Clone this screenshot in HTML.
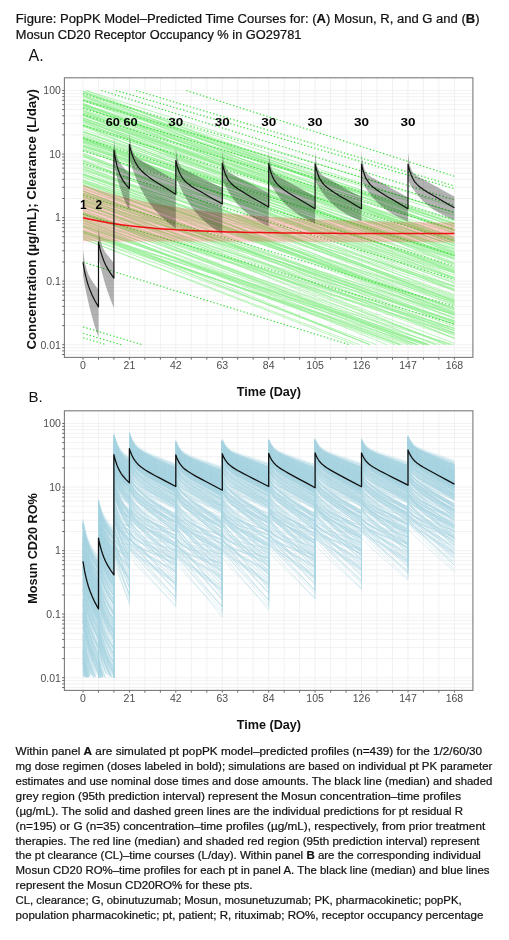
<!DOCTYPE html>
<html><head><meta charset="utf-8"><style>
html,body{margin:0;padding:0;background:#fff;width:509px;height:940px;overflow:hidden}
svg{display:block;will-change:transform}
text{font-family:"Liberation Sans",sans-serif}
.tk{font-size:10.5px;fill:#4d4d4d}
.cap{font-size:11.7px;fill:#111;stroke:#111;stroke-width:0.22px}
.ttl{font-size:12.85px;fill:#111;stroke:#111;stroke-width:0.22px}
.ax{font-size:12.4px;font-weight:bold;fill:#111}
.dl{font-size:11.5px;font-weight:bold;fill:#000}
</style></head><body>
<svg width="509" height="940" viewBox="0 0 509 940">
<rect width="509" height="940" fill="#fff"/>

<text class="ttl" x="15.8" y="22.5" textLength="463.8" lengthAdjust="spacingAndGlyphs">Figure: PopPK Model–Predicted Time Courses for: (<tspan font-weight="bold">A</tspan>) Mosun, R, and G and (<tspan font-weight="bold">B</tspan>)</text>
<text class="ttl" x="15.8" y="39.1" textLength="285.6" lengthAdjust="spacingAndGlyphs">Mosun CD20 Receptor Occupancy % in GO29781</text>
<text x="28.6" y="61.3" style="font-size:16px;fill:#111">A.</text>
<text x="28.6" y="402" style="font-size:15px;fill:#111">B.</text>
<defs><clipPath id="ca"><rect x="64.4" y="77.8" width="408.5" height="279.6"/></clipPath><clipPath id="cb"><rect x="64.4" y="410.8" width="408.5" height="279.6"/></clipPath></defs>
<path d="M83 77.8V357.4M98.5 77.8V357.4M113.9 77.8V357.4M129.4 77.8V357.4M144.9 77.8V357.4M160.4 77.8V357.4M175.8 77.8V357.4M191.3 77.8V357.4M206.8 77.8V357.4M222.3 77.8V357.4M237.7 77.8V357.4M253.2 77.8V357.4M268.7 77.8V357.4M284.2 77.8V357.4M299.6 77.8V357.4M315.1 77.8V357.4M330.6 77.8V357.4M346.1 77.8V357.4M361.5 77.8V357.4M377 77.8V357.4M392.5 77.8V357.4M408 77.8V357.4M423.4 77.8V357.4M438.9 77.8V357.4M454.4 77.8V357.4M64.4 354.5H472.9M64.4 350.9H472.9M64.4 347.6H472.9M64.4 344.7H472.9M64.4 325.6H472.9M64.4 314.4H472.9M64.4 306.4H472.9M64.4 300.3H472.9M64.4 295.2H472.9M64.4 291H472.9M64.4 287.3H472.9M64.4 284.1H472.9M64.4 281.1H472.9M64.4 262H472.9M64.4 250.8H472.9M64.4 242.9H472.9M64.4 236.7H472.9M64.4 231.7H472.9M64.4 227.4H472.9M64.4 223.8H472.9M64.4 220.5H472.9M64.4 217.6H472.9M64.4 198.5H472.9M64.4 187.3H472.9M64.4 179.3H472.9M64.4 173.2H472.9M64.4 168.1H472.9M64.4 163.9H472.9M64.4 160.2H472.9M64.4 157H472.9M64.4 154.1H472.9M64.4 134.9H472.9M64.4 123.7H472.9M64.4 115.8H472.9M64.4 109.6H472.9M64.4 104.6H472.9M64.4 100.3H472.9M64.4 96.7H472.9M64.4 93.4H472.9M64.4 90.5H472.9" stroke="#ececec" stroke-width="0.7" fill="none"/>
<g clip-path="url(#ca)">
<path d="M83 138.6L454.4 286.7M83 118.1L454.4 238.7M83 185.9L454.4 333M83 238.7L354.5 344.7M83 115.2L454.4 245.8M83 185.4L454.4 308.2M83 193L454.4 322.6M83 155.6L454.4 289.6M86.4 90.5L454.4 233M83 139L454.4 290.8M83 199.3L454.4 317.3M83 140.3L454.4 253.6M83 231.5L400.3 344.7M83 161.1L454.4 310M83 138L454.4 270.5M83 156.7L454.4 278.2M83 237L418.4 344.7M83 129.4L454.4 249M83 175.3L454.4 286.9M83 110.8L454.4 228.6M83 190.9L454.4 338.3M83 154.8L454.4 300.8M83 136.6L454.4 278.3M83 220.6L428.2 344.7M83 155.1L454.4 302.1M83 176.6L454.4 312.4M83 226.7L427.3 344.7M83 182.4L454.4 299.9M83 112.7L454.4 239.6M83 91.3L454.4 226.9M83 141.4L454.4 278.9M83 131.5L454.4 249.1M83 164.8L454.4 286.1M83 170.4L454.4 285.8M83 92.8L454.4 213M83 132.2L454.4 255.9M83 105L454.4 243.5M83 213.4L417.2 344.7M83 95.7L454.4 244.1M83 146.3L454.4 263.7M83 203L435.3 344.7M83 148.8L454.4 267.6M83 103.7L454.4 241.3M83 146.3L454.4 273.1M83 169.2L454.4 290.4M83 231L369.7 344.7M83 160.9L454.4 294.7M83 182.5L454.4 324.6M83 233.8L408.2 344.7M83 232.7L440.3 344.7M83 92.8L454.4 231.1M83 166.6L454.4 299.4M83 105.2L454.4 230.7M83 143.4L454.4 282.8M83 177.4L454.4 310.1M83 119.5L454.4 268.1M83 210L417.5 344.7M83 238.7L359.8 344.7M83 113.4L454.4 230.4M83 168L454.4 312.7M83 236.4L376.5 344.7M83 115.8L454.4 248.1M83 124.8L454.4 245.5M83 202L454.4 328.3M83 205.2L454.4 330.8M83 95.3L454.4 230.2M83 179.8L454.4 302.3M83 94.8L454.4 224.4M83 91.1L454.4 223.6M83 153.2L454.4 301.2M83 122.5L454.4 257.7M83 166.8L454.4 314.1M83 169.1L454.4 318.2M83 224.9L428 344.7M83 153.4L454.4 303.7M83 193.6L454.4 337.9M83 131.5L454.4 272.2M83 138L454.4 289.1M83 180.9L454.4 308.6M83 201.3L454.4 314.8M83 199.7L444.9 344.7M83 109.5L454.4 225.5M83 141.6L454.4 272.6M83 142.8L454.4 281.2M83 184.9L454.4 335.6M83 161.1L454.4 298.2M83 137.2L454.4 256.1M83 226.2L426.2 344.7M83 119.7L454.4 264.4M83 124.2L454.4 240.3M83 99.9L454.4 244M83 104.5L454.4 237.3M83 99.6L454.4 212.9M83 232.7L453.6 344.7M83 193.3L454.4 314.9M83 203.9L454.4 338.5M83 230.8L395 344.7M83 207.5L449.4 344.7M83 234.8L412 344.7M83 96.6L454.4 230M83 113.3L454.4 251.6M83 140.6L454.4 259.8M83 145.7L454.4 258.7M83 114.6L454.4 265.3M83 107.7L454.4 221.2M83 180L454.4 304.4M83 216.7L429.9 344.7M83 115.2L454.4 239.4M83 106.5L454.4 250.5M83 213.8L423.5 344.7M83 103.9L454.4 223.4M83 145.8L454.4 283.3M83 140.8L454.4 256.1M83 133.6L454.4 270.9M83 111.7L454.4 255.9M83 181.7L454.4 322.6M83 105.9L454.4 253.8M83 208.2L454.4 320.7M83 135.1L454.4 255.2M83 147.2L454.4 297.2M83 173.8L454.4 295.6M83 162.5L454.4 300.8M83 218.8L451.2 344.7M83 213L436.2 344.7M83 110.8L454.4 237.6M83 175L454.4 308.4M83 199.3L454.4 320.9M83 181.3L454.4 311.4M83 222.4L402.4 344.7M83 145L454.4 268.7M83 223.2L399.5 344.7M83 213.5L454.4 330.3M83 213.5L454.4 328.3M83 100.8L454.4 223.2M83 184.9L454.4 330.3M83 139.3L454.4 258.4M83 165.6L454.4 313.2M83 174.4L454.4 314.9M83 219.6L412.2 344.7M83 118L454.4 263.1M83 131.8L454.4 258.4M83 225.8L416.1 344.7M83 120.5L454.4 239.8M83 191.2L454.4 324.5M83 121.8L454.4 269.8M83 214.4L454.4 333.4M83 114.9L454.4 252.6M83 125.5L454.4 277.6M83 96.5L454.4 242.3M83 117.9L454.4 245.5M83 136.4L454.4 255.3M83 120.3L454.4 262.6M83 125.4L454.4 255M83 174L454.4 302.6M83 232L369.7 344.7M83 150.2L454.4 277.4M83 149.4L454.4 290.3M83 173.5L454.4 318.9M83 99.1L454.4 226.3M83 212.3L428.1 344.7M86.1 90.5L454.4 207M83 126.6L454.4 271.7M83 98.9L454.4 215.4M83 220.5L386.9 344.7M83 216L454.4 334.6M83 145.6L454.4 275.2M83 121.5L454.4 240.7M83 99.7L454.4 220M83 119L454.4 233.2M83 160L454.4 272.8M83 183.8L454.4 307.9M83 125.6L454.4 255.6M83 227.2L369.9 344.7M83 103.1L454.4 251.9M83 194.3L454.4 321.8M83 197.4L454.4 313.9M83 232.1L399.8 344.7M83 214.9L454.4 333.5M83 106.8L454.4 238M83 204.5L454.4 343.3M83 191.2L454.4 324.2M83 188.5L454.4 321M83 138.1L454.4 271.5M83 171.4L454.4 315.2M83 105.1L454.4 223.8M83 212.6L454.4 328.6M83 91.2L454.4 241.1M83 196.8L446.6 344.7M83 200.5L454.4 332.6M83 156.6L454.4 305.4M83 230.5L424.1 344.7M83 142.1L454.4 256.2M83 195.9L454.4 326.3M83 104.1L454.4 246.6M83 111L454.4 253.5" stroke="#90ee90" stroke-opacity="0.65" stroke-width="0.9" fill="none"/>
<path d="M186.3 90.5L454.4 176.3M136 90.5L454.4 186M115.9 90.5L454.4 188.7M101.4 90.5L454.4 199.9M83 93.7L454.4 205.1M83 100.7L454.4 212.1M83 108.3L454.4 219.7M83 114.6L454.4 229.8M83 125.5L454.4 241M83 138.2L454.4 255.3M83 150.9L454.4 266.2M83 163.6L454.4 279.5M83 195.4L454.4 306.4M83 214.4L454.4 324M83 262.1L349.5 344.7M83 326.9L142.3 344.7M83 333.3L121.1 344.7M83 337.7L106.3 344.7" stroke="#30dc30" stroke-opacity="0.9" stroke-width="1.2" stroke-dasharray="1.4 2.1" fill="none"/>
<polygon points="83,184.8 89.6,187.1 96.3,189.2 102.9,191.3 109.5,193.2 116.2,195 122.8,196.7 129.4,198.2 136.1,199.7 142.7,201.2 149.3,202.5 156,203.7 162.6,204.9 169.2,206 175.8,207.1 182.5,208.1 189.1,209 195.7,209.9 202.4,210.7 209,211.5 215.6,212.2 222.3,212.9 228.9,213.5 235.5,214.1 242.2,214.7 248.8,215.3 255.4,215.8 262.1,216.2 268.7,216.7 275.3,217.1 282,217.5 288.6,217.9 295.2,218.3 301.9,218.6 308.5,218.9 315.1,219.2 321.8,219.5 328.4,219.7 335,220 341.7,220.2 348.3,220.4 354.9,220.7 361.5,220.8 368.2,221 374.8,221.2 381.4,221.4 388.1,221.5 394.7,221.7 401.3,221.8 408,221.9 414.6,222 421.2,222.2 427.9,222.3 434.5,222.4 441.1,222.5 447.8,222.6 454.4,222.6 454.4,242.2 447.8,242.2 441.1,242.2 434.5,242.2 427.9,242.1 421.2,242.1 414.6,242.1 408,242.1 401.3,242.1 394.7,242.1 388.1,242 381.4,242 374.8,242 368.2,242 361.5,242 354.9,242 348.3,241.9 341.7,241.9 335,241.9 328.4,241.9 321.8,241.9 315.1,241.9 308.5,241.8 301.9,241.8 295.2,241.8 288.6,241.8 282,241.8 275.3,241.8 268.7,241.8 262.1,241.7 255.4,241.7 248.8,241.7 242.2,241.7 235.5,241.7 228.9,241.7 222.3,241.6 215.6,241.6 209,241.6 202.4,241.6 195.7,241.6 189.1,241.6 182.5,241.5 175.8,241.5 169.2,241.5 162.6,241.5 156,241.5 149.3,241.5 142.7,241.4 136.1,241.4 129.4,241.4 122.8,241.4 116.2,241.4 109.5,241.4 102.9,241.3 96.3,241.3 89.6,241.3 83,241.3" fill="#ff1010" fill-opacity="0.22"/>
<polygon points="83,249.6 83.2,251.5 83.6,254.1 84,257.2 84.5,260.5 85.2,263.9 86.1,267.5 87.2,271.1 88.5,274.4 90.1,277.5 92.3,281.2 94.9,285 98.5,289.7 98.5,337.4 94.9,326.7 92.3,317.7 90.1,309.4 88.5,303.1 87.2,297.2 86.1,291.9 85.2,287.5 84.5,283.9 84,280.9 83.6,278.3 83.2,276.4 83,275" fill="#000" fill-opacity="0.3"/>
<polygon points="98.5,227.3 98.7,229.3 99,231.9 99.5,234.9 100,238.1 100.7,241.1 101.6,244.3 102.7,247.3 104,250 105.5,252.5 107.8,255.5 110.4,258.8 113.9,262.9 113.9,308 110.4,299.3 107.8,292 105.5,285.2 104,280 102.7,275.3 101.6,271 100.7,267.3 100,264.4 99.5,261.9 99,259.9 98.7,258.3 98.5,257.2" fill="#000" fill-opacity="0.3"/>
<polygon points="113.9,138.1 114.2,140.4 114.5,143.4 114.9,146.8 115.5,150.2 116.2,153.5 117,156.7 118.2,159.6 119.5,162.1 121,164.3 123.2,167 125.9,169.9 129.4,173.6 129.4,210.7 125.9,203.3 123.2,196.9 121,190.8 119.5,186.1 118.2,181.6 117,177.5 116.2,174 115.5,171.2 114.9,168.8 114.5,166.8 114.2,165.2 113.9,164.2" fill="#000" fill-opacity="0.3"/>
<polygon points="129.4,131.9 129.6,134.4 130,137.6 130.4,141.1 131,144.6 131.6,147.9 132.5,151 133.6,153.6 135,155.6 136.5,157.2 138.7,158.9 141.4,160.6 144.9,162.7 149.3,165.2 154.8,168.4 160.4,171.6 167,175.4 175.8,180.5 175.8,228.5 167,221.7 160.4,215.7 154.8,209.9 149.3,203 144.9,196.3 141.4,190 138.7,184.5 136.5,179.4 135,175.5 133.6,171.9 132.5,168.7 131.6,166 131,163.8 130.4,162 130,160.5 129.6,159.4 129.4,158.6" fill="#000" fill-opacity="0.3"/>
<polygon points="175.8,147.8 176.1,149.8 176.4,152.5 176.8,155.5 177.4,158.4 178.1,161 178.9,163.5 180,165.6 181.4,167.2 182.9,168.5 185.1,169.9 187.8,171.3 191.3,173 195.7,175.2 201.3,177.9 206.8,180.6 213.4,183.8 222.3,188.1 222.3,234.2 213.4,228.3 206.8,223.2 201.3,218.2 195.7,212.2 191.3,206.6 187.8,201.3 185.1,196.8 182.9,192.7 181.4,189.5 180,186.7 178.9,184.1 178.1,182 177.4,180.4 176.8,179 176.4,177.8 176.1,177 175.8,176.4" fill="#000" fill-opacity="0.3"/>
<polygon points="222.3,150.4 222.5,152.5 222.8,155.4 223.3,158.5 223.8,161.6 224.5,164.4 225.4,167.1 226.5,169.3 227.8,171 229.3,172.4 231.6,173.8 234.2,175.3 237.7,177.2 242.2,179.4 247.7,182.3 253.2,185.1 259.9,188.6 268.7,193.1 268.7,226.5 259.9,221.9 253.2,217.8 247.7,213.8 242.2,209 237.7,204.4 234.2,200.1 231.6,196.4 229.3,193 227.8,190.5 226.5,188.1 225.4,186 224.5,184.3 223.8,182.9 223.3,181.8 222.8,180.8 222.5,180.1 222.3,179.6" fill="#000" fill-opacity="0.3"/>
<polygon points="268.7,150.9 268.9,153.2 269.3,156.3 269.7,159.6 270.2,163 270.9,166 271.8,168.8 272.9,171.1 274.2,173 275.8,174.5 278,176 280.6,177.6 284.2,179.6 288.6,182 294.1,185.1 299.6,188.1 306.3,191.8 315.1,196.7 315.1,223.4 306.3,219.1 299.6,215.4 294.1,211.6 288.6,207.2 284.2,203 280.6,199 278,195.6 275.8,192.5 274.2,190.1 272.9,187.9 271.8,186 270.9,184.4 270.2,183.2 269.7,182.1 269.3,181.2 268.9,180.6 268.7,180.1" fill="#000" fill-opacity="0.3"/>
<polygon points="315.1,151.3 315.3,153.6 315.7,156.7 316.1,160.1 316.7,163.4 317.3,166.4 318.2,169.3 319.3,171.6 320.7,173.5 322.2,175 324.4,176.5 327.1,178.1 330.6,180.1 335,182.6 340.5,185.7 346.1,188.7 352.7,192.4 361.5,197.3 361.5,221.5 352.7,217.5 346.1,213.9 340.5,210.4 335,206.2 330.6,202.1 327.1,198.4 324.4,195.2 322.2,192.2 320.7,190 319.3,187.9 318.2,186.1 317.3,184.6 316.7,183.4 316.1,182.4 315.7,181.6 315.3,180.9 315.1,180.5" fill="#000" fill-opacity="0.3"/>
<polygon points="361.5,151.3 361.8,153.6 362.1,156.7 362.5,160.1 363.1,163.5 363.8,166.5 364.6,169.4 365.7,171.7 367.1,173.6 368.6,175.1 370.8,176.7 373.5,178.3 377,180.3 381.4,182.8 387,185.8 392.5,188.9 399.1,192.6 408,197.6 408,221.5 399.1,217.5 392.5,213.9 387,210.4 381.4,206.2 377,202.1 373.5,198.4 370.8,195.2 368.6,192.2 367.1,190 365.7,187.9 364.6,186.1 363.8,184.6 363.1,183.4 362.5,182.4 362.1,181.6 361.8,180.9 361.5,180.5" fill="#000" fill-opacity="0.3"/>
<polygon points="408,151.3 408.2,153.6 408.5,156.6 409,159.9 409.5,163.2 410.2,166.2 411.1,169 412.2,171.3 413.5,173.1 415,174.6 417.3,176.1 419.9,177.7 423.4,179.6 427.9,182.1 433.4,185.1 438.9,188.1 445.6,191.7 454.4,196.6 454.4,220.1 445.6,216.2 438.9,212.8 433.4,209.4 427.9,205.3 423.4,201.4 419.9,197.8 417.3,194.7 415,191.8 413.5,189.7 412.2,187.7 411.1,185.9 410.2,184.4 409.5,183.3 409,182.3 408.5,181.5 408.2,180.9 408,180.5" fill="#000" fill-opacity="0.3"/>
<polyline points="83,217.7 89.6,219.2 96.3,220.6 102.9,221.8 109.5,223 116.2,224 122.8,224.9 129.4,225.8 136.1,226.5 142.7,227.2 149.3,227.8 156,228.4 162.6,228.9 169.2,229.3 175.8,229.8 182.5,230.1 189.1,230.5 195.7,230.8 202.4,231.1 209,231.3 215.6,231.5 222.3,231.7 228.9,231.9 235.5,232.1 242.2,232.2 248.8,232.4 255.4,232.5 262.1,232.6 268.7,232.7 275.3,232.8 282,232.9 288.6,233 295.2,233 301.9,233.1 308.5,233.2 315.1,233.2 321.8,233.3 328.4,233.3 335,233.3 341.7,233.4 348.3,233.4 354.9,233.4 361.5,233.5 368.2,233.5 374.8,233.5 381.4,233.5 388.1,233.5 394.7,233.6 401.3,233.6 408,233.6 414.6,233.6 421.2,233.6 427.9,233.6 434.5,233.6 441.1,233.6 447.8,233.6 454.4,233.6" stroke="#f01010" stroke-width="1.5" fill="none"/>
<polyline points="83,262.3 83.2,263.7 83.6,265.6 84,268.1 84.5,270.9 85.2,274 86.1,277.7 87.2,281.8 88.5,286.1 90.1,290.3 92.3,295.5 94.9,300.8 98.5,306.9 98.5,241.9 98.7,243 99,244.6 99.5,246.6 100,248.9 100.7,251.4 101.6,254.5 102.7,257.8 104,261.2 105.5,264.7 107.8,268.9 110.4,273.2 113.9,278.2 113.9,150.2 114.2,151.6 114.5,153.7 114.9,156.3 115.5,159.2 116.2,162.3 117,165.9 118.2,169.7 119.5,173.4 121,176.9 123.2,180.9 125.9,184.6 129.4,188.5 129.4,144.6 129.6,145.6 130,147 130.4,148.8 131,150.8 131.6,153 132.5,155.7 133.6,158.5 135,161.5 136.5,164.3 138.7,167.6 141.4,170.7 144.9,174 149.3,177.4 154.8,181.2 160.4,184.7 167,188.8 175.8,194.2 175.8,160.5 176.1,161.5 176.4,162.9 176.8,164.7 177.4,166.7 178.1,168.8 178.9,171.3 180,173.8 181.4,176.3 182.9,178.6 185.1,181.2 187.8,183.6 191.3,186.2 195.7,188.9 201.3,192.1 206.8,195.3 213.4,199 222.3,204 222.3,163.1 222.5,164.1 222.8,165.6 223.3,167.4 223.8,169.4 224.5,171.5 225.4,174 226.5,176.5 227.8,179 229.3,181.3 231.6,183.8 234.2,186.2 237.7,188.8 242.2,191.6 247.7,194.9 253.2,198.2 259.9,202 268.7,207.1 268.7,163.6 268.9,164.6 269.3,166.1 269.7,168 270.2,170.1 270.9,172.3 271.8,174.8 272.9,177.4 274.2,179.9 275.8,182.3 278,184.9 280.6,187.3 284.2,190 288.6,192.9 294.1,196.3 299.6,199.6 306.3,203.5 315.1,208.8 315.1,164 315.3,165 315.7,166.5 316.1,168.3 316.7,170.4 317.3,172.6 318.2,175.1 319.3,177.7 320.7,180.2 322.2,182.5 324.4,185.1 327.1,187.5 330.6,190.1 335,193 340.5,196.4 346.1,199.6 352.7,203.6 361.5,208.8 361.5,164 361.8,165 362.1,166.5 362.5,168.3 363.1,170.4 363.8,172.6 364.6,175.1 365.7,177.7 367.1,180.2 368.6,182.5 370.8,185.1 373.5,187.5 377,190.1 381.4,193 387,196.4 392.5,199.6 399.1,203.6 408,208.8 408,164 408.2,165 408.5,166.4 409,168.2 409.5,170.2 410.2,172.4 411.1,174.8 412.2,177.3 413.5,179.8 415,182.1 417.3,184.6 419.9,187 423.4,189.6 427.9,192.4 433.4,195.6 438.9,198.8 445.6,202.7 454.4,207.7" stroke="#111" stroke-width="1.2" fill="none" stroke-linejoin="round"/>
</g>
<path d="M62.2 354.5H64.4M62.2 350.9H64.4M62.2 347.6H64.4M62.2 344.7H64.4M62.2 325.6H64.4M62.2 314.4H64.4M62.2 306.4H64.4M62.2 300.3H64.4M62.2 295.2H64.4M62.2 291H64.4M62.2 287.3H64.4M62.2 284.1H64.4M62.2 281.1H64.4M62.2 262H64.4M62.2 250.8H64.4M62.2 242.9H64.4M62.2 236.7H64.4M62.2 231.7H64.4M62.2 227.4H64.4M62.2 223.8H64.4M62.2 220.5H64.4M62.2 217.6H64.4M62.2 198.5H64.4M62.2 187.3H64.4M62.2 179.3H64.4M62.2 173.2H64.4M62.2 168.1H64.4M62.2 163.9H64.4M62.2 160.2H64.4M62.2 157H64.4M62.2 154.1H64.4M62.2 134.9H64.4M62.2 123.7H64.4M62.2 115.8H64.4M62.2 109.6H64.4M62.2 104.6H64.4M62.2 100.3H64.4M62.2 96.7H64.4M62.2 93.4H64.4M62.2 90.5H64.4M83 357.4v2.2M98.5 357.4v2.2M113.9 357.4v2.2M129.4 357.4v2.2M144.9 357.4v2.2M160.4 357.4v2.2M175.8 357.4v2.2M191.3 357.4v2.2M206.8 357.4v2.2M222.3 357.4v2.2M237.7 357.4v2.2M253.2 357.4v2.2M268.7 357.4v2.2M284.2 357.4v2.2M299.6 357.4v2.2M315.1 357.4v2.2M330.6 357.4v2.2M346.1 357.4v2.2M361.5 357.4v2.2M377 357.4v2.2M392.5 357.4v2.2M408 357.4v2.2M423.4 357.4v2.2M438.9 357.4v2.2M454.4 357.4v2.2" stroke="#555" stroke-width="0.9" fill="none"/>
<rect x="64.4" y="77.8" width="408.5" height="279.6" fill="none" stroke="#7a7a7a" stroke-width="1.1"/>
<text x="60.9" y="94.3" text-anchor="end" class="tk">100</text>
<text x="60.9" y="157.9" text-anchor="end" class="tk">10</text>
<text x="60.9" y="221.4" text-anchor="end" class="tk">1</text>
<text x="60.9" y="284.9" text-anchor="end" class="tk">0.1</text>
<text x="60.9" y="348.5" text-anchor="end" class="tk">0.01</text>
<text x="83" y="369.2" text-anchor="middle" class="tk">0</text>
<text x="129.4" y="369.2" text-anchor="middle" class="tk">21</text>
<text x="175.8" y="369.2" text-anchor="middle" class="tk">42</text>
<text x="222.3" y="369.2" text-anchor="middle" class="tk">63</text>
<text x="268.7" y="369.2" text-anchor="middle" class="tk">84</text>
<text x="315.1" y="369.2" text-anchor="middle" class="tk">105</text>
<text x="361.5" y="369.2" text-anchor="middle" class="tk">126</text>
<text x="408" y="369.2" text-anchor="middle" class="tk">147</text>
<text x="454.4" y="369.2" text-anchor="middle" class="tk">168</text>
<text class="dl" style="font-size:12px" x="83.4" y="209.3" text-anchor="middle">1</text>
<text class="dl" style="font-size:12px" x="98.9" y="209.3" text-anchor="middle">2</text>
<text class="dl" x="121.65" y="125.9" text-anchor="middle" textLength="32" lengthAdjust="spacingAndGlyphs">60 60</text>
<text class="dl" x="175.8" y="125.9" text-anchor="middle" textLength="15" lengthAdjust="spacingAndGlyphs">30</text>
<text class="dl" x="222.3" y="125.9" text-anchor="middle" textLength="15" lengthAdjust="spacingAndGlyphs">30</text>
<text class="dl" x="268.7" y="125.9" text-anchor="middle" textLength="15" lengthAdjust="spacingAndGlyphs">30</text>
<text class="dl" x="315.1" y="125.9" text-anchor="middle" textLength="15" lengthAdjust="spacingAndGlyphs">30</text>
<text class="dl" x="361.5" y="125.9" text-anchor="middle" textLength="15" lengthAdjust="spacingAndGlyphs">30</text>
<text class="dl" x="408" y="125.9" text-anchor="middle" textLength="15" lengthAdjust="spacingAndGlyphs">30</text>
<text class="ax" x="268.9" y="396.1" text-anchor="middle" textLength="64.4" lengthAdjust="spacingAndGlyphs">Time (Day)</text>
<text class="ax" transform="translate(36.4 219.3) rotate(-90)" x="0" y="0" text-anchor="middle" textLength="260.6" lengthAdjust="spacingAndGlyphs">Concentration (µg/mL); Clearance (L/day)</text>
<path d="M83 410.8V690.4M98.5 410.8V690.4M113.9 410.8V690.4M129.4 410.8V690.4M144.9 410.8V690.4M160.4 410.8V690.4M175.8 410.8V690.4M191.3 410.8V690.4M206.8 410.8V690.4M222.3 410.8V690.4M237.7 410.8V690.4M253.2 410.8V690.4M268.7 410.8V690.4M284.2 410.8V690.4M299.6 410.8V690.4M315.1 410.8V690.4M330.6 410.8V690.4M346.1 410.8V690.4M361.5 410.8V690.4M377 410.8V690.4M392.5 410.8V690.4M408 410.8V690.4M423.4 410.8V690.4M438.9 410.8V690.4M454.4 410.8V690.4M64.4 687.5H472.9M64.4 683.9H472.9M64.4 680.6H472.9M64.4 677.7H472.9M64.4 658.6H472.9M64.4 647.4H472.9M64.4 639.4H472.9M64.4 633.3H472.9M64.4 628.2H472.9M64.4 624H472.9M64.4 620.3H472.9M64.4 617.1H472.9M64.4 614.1H472.9M64.4 595H472.9M64.4 583.8H472.9M64.4 575.9H472.9M64.4 569.7H472.9M64.4 564.7H472.9M64.4 560.4H472.9M64.4 556.8H472.9M64.4 553.5H472.9M64.4 550.6H472.9M64.4 531.5H472.9M64.4 520.3H472.9M64.4 512.3H472.9M64.4 506.2H472.9M64.4 501.1H472.9M64.4 496.9H472.9M64.4 493.2H472.9M64.4 490H472.9M64.4 487.1H472.9M64.4 467.9H472.9M64.4 456.7H472.9M64.4 448.8H472.9M64.4 442.6H472.9M64.4 437.6H472.9M64.4 433.3H472.9M64.4 429.7H472.9M64.4 426.4H472.9M64.4 423.5H472.9" stroke="#ececec" stroke-width="0.7" fill="none"/>
<g clip-path="url(#cb)">
<path transform="scale(0.25)" d="M456 2711v-468l3 11l5 15l7 21l10 28l15 38l22 51v-187l3 6l6 10l10 13l16 19l27 29l39 40l40 40l44 44v-176l4 6l6 10l10 13l16 19l26 30l40 42l40 42l44 46v-226l4 6l6 9l10 13l15 18l27 28l40 41l40 41l44 45v-227l3 6l7 9l9 12l16 17l27 27l39 39l40 39l44 43v-219l4 5l6 9l10 12l16 16l26 26l40 37l40 37l44 41v-208l4 5l6 8l10 11l16 16l26 24l40 35l40 34l44 39v-210l3 5l7 9l9 11l16 16l27 25l40 35l39 36l45 39M456 2711v-488l3 12l5 18l7 24l10 34l15 45l22 62v-219l3 7l6 11l10 15l16 21l27 33l39 46l40 45l44 51v-204l4 7l6 11l10 15l16 23l26 34l40 50l40 49l44 55v-262l4 7l6 10l10 15l15 21l27 33l40 48l40 48l44 53v-260l3 6l7 9l9 14l16 19l27 31l39 43l40 44l44 48v-241l4 5l6 9l10 13l16 18l26 28l40 41l40 41l44 45v-225l4 5l6 8l10 12l16 17l26 26l40 37l40 38l44 41v-222l3 6l7 8l9 12l16 17l27 26l40 38l39 38l45 41M456 2711v-498l3 10l5 16l7 21l10 28l15 38l22 51v-188l3 7l6 9l10 14l16 19l27 28l39 40l40 39l44 43v-173l4 6l6 10l10 13l16 20l26 29l40 43l40 42l44 47v-228l4 6l6 9l10 13l15 18l27 29l40 41l40 41l44 45v-227l3 5l7 9l9 12l16 17l27 26l39 38l40 38l44 42v-214l4 5l6 9l10 11l16 16l26 25l40 35l40 35l44 39v-200l4 5l6 8l10 11l16 15l26 22l40 33l40 32l44 36v-199l3 5l7 9l9 10l16 16l27 23l40 32l39 33l45 36M456 2711v-493l3 7l5 11l7 13l10 17l15 22l22 28v-121l3 5l6 8l10 10l16 14l27 20l39 27l40 26l44 29v-114l4 5l6 7l10 10l16 14l26 19l40 28l40 27l44 30v-158l4 5l6 7l10 9l15 13l27 18l40 27l40 26l44 29v-159l3 5l7 7l9 9l16 13l27 19l39 26l40 26l44 30v-161l4 4l6 7l10 9l16 13l26 18l40 25l40 26l44 28v-155l4 4l6 7l10 9l16 11l26 18l40 24l40 24l44 27v-161l3 5l7 7l9 9l16 12l27 18l40 25l39 26l45 28M456 2711v-503l3 7l5 11l7 14l10 18l15 24l22 30v-128l3 5l6 9l10 10l16 15l27 20l39 28l40 28l44 30v-120l4 6l6 7l10 11l16 14l26 20l40 29l40 28l44 32v-164l4 5l6 7l10 10l15 13l27 19l40 28l40 27l44 31v-165l3 4l7 8l9 9l16 14l27 19l39 28l40 27l44 31v-167l4 5l6 7l10 9l16 13l26 19l40 27l40 26l44 30v-160l4 4l6 7l10 9l16 12l26 18l40 25l40 25l44 28v-165l3 5l7 7l9 9l16 13l27 18l40 27l39 26l45 29M456 2711v-498l3 7l5 10l7 11l10 16l15 19l22 24v-110l3 5l6 7l10 10l16 13l27 18l39 25l40 23l44 26v-102l4 5l6 7l10 9l16 13l26 18l40 25l40 24l44 27v-145l4 4l6 7l10 8l15 12l27 17l40 24l40 23l44 26v-146l3 4l7 7l9 9l16 11l27 17l39 24l40 24l44 27v-150l4 5l6 6l10 9l16 11l26 17l40 23l40 23l44 26v-144l4 4l6 7l10 8l16 11l26 15l40 22l40 22l44 24v-149l3 4l7 7l9 8l16 12l27 16l40 23l39 23l45 25M394 2711v-17l3 16l0 1M456 2711v-519l3 5l5 8l7 10l10 13l15 14l22 18v-92l3 5l6 7l10 9l16 12l27 16l39 20l40 21l44 22v-87l4 5l6 6l10 9l16 11l26 14l40 21l40 20l44 23v-126l4 4l6 6l10 8l15 10l27 14l40 20l40 19l44 22v-128l3 5l7 6l9 8l16 11l27 15l39 21l40 22l44 23v-136l4 4l6 6l10 8l16 11l26 15l40 22l40 21l44 23v-134l4 4l6 6l10 8l16 10l26 15l40 20l40 20l44 23v-142l3 4l7 7l9 8l16 11l27 15l40 22l39 22l45 24M456 2711v-505l3 12l5 18l7 23l10 33l15 43l22 59v-211l3 6l6 11l10 15l16 21l27 32l39 44l40 44l44 48v-196l4 7l6 11l10 15l16 21l26 33l40 48l40 47l44 53v-252l4 6l6 10l10 15l15 20l27 32l40 46l40 46l44 51v-251l3 6l7 10l9 13l16 19l27 29l39 43l40 42l44 46v-234l4 6l6 9l10 13l16 18l26 27l40 39l40 39l44 44v-218l4 5l6 9l10 11l16 17l26 25l40 36l40 36l44 40v-215l3 5l7 9l9 12l16 17l27 25l40 37l39 36l45 40M394 2711v-18l3 15l0 2M456 2711v-519l3 3l5 5l7 4l10 5l15 3l22 1v-45l3 4l6 6l10 7l16 8l27 9l39 12l40 10l44 12v-43l4 4l6 5l10 6l16 7l26 8l40 10l40 9l44 11v-77l4 4l6 4l10 6l15 6l27 7l40 9l40 9l44 10v-79l3 4l7 5l9 6l16 7l27 9l39 13l40 12l44 13v-94l4 3l6 6l10 6l16 7l26 10l40 13l40 13l44 14v-95l4 3l6 5l10 6l16 7l26 10l40 12l40 13l44 13v-105l3 4l7 5l9 7l16 8l27 10l40 14l39 14l45 16M394 2711v-33l3 16l4 17M456 2711v-532l3 5l5 8l7 8l10 11l15 11l22 14v-81l3 5l6 7l10 9l16 11l27 14l39 18l40 18l44 20v-76l4 4l6 6l10 8l16 10l26 13l40 18l40 18l44 19v-113l4 4l6 5l10 8l15 9l27 12l40 17l40 17l44 19v-115l3 4l7 6l9 8l16 10l27 13l39 19l40 19l44 20v-125l4 4l6 7l10 7l16 10l26 14l40 19l40 19l44 21v-124l4 4l6 6l10 7l16 10l26 13l40 18l40 18l44 21v-133l3 5l7 6l9 8l16 10l27 14l40 20l39 20l45 21M394 2711v-57l3 16l5 23l4 15M456 2711v-552l3 10l5 14l7 19l10 26l15 33l22 44v-169l3 6l6 9l10 14l16 18l27 26l39 36l40 35l44 39v-158l4 6l6 9l10 13l16 18l26 27l40 38l40 37l44 42v-207l4 6l6 9l10 12l15 16l27 26l40 36l40 37l44 40v-206l3 6l7 8l9 12l16 16l27 24l39 35l40 35l44 39v-200l4 5l6 8l10 12l16 15l26 23l40 34l40 33l44 36v-189l4 5l6 7l10 11l16 15l26 21l40 32l40 31l44 34v-192l3 5l7 8l9 11l16 15l27 23l40 32l39 31l45 35M394 2711v-7l1 4M456 2711v-510l3 9l5 12l7 16l10 21l15 27l22 35v-143l3 5l6 9l10 12l16 16l27 22l39 31l40 30l44 33v-133l4 5l6 9l10 11l16 16l26 22l40 33l40 31l44 36v-180l4 5l6 8l10 11l15 14l27 22l40 31l40 30l44 34v-179l3 5l7 8l9 10l16 14l27 21l39 30l40 30l44 32v-175l4 5l6 7l10 10l16 14l26 20l40 28l40 28l44 31v-166l4 4l6 7l10 10l16 13l26 18l40 27l40 26l44 29v-170l3 5l7 7l9 10l16 13l27 20l40 27l39 27l45 30M394 2711v-16l2 9M456 2711v-517l3 6l5 8l7 11l10 13l15 15l22 19v-96l3 5l6 8l10 9l16 12l27 16l39 22l40 21l44 22v-90l4 5l6 7l10 9l16 11l26 15l40 22l40 21l44 23v-129l4 4l6 6l10 8l15 11l27 14l40 21l40 20l44 22v-130l3 4l7 7l9 8l16 11l27 16l39 21l40 22l44 23v-137l4 4l6 6l10 9l16 11l26 15l40 21l40 22l44 23v-135l4 5l6 6l10 8l16 10l26 15l40 20l40 21l44 22v-142l3 4l7 7l9 8l16 11l27 16l40 22l39 22l45 24M394 2711v-17l3 16l0 0M456 2711v-517l3 12l5 17l7 24l10 32l15 44l22 58v-211l3 7l6 11l10 15l16 21l27 32l39 44l40 43l44 48v-196l4 7l6 11l10 15l16 22l26 33l40 47l40 47l44 52v-250l4 6l6 10l10 15l15 20l27 32l40 45l40 46l44 50v-248l3 6l7 10l9 13l16 20l27 29l39 41l40 42l44 46v-232l4 6l6 9l10 13l16 18l26 27l40 39l40 39l44 43v-217l4 6l6 9l10 11l16 17l26 25l40 36l40 36l44 40v-215l3 6l7 9l9 12l16 17l27 25l40 37l39 36l45 40M394 2711v-43l3 18l2 9M456 2711v-538l3 8l5 12l7 16l10 21l15 27l22 35v-143l3 6l6 9l10 12l16 16l27 23l39 31l40 30l44 33v-135l4 6l6 8l10 12l16 15l26 22l40 32l40 31l44 35v-178l4 6l6 8l10 10l15 15l27 21l40 31l40 30l44 33v-177l3 5l7 8l9 11l16 15l27 21l39 31l40 31l44 34v-181l4 5l6 8l10 11l16 14l26 21l40 31l40 29l44 34v-175l4 4l6 8l10 10l16 14l26 20l40 29l40 28l44 32v-181l3 6l7 8l9 10l16 14l27 21l40 30l39 30l45 33M394 2711v-19l3 16l1 2M456 2711v-519l3 9l5 12l7 16l10 21l15 27l22 35v-143l3 6l6 9l10 11l16 16l27 23l39 30l40 30l44 33v-133l4 6l6 8l10 12l16 15l26 23l40 32l40 32l44 35v-180l4 6l6 8l10 10l15 15l27 22l40 30l40 31l44 34v-179l3 5l7 8l9 11l16 14l27 21l39 29l40 30l44 33v-176l4 6l6 7l10 10l16 14l26 20l40 28l40 28l44 31v-166l4 5l6 7l10 9l16 13l26 19l40 26l40 26l44 29v-169l3 5l7 8l9 9l16 14l27 19l40 27l39 27l45 30M394 2711v-36l3 17l3 16M456 2711v-532l3 5l5 7l7 8l10 10l15 9l22 11v-73l3 4l6 7l10 9l16 11l27 13l39 17l40 16l44 18v-70l4 4l6 7l10 7l16 9l26 12l40 16l40 16l44 17v-105l4 4l6 6l10 7l15 9l27 11l40 15l40 15l44 16v-106l3 5l7 6l9 8l16 9l27 13l39 18l40 17l44 20v-120l4 4l6 7l10 7l16 10l26 14l40 18l40 18l44 20v-120l4 4l6 6l10 8l16 9l26 13l40 18l40 18l44 20v-131l3 5l7 6l9 8l16 11l27 14l40 19l39 20l45 21M394 2711v-46l3 16l5 22l2 7M456 2711v-540l3 12l5 17l7 22l10 31l15 41l22 54v-201l3 7l6 11l10 15l16 21l27 30l39 42l40 41l44 45v-186l4 7l6 10l10 15l16 21l26 31l40 45l40 44l44 49v-239l4 7l6 10l10 14l15 20l27 29l40 44l40 43l44 47v-236l3 6l7 9l9 14l16 18l27 28l39 40l40 40l44 44v-224l4 6l6 10l10 12l16 18l26 26l40 37l40 37l44 42v-210l4 6l6 9l10 11l16 17l26 24l40 34l40 35l44 38v-208l3 6l7 9l9 12l16 16l27 25l40 35l39 35l45 39M394 2711v-39l3 16l5 22l0 0M456 2711v-534l3 5l5 6l7 7l10 7l15 8l22 7v-63l3 4l6 7l10 8l16 10l27 12l39 14l40 14l44 15v-59l4 4l6 6l10 7l16 9l26 10l40 14l40 13l44 14v-93l4 4l6 5l10 6l15 8l27 10l40 12l40 13l44 14v-95l3 4l7 6l9 7l16 9l27 11l39 16l40 15l44 16v-108l4 5l6 5l10 8l16 9l26 11l40 16l40 16l44 17v-108l4 4l6 5l10 7l16 9l26 11l40 16l40 15l44 17v-118l3 4l7 6l9 7l16 10l27 12l40 17l39 17l45 19M394 2711v-45l3 16l5 23l1 6M456 2711v-538l3 7l5 11l7 14l10 17l15 21l22 27v-121l3 6l6 8l10 11l16 15l27 19l39 26l40 26l44 28v-114l4 6l6 8l10 10l16 14l26 19l40 26l40 26l44 29v-154l4 5l6 8l10 9l15 13l27 18l40 26l40 25l44 28v-154l3 5l7 8l9 9l16 13l27 19l39 26l40 25l44 29v-158l4 5l6 8l10 9l16 13l26 18l40 25l40 26l44 27v-152l4 5l6 7l10 9l16 12l26 17l40 24l40 24l44 26v-158l3 5l7 7l9 10l16 13l27 18l40 25l39 25l45 28M394 2711v-54l3 17l5 23l2 7M456 2711v-545l3 12l5 17l7 24l10 32l15 42l22 56v-207l3 7l6 11l10 16l16 21l27 31l39 43l40 42l44 47v-193l4 7l6 12l10 15l16 21l26 32l40 46l40 45l44 51v-245l4 7l6 10l10 15l15 20l27 31l40 44l40 44l44 49v-242l3 7l7 10l9 13l16 19l27 29l39 41l40 41l44 46v-229l4 6l6 10l10 12l16 18l26 27l40 39l40 39l44 43v-216l4 6l6 9l10 12l16 17l26 25l40 36l40 36l44 40v-214l3 6l7 9l9 12l16 17l27 26l40 37l39 36l45 40M394 2711v-33l3 17l3 15M456 2711v-528l3 13l5 18l7 25l10 35l15 45l22 61v-220l3 7l6 12l10 16l16 22l27 33l39 45l40 45l44 50v-205l4 7l6 12l10 16l16 22l26 34l40 49l40 48l44 54v-258l4 7l6 11l10 15l15 21l27 33l40 47l40 47l44 52v-255l3 6l7 11l9 14l16 20l27 30l39 44l40 43l44 49v-241l4 7l6 10l10 13l16 19l26 29l40 41l40 40l44 46v-226l4 6l6 9l10 13l16 18l26 26l40 38l40 38l44 42v-224l3 6l7 10l9 13l16 18l27 27l40 38l39 39l45 42M394 2711v-45l3 17l5 22l1 5M456 2711v-537l3 11l5 18l7 23l10 32l15 41l22 56v-205l3 7l6 11l10 15l16 21l27 31l39 42l40 42l44 47v-191l4 7l6 11l10 15l16 22l26 31l40 45l40 45l44 50v-242l4 7l6 10l10 14l15 21l27 30l40 44l40 43l44 48v-239l3 7l7 10l9 13l16 19l27 28l39 41l40 40l44 45v-226l4 6l6 10l10 12l16 18l26 27l40 38l40 38l44 42v-212l4 6l6 8l10 12l16 17l26 25l40 35l40 35l44 39v-211l3 6l7 9l9 13l16 17l27 25l40 35l39 36l45 39M394 2711v-60l3 16l5 21l2 9M456 2711v-550l3 11l5 15l7 21l10 28l15 36l22 48v-183l3 7l6 10l10 15l16 19l27 28l39 38l40 37l44 41v-170l4 7l6 11l10 13l16 20l26 28l40 41l40 40l44 44v-219l4 6l6 9l10 14l15 18l27 27l40 39l40 39l44 43v-217l3 6l7 9l9 12l16 18l27 25l39 37l40 36l44 40v-207l4 6l6 9l10 12l16 16l26 24l40 35l40 34l44 37v-194l4 6l6 8l10 11l16 15l26 23l40 31l40 32l44 35v-194l3 5l7 9l9 12l16 15l27 23l40 32l39 32l45 36M394 2711v-68l3 16l5 21l7 26l1 4M456 2711v-557l3 6l5 8l7 9l10 11l15 12l22 14v-83l3 5l6 7l10 9l16 12l27 14l39 18l40 18l44 19v-77l4 4l6 7l10 9l16 10l26 13l40 18l40 18l44 19v-114l4 4l6 6l10 8l15 10l27 12l40 17l40 17l44 18v-114l3 4l7 7l9 8l16 10l27 14l39 18l40 19l44 20v-123l4 4l6 7l10 8l16 10l26 14l40 18l40 19l44 20v-121l4 4l6 6l10 8l16 10l26 13l40 17l40 18l44 20v-130l3 5l7 6l9 9l16 10l27 14l40 19l39 19l45 21M394 2711v-64l3 16l5 22l5 21M456 2711v-554l3 5l5 6l7 6l10 7l15 6l22 5v-58l3 4l6 7l10 8l16 10l27 11l39 14l40 12l44 15v-56l4 4l6 6l10 7l16 8l26 10l40 12l40 12l44 13v-88l4 4l6 5l10 7l15 7l27 9l40 11l40 11l44 13v-89l3 4l7 6l9 7l16 9l27 11l39 14l40 15l44 15v-104l4 4l6 6l10 8l16 8l26 12l40 15l40 15l44 17v-106l4 4l6 6l10 7l16 8l26 12l40 15l40 15l44 16v-116l3 4l7 6l9 8l16 9l27 13l40 16l39 17l45 18M394 2711v-47l3 16l5 23l2 6M456 2711v-539l3 8l5 12l7 14l10 19l15 24l22 29v-130l3 6l6 9l10 12l16 15l27 21l39 28l40 27l44 29v-121l4 5l6 9l10 11l16 14l26 21l40 28l40 28l44 31v-163l4 5l6 8l10 10l15 14l27 19l40 27l40 27l44 30v-162l3 5l7 8l9 11l16 13l27 20l39 27l40 27l44 30v-164l4 5l6 8l10 10l16 13l26 19l40 27l40 26l44 29v-158l4 5l6 8l10 9l16 13l26 17l40 26l40 24l44 28v-163l3 5l7 8l9 10l16 13l27 19l40 26l39 26l45 28M394 2711v-69l3 17l5 23l7 29l0 0M456 2711v-556l3 5l5 7l7 8l10 9l15 9l22 10v-72l3 5l6 7l10 9l16 11l27 13l39 16l40 16l44 17v-69l4 5l6 6l10 8l16 9l26 12l40 15l40 15l44 16v-102l4 5l6 6l10 7l15 8l27 11l40 14l40 15l44 15v-102l3 4l7 7l9 8l16 9l27 13l39 17l40 17l44 19v-117l4 5l6 6l10 8l16 10l26 13l40 18l40 18l44 19v-117l4 4l6 6l10 8l16 9l26 13l40 18l40 17l44 19v-128l3 5l7 7l9 8l16 10l27 14l40 20l39 18l45 21M394 2711v-85l3 16l5 22l7 27l4 14M456 2711v-570l3 12l5 18l7 25l10 33l15 43l22 59v-214l3 8l6 11l10 16l16 22l27 31l39 45l40 43l44 48v-199l4 8l6 11l10 16l16 22l26 33l40 47l40 47l44 52v-251l4 7l6 10l10 15l15 21l27 32l40 45l40 45l44 51v-248l3 7l7 10l9 14l16 20l27 29l39 42l40 42l44 46v-232l4 6l6 10l10 13l16 18l26 28l40 39l40 39l44 44v-218l4 6l6 9l10 12l16 18l26 25l40 37l40 36l44 40v-216l3 6l7 9l9 13l16 17l27 26l40 37l39 37l45 41M394 2711v-83l3 16l5 23l7 28l3 10M456 2711v-568l3 4l5 7l7 6l10 7l15 6l22 6v-60l3 5l6 7l10 8l16 10l27 11l39 14l40 13l44 15v-58l4 4l6 7l10 7l16 8l26 10l40 12l40 12l44 14v-89l4 3l6 6l10 6l15 8l27 9l40 12l40 11l44 13v-90l3 4l7 6l9 8l16 8l27 12l39 15l40 14l44 17v-107l4 5l6 6l10 7l16 9l26 12l40 16l40 15l44 18v-108l4 4l6 6l10 7l16 9l26 11l40 16l40 15l44 18v-119l3 4l7 7l9 7l16 10l27 13l40 17l39 17l45 19M394 2711v-76l3 17l5 23l7 28l1 4M456 2711v-562l3 7l5 11l7 13l10 17l15 20l22 25v-117l3 6l6 8l10 11l16 15l27 19l39 25l40 25l44 27v-111l4 6l6 8l10 10l16 13l26 18l40 26l40 25l44 27v-149l4 5l6 8l10 10l15 12l27 17l40 25l40 24l44 26v-148l3 5l7 8l9 10l16 13l27 18l39 25l40 25l44 28v-154l4 5l6 7l10 10l16 12l26 18l40 25l40 25l44 27v-150l4 5l6 7l10 9l16 12l26 17l40 24l40 24l44 26v-157l3 5l7 8l9 9l16 13l27 18l40 25l39 25l45 28M394 2711v-68l3 16l5 22l7 26l1 3M456 2711v-556l3 6l5 8l7 10l10 11l15 13l22 14v-85l3 5l6 7l10 10l16 12l27 15l39 18l40 18l44 20v-80l4 5l6 7l10 8l16 11l26 13l40 19l40 17l44 20v-116l4 5l6 6l10 8l15 10l27 12l40 18l40 17l44 19v-116l3 5l7 6l9 9l16 10l27 14l39 19l40 19l44 21v-125l4 4l6 7l10 8l16 11l26 14l40 19l40 19l44 21v-124l4 5l6 6l10 8l16 10l26 13l40 19l40 18l44 20v-132l3 5l7 7l9 8l16 11l27 15l40 19l39 20l45 22M394 2711v-89l3 16l5 20l7 25l10 26M456 2711v-572l3 3l5 5l7 4l10 4l15 1l22-1v-40l3 4l6 6l10 8l16 8l27 8l39 10l40 9l44 9v-37l4 4l6 6l10 6l16 6l26 7l40 8l40 8l44 8v-68l4 3l6 5l10 5l15 6l27 6l40 8l40 7l44 8v-70l3 4l7 6l9 6l16 7l27 8l39 10l40 11l44 11v-85l4 4l6 5l10 7l16 7l26 9l40 11l40 11l44 12v-87l4 4l6 5l10 7l16 7l26 8l40 11l40 11l44 12v-97l3 4l7 5l9 7l16 8l27 10l40 13l39 12l45 14M394 2711v-79l3 15l5 21l7 25l3 7M456 2711v-564l3 8l5 11l7 14l10 18l15 21l22 27v-123l3 6l6 9l10 12l16 14l27 20l39 26l40 25l44 28v-114l4 5l6 9l10 10l16 14l26 20l40 26l40 27l44 29v-156l4 5l6 8l10 10l15 13l27 18l40 26l40 25l44 28v-154l3 5l7 8l9 10l16 13l27 18l39 26l40 25l44 27v-154l4 5l6 8l10 9l16 13l26 17l40 25l40 24l44 27v-148l4 5l6 7l10 9l16 12l26 16l40 23l40 23l44 25v-153l3 5l7 8l9 10l16 12l27 17l40 24l39 23l45 27M394 2711v-75l3 15l5 21l7 25l4 12M456 2711v-560l3 4l5 6l7 6l10 5l15 4l22 3v-52l3 5l6 6l10 8l16 10l27 10l39 12l40 11l44 12v-49l4 5l6 6l10 6l16 8l26 9l40 10l40 11l44 11v-81l4 4l6 5l10 6l15 7l27 8l40 10l40 9l44 11v-81l3 4l7 6l9 7l16 8l27 9l39 13l40 12l44 14v-95l4 4l6 6l10 7l16 8l26 10l40 13l40 13l44 14v-95l4 4l6 6l10 6l16 8l26 10l40 13l40 12l44 14v-105l3 4l7 6l9 7l16 9l27 11l40 14l39 14l45 16M394 2711v-80l3 17l5 23l7 28l2 6M456 2711v-565l3 13l5 18l7 24l10 33l15 43l22 57v-211l3 7l6 12l10 16l16 22l27 31l39 44l40 43l44 48v-198l4 7l6 12l10 16l16 21l26 33l40 46l40 46l44 51v-247l4 7l6 10l10 15l15 21l27 31l40 45l40 44l44 50v-244l3 7l7 10l9 14l16 20l27 29l39 42l40 41l44 47v-232l4 6l6 10l10 14l16 18l26 28l40 39l40 40l44 43v-218l4 6l6 9l10 13l16 17l26 26l40 37l40 37l44 40v-217l3 6l7 10l9 12l16 18l27 26l40 38l39 37l45 41M332 2686l3 20l0 2M394 2711v-118l3 16l5 21l7 26l11 29l5 11M456 2711v-595l3 10l5 14l7 18l10 23l15 29l22 39v-156l3 6l6 10l10 13l16 18l27 24l39 32l40 32l44 35v-145l4 6l6 10l10 13l16 16l26 25l40 34l40 33l44 38v-190l4 6l6 9l10 11l15 16l27 23l40 33l40 32l44 36v-187l3 6l7 9l9 11l16 16l27 22l39 31l40 31l44 34v-181l4 5l6 9l10 11l16 15l26 21l40 29l40 30l44 32v-172l4 6l6 8l10 10l16 14l26 19l40 28l40 27l44 30v-174l3 6l7 8l9 11l16 14l27 20l40 29l39 28l45 31M332 2700l1 7M394 2711v-104l3 17l5 23l7 28l11 33l0 1M456 2711v-583l3 8l5 11l7 14l10 18l15 21l22 27v-123l3 6l6 9l10 12l16 15l27 20l39 26l40 25l44 28v-116l4 6l6 9l10 10l16 14l26 19l40 27l40 25l44 29v-154l4 6l6 7l10 10l15 13l27 18l40 26l40 25l44 27v-152l3 5l7 8l9 11l16 13l27 18l39 26l40 26l44 28v-156l4 5l6 8l10 10l16 13l26 18l40 25l40 25l44 28v-152l4 5l6 8l10 9l16 13l26 17l40 24l40 24l44 27v-159l3 5l7 8l9 10l16 14l27 18l40 25l39 25l45 28M332 2677l3 20l1 7M394 2711v-127l3 17l5 22l7 27l11 32l4 11M456 2711v-601l3 11l5 17l7 22l10 30l15 37l22 51v-192l3 7l6 12l10 15l16 20l27 29l39 39l40 39l44 43v-179l4 8l6 11l10 14l16 20l26 30l40 41l40 41l44 46v-225l4 6l6 11l10 13l15 19l27 28l40 41l40 39l44 45v-222l3 6l7 10l9 14l16 18l27 26l39 38l40 37l44 42v-212l4 6l6 10l10 12l16 18l26 25l40 35l40 36l44 39v-200l4 6l6 9l10 12l16 16l26 23l40 33l40 33l44 37v-200l3 6l7 9l9 12l16 17l27 24l40 33l39 34l45 37M332 2694l1 9M394 2711v-109l3 17l5 23l7 28l11 34l2 6M456 2711v-586l3 11l5 17l7 22l10 30l15 39l22 50v-193l3 7l6 12l10 15l16 21l27 29l39 39l40 40l44 43v-181l4 7l6 12l10 14l16 21l26 29l40 42l40 41l44 47v-228l4 7l6 11l10 13l15 20l27 28l40 40l40 41l44 44v-223l3 6l7 10l9 14l16 18l27 27l39 39l40 38l44 42v-215l4 6l6 10l10 13l16 17l26 26l40 37l40 36l44 40v-204l4 6l6 9l10 12l16 17l26 24l40 34l40 34l44 38v-205l3 6l7 10l9 12l16 17l27 25l40 34l39 35l45 38M332 2672l3 21l1 5M394 2711v-132l3 17l5 23l7 27l11 33l8 20M456 2711v-604l3 7l5 11l7 13l10 17l15 19l22 24v-115l3 6l6 9l10 11l16 15l27 18l39 25l40 23l44 26v-108l4 6l6 8l10 11l16 13l26 18l40 24l40 24l44 26v-145l4 6l6 7l10 10l15 12l27 17l40 23l40 23l44 26v-143l3 5l7 8l9 10l16 13l27 17l39 25l40 23l44 27v-149l4 6l6 8l10 9l16 13l26 17l40 24l40 23l44 27v-145l4 5l6 7l10 10l16 12l26 16l40 23l40 22l44 25v-151l3 5l7 8l9 10l16 13l27 17l40 24l39 24l45 26M332 2680l3 21l1 7M394 2711v-123l3 16l5 22l7 26l11 30l4 10M456 2711v-596l3 11l5 16l7 22l10 28l15 36l22 48v-185l3 7l6 12l10 14l16 20l27 28l39 38l40 37l44 41v-172l4 7l6 11l10 15l16 19l26 29l40 40l40 39l44 44v-218l4 6l6 11l10 13l15 19l27 27l40 38l40 39l44 42v-214l3 6l7 10l9 13l16 18l27 25l39 37l40 36l44 40v-205l4 6l6 9l10 13l16 17l26 24l40 34l40 34l44 37v-192l4 5l6 9l10 12l16 16l26 22l40 32l40 32l44 34v-193l3 6l7 9l9 12l16 17l27 22l40 33l39 32l45 36M332 2672l3 21l2 9M394 2711v-131l3 16l5 22l7 26l11 30l15 33l1 4M456 2711v-603l3 12l5 18l7 22l10 31l15 39l22 51v-196l3 7l6 12l10 15l16 21l27 29l39 40l40 40l44 43v-182l4 7l6 12l10 15l16 20l26 30l40 43l40 42l44 47v-230l4 6l6 11l10 14l15 20l27 28l40 41l40 41l44 45v-225l3 6l7 11l9 13l16 19l27 26l39 39l40 38l44 42v-214l4 6l6 10l10 13l16 17l26 26l40 35l40 36l44 39v-200l4 6l6 9l10 12l16 16l26 24l40 33l40 33l44 37v-201l3 7l7 9l9 12l16 17l27 24l40 34l39 33l45 37M332 2640l3 20l5 28l5 23M394 2711v-163l3 16l5 21l7 27l11 31l15 34l16 30M456 2711v-630l3 10l5 14l7 18l10 22l15 29l22 36v-152l3 7l6 10l10 13l16 18l27 23l39 31l40 31l44 33v-141l4 7l6 9l10 13l16 17l26 23l40 32l40 33l44 35v-183l4 6l6 9l10 12l15 15l27 22l40 32l40 31l44 34v-180l3 6l7 9l9 12l16 15l27 21l39 31l40 30l44 33v-177l4 6l6 9l10 11l16 15l26 20l40 29l40 29l44 32v-169l4 6l6 8l10 10l16 14l26 20l40 27l40 27l44 30v-172l3 5l7 9l9 11l16 15l27 20l40 28l39 28l45 31M332 2650l3 21l5 28l1 5M394 2711v-153l3 16l5 22l7 26l11 32l15 33l10 20M456 2711v-620l3 8l5 11l7 13l10 16l15 19l22 23v-113l3 6l6 9l10 11l16 15l27 18l39 24l40 22l44 25v-105l4 6l6 8l10 11l16 13l26 17l40 24l40 23l44 26v-142l4 5l6 8l10 10l15 12l27 16l40 23l40 22l44 25v-140l3 6l7 8l9 10l16 12l27 17l39 24l40 23l44 25v-144l4 5l6 8l10 10l16 12l26 17l40 23l40 23l44 25v-141l4 5l6 8l10 9l16 12l26 16l40 22l40 21l44 24v-147l3 6l7 8l9 10l16 12l27 17l40 23l39 23l45 25M332 2660l3 20l5 27l0 2M394 2711v-144l3 16l5 21l7 26l11 30l15 32l4 8M456 2711v-612l3 12l5 17l7 22l10 29l15 36l22 48v-187l3 7l6 12l10 15l16 20l27 28l39 38l40 38l44 41v-174l4 7l6 12l10 14l16 20l26 29l40 40l40 40l44 45v-221l4 7l6 10l10 14l15 19l27 27l40 39l40 39l44 43v-216l3 7l7 10l9 13l16 18l27 25l39 37l40 36l44 40v-205l4 6l6 10l10 12l16 17l26 24l40 35l40 34l44 37v-193l4 6l6 10l10 11l16 16l26 23l40 31l40 32l44 35v-193l3 6l7 9l9 13l16 16l27 23l40 32l39 32l45 36M332 2654l3 20l5 28l1 6M394 2711v-149l3 16l5 21l7 26l11 31l15 34l11 20M456 2711v-616l3 12l5 17l7 23l10 31l15 39l22 52v-198l3 8l6 12l10 15l16 21l27 30l39 40l40 39l44 44v-184l4 8l6 12l10 15l16 21l26 30l40 42l40 42l44 47v-231l4 7l6 11l10 15l15 19l27 29l40 41l40 41l44 45v-226l3 7l7 11l9 13l16 19l27 27l39 38l40 38l44 42v-214l4 7l6 10l10 13l16 17l26 26l40 36l40 35l44 40v-201l4 6l6 10l10 12l16 16l26 24l40 33l40 33l44 37v-201l3 7l7 9l9 13l16 17l27 24l40 34l39 33l45 38M332 2649l3 21l5 29l2 11M394 2711v-155l3 17l5 23l7 28l11 33l15 37l4 10M456 2711v-621l3 9l5 12l7 14l10 18l15 21l22 26v-123l3 6l6 10l10 12l16 15l27 20l39 26l40 25l44 27v-116l4 6l6 9l10 11l16 14l26 19l40 26l40 25l44 28v-152l4 6l6 8l10 10l15 13l27 18l40 25l40 24l44 27v-149l3 6l7 8l9 11l16 13l27 19l39 25l40 25l44 28v-154l4 5l6 9l10 10l16 13l26 19l40 25l40 25l44 27v-150l4 5l6 8l10 10l16 13l26 17l40 24l40 24l44 26v-157l3 6l7 8l9 11l16 13l27 18l40 25l39 25l45 28M332 2637l3 19l5 27l2 9M394 2711v-167l3 15l5 21l7 24l11 28l15 30l21 32v-613l3 5l5 7l7 7l10 7l15 6l22 5v-61l3 5l6 8l10 9l16 10l27 11l39 13l40 12l44 14v-57l4 5l6 7l10 8l16 8l26 10l40 12l40 11l44 13v-88l4 5l6 6l10 7l15 7l27 9l40 11l40 11l44 12v-86l3 5l7 7l9 7l16 9l27 10l39 14l40 13l44 15v-99l4 5l6 6l10 8l16 9l26 11l40 14l40 13l44 15v-98l4 5l6 6l10 7l16 9l26 10l40 14l40 13l44 14v-107l3 4l7 7l9 8l16 10l27 11l40 15l39 15l45 16M332 2655l3 20l5 28l1 7M394 2711v-148l3 16l5 22l7 26l11 31l15 34l10 19M456 2711v-615l3 12l5 17l7 21l10 30l15 36l22 49v-189l3 8l6 11l10 16l16 20l27 28l39 39l40 37l44 42v-176l4 8l6 11l10 15l16 20l26 29l40 40l40 40l44 44v-220l4 7l6 10l10 14l15 19l27 27l40 39l40 39l44 43v-216l3 7l7 10l9 13l16 18l27 26l39 37l40 36l44 40v-206l4 6l6 10l10 13l16 17l26 24l40 35l40 34l44 39v-195l4 6l6 9l10 12l16 16l26 23l40 32l40 32l44 36v-196l3 7l7 9l9 13l16 16l27 23l40 33l39 33l45 36M332 2665l3 20l3 17M394 2711v-138l3 15l5 21l7 26l11 29l15 31l4 7M456 2711v-606l3 10l5 14l7 17l10 23l15 27l22 35v-150l3 7l6 10l10 14l16 17l27 23l39 31l40 30l44 33v-140l4 7l6 10l10 13l16 16l26 23l40 32l40 32l44 35v-181l4 6l6 9l10 12l15 15l27 22l40 31l40 30l44 34v-177l3 6l7 9l9 12l16 15l27 21l39 30l40 29l44 32v-173l4 6l6 9l10 11l16 15l26 20l40 28l40 28l44 31v-165l4 6l6 8l10 11l16 13l26 19l40 26l40 26l44 29v-167l3 6l7 8l9 11l16 15l27 19l40 27l39 27l45 30M332 2648l3 20l5 28l2 10M394 2711v-155l3 16l5 22l7 26l11 31l15 34l11 20M456 2711v-620l3 7l5 9l7 12l10 13l15 15l22 17v-97l3 6l6 9l10 11l16 13l27 16l39 20l40 19l44 22v-91l4 6l6 8l10 10l16 11l26 15l40 20l40 19l44 22v-125l4 6l6 7l10 9l15 11l27 14l40 18l40 19l44 20v-121l3 5l7 8l9 9l16 12l27 15l39 20l40 20l44 22v-130l4 5l6 8l10 9l16 11l26 15l40 21l40 20l44 22v-128l4 5l6 7l10 9l16 11l26 14l40 20l40 19l44 21v-135l3 5l7 8l9 9l16 12l27 15l40 21l39 21l45 22M332 2643l3 21l5 28l2 12M394 2711v-160l3 16l5 22l7 27l11 32l15 36l7 15M456 2711v-624l3 10l5 13l7 18l10 22l15 28l22 34v-149l3 7l6 10l10 14l16 17l27 23l39 31l40 30l44 33v-140l4 7l6 10l10 13l16 16l26 23l40 31l40 31l44 35v-179l4 6l6 9l10 12l15 15l27 22l40 30l40 30l44 33v-175l3 6l7 9l9 12l16 15l27 22l39 29l40 30l44 33v-175l4 6l6 9l10 12l16 14l26 21l40 29l40 28l44 32v-168l4 6l6 9l10 10l16 14l26 20l40 27l40 27l44 29v-171l3 6l7 9l9 11l16 15l27 20l40 28l39 28l45 31M332 2641l3 20l5 28l2 10M394 2711v-163l3 16l5 22l7 26l11 31l15 33l10 18M456 2711v-626l3 7l5 11l7 12l10 15l15 17l22 20v-106l3 6l6 9l10 12l16 14l27 17l39 22l40 21l44 23v-99l4 6l6 9l10 10l16 13l26 16l40 22l40 21l44 24v-134l4 5l6 8l10 9l15 12l27 15l40 21l40 20l44 23v-131l3 6l7 8l9 9l16 12l27 16l39 22l40 22l44 24v-138l4 6l6 8l10 9l16 12l26 16l40 22l40 21l44 24v-134l4 5l6 7l10 10l16 11l26 15l40 21l40 20l44 22v-140l3 5l7 8l9 10l16 12l27 16l40 22l39 21l45 24M332 2626l3 21l5 28l7 34l0 1M394 2711v-177l3 16l5 22l7 27l11 32l15 35l21 40v-633l3 12l5 18l7 23l10 31l15 39l22 52v-199l3 8l6 12l10 16l16 21l27 30l39 40l40 39l44 44v-185l4 8l6 12l10 15l16 21l26 30l40 43l40 42l44 46v-230l4 7l6 11l10 14l15 20l27 29l40 41l40 40l44 46v-226l3 7l7 11l9 14l16 18l27 27l39 39l40 38l44 43v-216l4 7l6 10l10 14l16 17l26 26l40 37l40 36l44 40v-203l4 6l6 10l10 12l16 17l26 24l40 34l40 33l44 38v-203l3 6l7 10l9 13l16 17l27 25l40 34l39 34l45 38M332 2636l3 20l5 27l3 13M394 2711v-167l3 15l5 21l7 24l11 28l15 30l21 33v-614l3 8l5 10l7 12l10 14l15 15l22 17v-99l3 6l6 9l10 11l16 13l27 17l39 20l40 20l44 21v-92l4 6l6 8l10 10l16 12l26 15l40 21l40 20l44 22v-128l4 6l6 7l10 9l15 11l27 15l40 19l40 19l44 21v-124l3 5l7 8l9 9l16 12l27 15l39 20l40 20l44 22v-130l4 6l6 7l10 9l16 12l26 14l40 20l40 20l44 22v-126l4 5l6 7l10 9l16 10l26 14l40 19l40 19l44 20v-132l3 5l7 8l9 9l16 11l27 15l40 20l39 20l45 22M332 2631l3 20l5 29l6 30M394 2711v-173l3 17l5 22l7 27l11 33l15 36l6 11M456 2711v-634l3 7l5 10l7 12l10 13l15 15l22 18v-99l3 6l6 9l10 11l16 14l27 16l39 21l40 19l44 22v-93l4 6l6 8l10 10l16 12l26 15l40 20l40 20l44 21v-125l4 5l6 7l10 9l15 11l27 15l40 19l40 18l44 21v-123l3 6l7 7l9 10l16 12l27 15l39 21l40 20l44 23v-132l4 5l6 8l10 9l16 12l26 15l40 21l40 21l44 23v-131l4 5l6 8l10 9l16 11l26 15l40 20l40 20l44 22v-139l3 5l7 8l9 10l16 12l27 16l40 22l39 21l45 23M332 2650l3 20l5 27l2 11M394 2711v-153l3 15l5 21l7 26l11 30l15 32l14 24M456 2711v-618l3 6l5 7l7 8l10 8l15 6l22 6v-65l3 6l6 8l10 9l16 11l27 12l39 13l40 13l44 14v-61l4 5l6 8l10 8l16 9l26 10l40 12l40 12l44 14v-91l4 4l6 7l10 7l15 8l27 9l40 12l40 11l44 13v-88l3 4l7 7l9 8l16 9l27 11l39 15l40 14l44 15v-102l4 5l6 7l10 8l16 9l26 11l40 15l40 15l44 16v-103l4 5l6 7l10 7l16 9l26 11l40 15l40 14l44 16v-113l3 5l7 8l9 8l16 10l27 12l40 16l39 16l45 17M332 2628l3 20l5 28l7 34l0 1M394 2711v-176l3 16l5 23l7 26l11 32l15 35l21 39v-632l3 9l5 11l7 14l10 16l15 19l22 24v-116l3 6l6 10l10 12l16 14l27 19l39 24l40 23l44 25v-108l4 6l6 9l10 11l16 13l26 18l40 24l40 23l44 26v-144l4 6l6 8l10 10l15 13l27 16l40 23l40 23l44 25v-141l3 6l7 8l9 10l16 13l27 17l39 24l40 24l44 26v-146l4 5l6 8l10 10l16 13l26 17l40 24l40 23l44 25v-142l4 5l6 8l10 10l16 12l26 16l40 22l40 22l44 25v-149l3 6l7 8l9 10l16 13l27 17l40 24l39 23l45 26M332 2613l3 21l5 27l7 34l3 11M394 2711v-190l3 16l5 22l7 26l11 31l15 34l21 38v-626l3 13l5 18l7 24l10 32l15 40l22 53v-203l3 8l6 12l10 16l16 22l27 30l39 41l40 40l44 45v-189l4 8l6 12l10 16l16 21l26 31l40 43l40 44l44 48v-237l4 8l6 11l10 15l15 20l27 29l40 42l40 42l44 47v-231l3 7l7 11l9 14l16 19l27 28l39 39l40 39l44 43v-218l4 7l6 10l10 13l16 18l26 26l40 37l40 37l44 40v-205l4 7l6 9l10 13l16 17l26 24l40 34l40 34l44 38v-205l3 7l7 10l9 13l16 17l27 25l40 35l39 34l45 38M332 2623l3 19l5 26l7 31l2 5M394 2711v-180l3 15l5 19l7 24l11 26l15 28l21 30v-602l3 7l5 8l7 9l10 10l15 9l22 10v-76l3 5l6 9l10 10l16 11l27 13l39 16l40 15l44 16v-70l4 5l6 8l10 9l16 10l26 11l40 15l40 15l44 16v-103l4 5l6 7l10 8l15 9l27 11l40 14l40 14l44 15v-100l3 5l7 7l9 9l16 10l27 12l39 15l40 16l44 17v-109l4 5l6 7l10 8l16 10l26 12l40 16l40 15l44 17v-106l4 5l6 6l10 8l16 9l26 12l40 15l40 14l44 17v-115l3 5l7 7l9 9l16 10l27 12l40 17l39 16l45 17M332 2619l3 20l5 27l7 33l3 9M394 2711v-184l3 15l5 21l7 26l11 29l15 32l21 35v-616l3 9l5 12l7 14l10 18l15 21l22 25v-123l3 7l6 10l10 12l16 16l27 19l39 25l40 24l44 26v-114l4 7l6 9l10 12l16 14l26 18l40 26l40 24l44 28v-151l4 6l6 9l10 10l15 13l27 18l40 24l40 24l44 26v-146l3 6l7 8l9 11l16 13l27 18l39 24l40 24l44 27v-149l4 6l6 8l10 10l16 13l26 18l40 23l40 24l44 26v-144l4 6l6 7l10 10l16 12l26 17l40 22l40 22l44 25v-149l3 6l7 8l9 10l16 13l27 17l40 24l39 23l45 26M332 2618l3 20l5 28l7 33l3 9M394 2711v-185l3 16l5 21l7 27l11 30l15 34l21 38v-624l3 13l5 18l7 23l10 31l15 39l22 52v-199l3 7l6 13l10 16l16 21l27 30l39 40l40 39l44 43v-184l4 8l6 12l10 15l16 21l26 30l40 43l40 42l44 46v-230l4 7l6 11l10 15l15 19l27 29l40 41l40 41l44 45v-225l3 7l7 11l9 14l16 19l27 27l39 38l40 38l44 42v-214l4 7l6 11l10 13l16 18l26 25l40 36l40 36l44 39v-200l4 6l6 10l10 12l16 17l26 24l40 33l40 33l44 37v-200l3 6l7 10l9 13l16 17l27 25l40 34l39 33l45 38M332 2599l3 21l5 28l7 35l6 23M394 2711v-204l3 16l5 23l7 27l11 33l15 37l21 42v-633l3 7l5 8l7 10l10 10l15 10l22 10v-78l3 6l6 8l10 11l16 12l27 13l39 17l40 15l44 17v-74l4 5l6 8l10 9l16 10l26 12l40 15l40 15l44 16v-103l4 5l6 7l10 8l15 9l27 11l40 14l40 14l44 16v-101l3 6l7 7l9 9l16 10l27 13l39 17l40 17l44 19v-115l4 5l6 8l10 9l16 10l26 13l40 18l40 17l44 20v-116l4 5l6 8l10 8l16 10l26 13l40 18l40 17l44 19v-126l3 6l7 7l9 10l16 11l27 14l40 19l39 19l45 20M332 2622l3 20l5 28l7 33l1 5M394 2711v-182l3 16l5 22l7 26l11 31l15 34l21 38v-624l3 8l5 11l7 13l10 15l15 18l22 20v-109l3 7l6 9l10 12l16 15l27 17l39 22l40 22l44 23v-101l4 6l6 9l10 10l16 13l26 16l40 22l40 22l44 24v-135l4 5l6 8l10 10l15 12l27 15l40 21l40 21l44 23v-132l3 6l7 8l9 11l16 12l27 16l39 22l40 22l44 24v-138l4 6l6 8l10 10l16 12l26 16l40 22l40 22l44 23v-134l4 5l6 8l10 9l16 12l26 15l40 21l40 21l44 23v-142l3 6l7 8l9 10l16 12l27 17l40 22l39 22l45 24M332 2611l3 21l5 28l7 33l5 17M394 2711v-192l3 16l5 22l7 26l11 31l15 33l21 39v-622l3 11l5 17l7 21l10 27l15 34l22 44v-178l3 8l6 11l10 16l16 20l27 26l39 36l40 35l44 39v-166l4 8l6 11l10 15l16 19l26 27l40 37l40 37l44 41v-208l4 7l6 11l10 13l15 18l27 26l40 36l40 36l44 40v-203l3 7l7 10l9 13l16 18l27 24l39 35l40 34l44 38v-196l4 7l6 9l10 13l16 17l26 23l40 33l40 32l44 36v-185l4 6l6 9l10 12l16 16l26 21l40 31l40 30l44 34v-187l3 6l7 10l9 13l16 16l27 22l40 31l39 31l45 34M332 2605l3 19l5 27l7 32l7 25M394 2711v-199l3 16l5 20l7 25l11 28l15 30l21 34v-607l3 6l5 8l7 9l10 9l15 8l22 7v-70l3 5l6 9l10 10l16 11l27 13l39 14l40 14l44 14v-65l4 5l6 8l10 8l16 10l26 11l40 13l40 13l44 15v-96l4 5l6 6l10 8l15 9l27 10l40 12l40 13l44 13v-92l3 5l7 7l9 8l16 10l27 11l39 15l40 15l44 16v-104l4 5l6 7l10 8l16 10l26 12l40 15l40 15l44 16v-104l4 5l6 7l10 8l16 9l26 12l40 14l40 15l44 16v-113l3 5l7 7l9 9l16 10l27 12l40 17l39 15l45 18M332 2599l3 21l5 28l7 35l5 19M394 2711v-204l3 16l5 23l7 27l11 33l15 36l21 41v-629l3 12l5 19l7 23l10 31l15 39l22 52v-200l3 8l6 13l10 16l16 22l27 29l39 41l40 39l44 43v-186l4 8l6 12l10 16l16 21l26 30l40 43l40 41l44 47v-231l4 8l6 11l10 15l15 20l27 28l40 41l40 41l44 45v-224l3 7l7 11l9 14l16 19l27 27l39 39l40 38l44 42v-215l4 7l6 11l10 14l16 18l26 26l40 36l40 36l44 40v-203l4 7l6 10l10 13l16 17l26 24l40 34l40 34l44 37v-203l3 7l7 10l9 13l16 18l27 24l40 35l39 34l45 39M332 2611l3 21l5 28l7 35l3 12M394 2711v-193l3 17l5 23l7 27l11 33l15 37l21 43v-634l3 12l5 17l7 22l10 30l15 37l22 48v-190l3 8l6 12l10 16l16 21l27 28l39 39l40 37l44 41v-177l4 8l6 12l10 15l16 20l26 28l40 41l40 39l44 44v-220l4 7l6 11l10 14l15 19l27 28l40 38l40 39l44 42v-214l3 7l7 11l9 14l16 18l27 26l39 37l40 37l44 40v-207l4 7l6 10l10 14l16 17l26 25l40 35l40 35l44 39v-197l4 7l6 9l10 13l16 16l26 24l40 33l40 32l44 37v-198l3 6l7 11l9 13l16 17l27 24l40 33l39 33l45 37M332 2602l3 21l5 27l7 33l4 14M394 2711v-201l3 16l5 22l7 26l11 30l15 33l21 38v-618l3 7l5 9l7 11l10 12l15 12l22 12v-87l3 6l6 9l10 11l16 13l27 15l39 18l40 16l44 19v-82l4 6l6 8l10 10l16 11l26 13l40 17l40 17l44 18v-113l4 6l6 7l10 9l15 10l27 12l40 16l40 16l44 18v-109l3 5l7 8l9 9l16 11l27 14l39 18l40 18l44 19v-119l4 5l6 8l10 9l16 11l26 14l40 18l40 18l44 20v-118l4 5l6 7l10 9l16 10l26 14l40 17l40 18l44 19v-127l3 6l7 7l9 10l16 11l27 14l40 20l39 18l45 21M332 2608l3 20l5 28l7 33l6 21M394 2711v-195l3 16l5 21l7 26l11 30l15 33l21 36v-616l3 10l5 13l7 18l10 21l15 26l22 32v-144l3 7l6 11l10 14l16 17l27 22l39 29l40 28l44 31v-134l4 7l6 10l10 13l16 16l26 22l40 30l40 29l44 33v-173l4 7l6 9l10 12l15 15l27 21l40 28l40 29l44 31v-167l3 6l7 9l9 12l16 15l27 20l39 28l40 28l44 31v-167l4 7l6 9l10 11l16 14l26 20l40 27l40 27l44 30v-160l4 6l6 9l10 11l16 13l26 19l40 25l40 25l44 28v-163l3 6l7 9l9 11l16 15l27 19l40 26l39 26l45 29M332 2597l3 20l5 26l7 32l8 27M394 2711v-206l3 15l5 21l7 24l11 28l15 30l21 32v-602l3 10l5 12l7 16l10 19l15 22l22 28v-130l3 7l6 10l10 13l16 16l27 20l39 26l40 25l44 28v-120l4 7l6 9l10 12l16 15l26 20l40 27l40 26l44 29v-158l4 6l6 9l10 11l15 14l27 19l40 25l40 25l44 28v-152l3 6l7 9l9 11l16 13l27 19l39 25l40 25l44 28v-153l4 6l6 9l10 10l16 14l26 17l40 25l40 24l44 26v-146l4 6l6 8l10 10l16 13l26 16l40 23l40 23l44 25v-151l3 6l7 9l9 10l16 13l27 18l40 24l39 23l45 26M332 2598l3 20l5 28l7 34l8 29M394 2711v-206l3 17l5 22l7 26l11 32l15 35l21 40v-623l3 11l5 15l7 20l10 25l15 31l22 39v-165l3 8l6 11l10 15l16 19l27 25l39 33l40 32l44 36v-154l4 8l6 11l10 14l16 17l26 25l40 34l40 34l44 38v-193l4 6l6 11l10 13l15 16l27 24l40 33l40 32l44 37v-188l3 7l7 10l9 13l16 16l27 23l39 32l40 32l44 35v-184l4 6l6 10l10 12l16 16l26 22l40 31l40 30l44 34v-176l4 6l6 9l10 12l16 15l26 21l40 29l40 28l44 32v-179l3 6l7 10l9 12l16 16l27 21l40 30l39 29l45 33M332 2607l3 21l5 30l7 35l2 9M394 2711v-196l3 16l5 24l7 28l11 34l15 39l21 45v-639l3 9l5 12l7 15l10 19l15 22l22 26v-127l3 7l6 10l10 13l16 16l27 21l39 25l40 25l44 28v-120l4 7l6 9l10 12l16 15l26 19l40 25l40 26l44 27v-153l4 6l6 9l10 11l15 14l27 18l40 24l40 25l44 27v-149l3 6l7 9l9 11l16 14l27 19l39 26l40 25l44 29v-156l4 7l6 9l10 11l16 13l26 19l40 25l40 26l44 28v-152l4 6l6 8l10 11l16 13l26 18l40 24l40 25l44 26v-158l3 6l7 9l9 11l16 14l27 19l40 26l39 25l45 28M332 2596l3 20l5 28l7 34l9 32M394 2711v-208l3 16l5 22l7 27l11 31l15 35l21 39v-621l3 9l5 12l7 15l10 18l15 21l22 25v-123l3 6l6 11l10 12l16 16l27 20l39 25l40 24l44 26v-115l4 6l6 10l10 12l16 14l26 18l40 25l40 25l44 27v-150l4 6l6 9l10 11l15 13l27 17l40 24l40 24l44 26v-145l3 6l7 9l9 11l16 13l27 18l39 25l40 24l44 27v-150l4 6l6 9l10 11l16 13l26 18l40 24l40 24l44 26v-145l4 5l6 9l10 10l16 12l26 17l40 23l40 23l44 25v-151l3 6l7 8l9 11l16 13l27 18l40 25l39 23l45 27M332 2574l3 21l5 28l7 35l11 40l1 5M394 2711v-229l3 16l5 23l7 27l11 32l15 35l21 41v-620l3 8l5 12l7 13l10 16l15 17l22 20v-110l3 7l6 10l10 12l16 15l27 18l39 22l40 21l44 24v-104l4 7l6 9l10 11l16 13l26 16l40 22l40 21l44 24v-135l4 6l6 8l10 10l15 12l27 16l40 21l40 20l44 23v-131l3 6l7 9l9 10l16 13l27 16l39 23l40 22l44 24v-139l4 6l6 9l10 10l16 13l26 16l40 22l40 22l44 24v-136l4 6l6 8l10 10l16 12l26 16l40 21l40 21l44 23v-143l3 6l7 8l9 11l16 13l27 16l40 23l39 22l45 25M332 2592l3 20l5 28l7 34l7 25M394 2711v-211l3 16l5 21l7 27l11 31l15 34l21 38v-616l3 8l5 11l7 14l10 16l15 18l22 21v-112l3 7l6 10l10 12l16 15l27 18l39 22l40 22l44 23v-104l4 6l6 10l10 11l16 13l26 17l40 22l40 22l44 24v-137l4 6l6 8l10 10l15 12l27 16l40 21l40 21l44 23v-132l3 6l7 9l9 10l16 13l27 16l39 23l40 22l44 24v-139l4 6l6 8l10 11l16 12l26 17l40 22l40 22l44 24v-136l4 6l6 8l10 10l16 12l26 15l40 21l40 21l44 23v-143l3 6l7 9l9 11l16 12l27 17l40 22l39 22l45 25M332 2584l3 20l5 27l7 32l11 37l1 4M394 2711v-219l3 16l5 20l7 25l11 29l15 31l21 35v-604l3 8l5 9l7 11l10 12l15 12l22 12v-87l3 6l6 9l10 11l16 13l27 15l39 18l40 16l44 18v-81l4 6l6 8l10 10l16 11l26 13l40 17l40 16l44 19v-112l4 5l6 8l10 8l15 11l27 12l40 16l40 15l44 17v-107l3 5l7 8l9 10l16 10l27 14l39 18l40 17l44 19v-117l4 5l6 8l10 9l16 11l26 14l40 18l40 17l44 19v-115l4 5l6 8l10 8l16 11l26 13l40 17l40 16l44 19v-124l3 6l7 8l9 10l16 11l27 14l40 18l39 18l45 20M332 2575l3 21l5 29l7 34l11 40l1 5M394 2711v-228l3 16l5 23l7 27l11 32l15 35l21 41v-620l3 12l5 18l7 23l10 30l15 37l22 49v-193l3 8l6 13l10 16l16 21l27 29l39 39l40 37l44 42v-180l4 8l6 13l10 15l16 21l26 28l40 41l40 40l44 44v-222l4 8l6 11l10 14l15 20l27 27l40 39l40 39l44 42v-215l3 8l7 11l9 14l16 18l27 26l39 37l40 37l44 41v-208l4 7l6 11l10 13l16 18l26 25l40 35l40 35l44 38v-196l4 7l6 10l10 13l16 16l26 24l40 33l40 32l44 36v-197l3 7l7 10l9 13l16 18l27 24l40 33l39 33l45 37M332 2589l3 20l5 27l7 31l11 37l2 6M394 2711v-214l3 15l5 21l7 25l11 28l15 31l21 33v-601l3 11l5 17l7 20l10 27l15 33l22 42v-174l3 8l6 12l10 15l16 20l27 26l39 34l40 34l44 37v-161l4 8l6 11l10 15l16 19l26 26l40 36l40 36l44 39v-202l4 7l6 11l10 13l15 18l27 25l40 34l40 35l44 38v-196l3 7l7 11l9 13l16 17l27 23l39 33l40 33l44 36v-189l4 7l6 10l10 13l16 16l26 22l40 31l40 31l44 34v-177l4 6l6 9l10 12l16 15l26 21l40 29l40 28l44 32v-179l3 7l7 10l9 12l16 16l27 21l40 30l39 29l45 32M332 2570l3 20l5 27l7 33l11 38l3 8M394 2711v-234l3 16l5 21l7 26l11 30l15 32l21 37v-606l3 9l5 12l7 14l10 17l15 19l22 22v-116l3 7l6 10l10 12l16 16l27 18l39 23l40 22l44 25v-108l4 6l6 10l10 11l16 14l26 17l40 23l40 23l44 25v-141l4 6l6 8l10 11l15 12l27 17l40 22l40 21l44 24v-136l3 7l7 8l9 11l16 13l27 17l39 23l40 22l44 25v-141l4 6l6 9l10 10l16 13l26 16l40 23l40 22l44 24v-137l4 6l6 8l10 10l16 13l26 15l40 22l40 20l44 24v-144l3 7l7 8l9 11l16 13l27 16l40 23l39 22l45 25M332 2577l3 21l5 27l7 33l11 39l2 8M394 2711v-226l3 16l5 22l7 26l11 30l15 33l21 38v-610l3 11l5 15l7 19l10 25l15 29l22 36v-158l3 7l6 12l10 15l16 18l27 24l39 32l40 31l44 33v-147l4 7l6 11l10 14l16 17l26 24l40 33l40 32l44 36v-186l4 7l6 10l10 12l15 17l27 22l40 32l40 31l44 34v-179l3 6l7 10l9 13l16 16l27 22l39 31l40 30l44 33v-177l4 7l6 10l10 12l16 15l26 22l40 29l40 29l44 32v-169l4 6l6 9l10 12l16 15l26 19l40 28l40 27l44 30v-172l3 7l7 9l9 13l16 15l27 20l40 29l39 28l45 31M332 2557l3 20l5 28l7 34l11 40l5 14M394 2711v-246l3 16l5 22l7 26l11 32l15 34l21 39v-611l3 10l5 14l7 16l10 21l15 24l22 30v-138l3 7l6 11l10 14l16 17l27 21l39 28l40 26l44 30v-129l4 7l6 10l10 13l16 15l26 21l40 28l40 27l44 31v-164l4 6l6 10l10 11l15 15l27 19l40 27l40 27l44 29v-158l3 6l7 10l9 11l16 15l27 20l39 27l40 26l44 30v-161l4 7l6 9l10 11l16 15l26 19l40 26l40 26l44 29v-155l4 6l6 9l10 11l16 13l26 18l40 25l40 25l44 27v-160l3 6l7 10l9 11l16 15l27 19l40 26l39 25l45 29M332 2543l3 21l5 27l7 34l11 38l15 42l2 5M394 2711v-260l3 16l5 22l7 26l11 30l15 34l21 38v-605l3 9l5 11l7 14l10 16l15 17l22 20v-111l3 7l6 10l10 13l16 15l27 18l39 22l40 21l44 23v-103l4 6l6 10l10 11l16 13l26 16l40 22l40 21l44 24v-135l4 6l6 8l10 10l15 12l27 16l40 21l40 20l44 23v-130l3 6l7 9l9 10l16 13l27 16l39 22l40 22l44 24v-138l4 6l6 9l10 11l16 12l26 16l40 22l40 21l44 24v-134l4 6l6 8l10 10l16 12l26 16l40 20l40 21l44 23v-141l3 6l7 8l9 11l16 13l27 16l40 22l39 22l45 24M332 2546l3 20l5 28l7 33l11 39l15 42l0 1M394 2711v-258l3 16l5 22l7 26l11 31l15 33l21 38v-605l3 9l5 12l7 15l10 17l15 19l22 23v-118l3 7l6 10l10 13l16 15l27 19l39 24l40 22l44 25v-110l4 6l6 10l10 12l16 14l26 17l40 24l40 23l44 25v-143l4 6l6 9l10 10l15 13l27 17l40 22l40 22l44 25v-138l3 6l7 9l9 11l16 13l27 17l39 24l40 23l44 25v-143l4 6l6 9l10 10l16 13l26 17l40 23l40 23l44 25v-140l4 6l6 9l10 10l16 12l26 16l40 22l40 22l44 24v-146l3 6l7 9l9 11l16 13l27 17l40 23l39 23l45 25M332 2566l3 20l5 27l7 32l11 38l5 15M394 2711v-237l3 15l5 21l7 25l11 30l15 31l21 35v-600l3 12l5 18l7 22l10 28l15 36l22 45v-184l3 8l6 12l10 16l16 21l27 27l39 37l40 35l44 39v-170l4 8l6 12l10 15l16 20l26 27l40 39l40 38l44 42v-213l4 7l6 11l10 14l15 19l27 26l40 37l40 37l44 40v-205l3 7l7 11l9 14l16 17l27 25l39 35l40 35l44 38v-197l4 7l6 10l10 13l16 17l26 24l40 33l40 32l44 36v-185l4 6l6 10l10 12l16 16l26 22l40 30l40 31l44 33v-186l3 7l7 10l9 13l16 16l27 23l40 31l39 30l45 35M332 2553l3 20l5 27l7 31l11 37l15 39l1 3M394 2711v-250l3 15l5 21l7 25l11 28l15 30l21 34v-593l3 8l5 12l7 13l10 16l15 16l22 19v-108l3 7l6 10l10 13l16 14l27 18l39 21l40 20l44 22v-99l4 6l6 9l10 12l16 12l26 17l40 21l40 20l44 23v-132l4 6l6 8l10 10l15 12l27 15l40 20l40 20l44 22v-127l3 6l7 9l9 10l16 12l27 16l39 21l40 21l44 23v-133l4 6l6 8l10 11l16 12l26 15l40 21l40 20l44 23v-129l4 6l6 8l10 9l16 12l26 15l40 19l40 19l44 22v-136l3 6l7 9l9 10l16 13l27 15l40 21l39 20l45 23M332 2557l3 20l5 27l7 33l11 39l10 27M394 2711v-247l3 16l5 22l7 25l11 31l15 32l21 37v-603l3 10l5 14l7 18l10 21l15 26l22 31v-144l3 8l6 11l10 14l16 18l27 22l39 29l40 27l44 30v-133l4 7l6 10l10 14l16 16l26 21l40 29l40 29l44 31v-169l4 6l6 10l10 12l15 15l27 21l40 27l40 28l44 30v-163l3 7l7 10l9 12l16 15l27 20l39 27l40 28l44 30v-164l4 7l6 9l10 12l16 15l26 19l40 27l40 26l44 29v-157l4 7l6 9l10 11l16 13l26 19l40 25l40 25l44 27v-161l3 6l7 10l9 12l16 14l27 19l40 26l39 26l45 29M332 2555l3 20l5 27l7 32l11 37l11 32M394 2711v-248l3 15l5 21l7 25l11 29l15 32l21 35v-597l3 12l5 17l7 22l10 28l15 34l22 45v-182l3 8l6 13l10 16l16 20l27 27l39 36l40 35l44 38v-168l4 8l6 12l10 15l16 20l26 27l40 38l40 37l44 41v-209l4 7l6 11l10 14l15 18l27 26l40 36l40 36l44 40v-202l3 7l7 11l9 14l16 17l27 25l39 34l40 34l44 37v-194l4 7l6 11l10 13l16 16l26 24l40 32l40 32l44 35v-183l4 7l6 10l10 12l16 16l26 21l40 30l40 30l44 33v-184l3 7l7 10l9 13l16 16l27 22l40 31l39 30l45 34M332 2537l3 19l5 27l7 32l11 36l15 39l10 21M394 2711v-267l3 16l5 20l7 25l11 28l15 30l21 34v-589l3 9l5 11l7 12l10 15l15 16l22 17v-103l3 6l6 11l10 12l16 14l27 17l39 20l40 19l44 22v-96l4 6l6 10l10 10l16 13l26 15l40 20l40 20l44 21v-127l4 6l6 8l10 10l15 12l27 14l40 19l40 19l44 20v-121l3 6l7 8l9 11l16 12l27 15l39 20l40 20l44 22v-129l4 6l6 9l10 10l16 12l26 15l40 20l40 19l44 22v-125l4 5l6 8l10 10l16 11l26 15l40 18l40 19l44 20v-131l3 6l7 8l9 11l16 12l27 15l40 20l39 20l45 22M332 2558l3 19l5 27l7 32l11 36l4 13M394 2711v-246l3 16l5 20l7 25l11 28l15 31l21 33v-592l3 12l5 15l7 20l10 24l15 30l22 37v-161l3 8l6 12l10 15l16 19l27 24l39 32l40 30l44 34v-149l4 8l6 11l10 14l16 18l26 24l40 33l40 33l44 36v-189l4 7l6 11l10 13l15 17l27 22l40 32l40 31l44 35v-181l3 7l7 10l9 13l16 16l27 22l39 31l40 30l44 33v-176l4 7l6 10l10 12l16 15l26 21l40 29l40 29l44 32v-168l4 7l6 9l10 12l16 14l26 20l40 27l40 27l44 29v-169l3 6l7 10l9 12l16 15l27 21l40 27l39 28l45 30M332 2535l3 20l5 27l7 33l11 37l15 40l6 14M394 2711v-268l3 15l5 22l7 25l11 29l15 32l21 35v-593l3 7l5 10l7 11l10 12l15 12l22 12v-88l3 7l6 9l10 12l16 13l27 15l39 17l40 17l44 17v-82l4 7l6 8l10 10l16 12l26 13l40 16l40 16l44 17v-110l4 5l6 8l10 9l15 11l27 12l40 15l40 15l44 17v-105l3 6l7 8l9 9l16 12l27 13l39 17l40 18l44 19v-117l4 6l6 8l10 10l16 11l26 14l40 17l40 18l44 19v-115l4 6l6 8l10 9l16 10l26 13l40 17l40 17l44 19v-124l3 6l7 9l9 10l16 11l27 14l40 19l39 18l45 20M332 2544l3 20l5 26l7 31l11 36l15 38l6 13M394 2711v-259l3 15l5 20l7 24l11 28l15 29l21 32v-585l3 11l5 15l7 18l10 22l15 27l22 33v-149l3 7l6 12l10 14l16 18l27 23l39 30l40 28l44 31v-138l4 7l6 11l10 14l16 17l26 22l40 30l40 30l44 33v-176l4 7l6 10l10 13l15 15l27 21l40 29l40 29l44 32v-169l3 7l7 10l9 12l16 16l27 20l39 28l40 28l44 31v-166l4 7l6 9l10 12l16 15l26 19l40 27l40 27l44 29v-157l4 6l6 9l10 11l16 14l26 18l40 25l40 25l44 27v-160l3 7l7 9l9 12l16 14l27 19l40 26l39 26l45 28M332 2529l3 19l5 27l7 32l11 36l15 39l12 24M394 2711v-274l3 15l5 20l7 25l11 28l15 30l21 33v-585l3 11l5 16l7 19l10 25l15 29l22 37v-161l3 8l6 12l10 15l16 19l27 24l39 32l40 30l44 34v-149l4 8l6 11l10 15l16 17l26 24l40 33l40 32l44 36v-187l4 7l6 10l10 14l15 16l27 23l40 31l40 31l44 35v-180l3 7l7 10l9 13l16 16l27 22l39 30l40 30l44 33v-175l4 7l6 10l10 12l16 15l26 21l40 29l40 28l44 32v-166l4 6l6 10l10 11l16 15l26 19l40 27l40 26l44 30v-169l3 7l7 10l9 12l16 15l27 20l40 28l39 27l45 30M332 2536l3 19l5 27l7 31l11 36l15 38l9 19M394 2711v-268l3 16l5 20l7 24l11 28l15 30l21 32v-584l3 11l5 16l7 20l10 25l15 29l22 37v-162l3 8l6 12l10 16l16 19l27 24l39 32l40 30l44 34v-149l4 7l6 12l10 14l16 18l26 24l40 33l40 33l44 36v-189l4 7l6 11l10 13l15 17l27 23l40 31l40 32l44 34v-180l3 7l7 10l9 13l16 16l27 22l39 30l40 30l44 33v-176l4 7l6 10l10 13l16 15l26 21l40 29l40 28l44 32v-167l4 7l6 9l10 12l16 15l26 19l40 27l40 26l44 30v-169l3 7l7 10l9 12l16 15l27 20l40 28l39 27l45 30M332 2540l3 20l5 27l7 33l11 38l15 42l1 4M394 2711v-264l3 16l5 22l7 25l11 30l15 33l21 37v-597l3 12l5 18l7 23l10 29l15 35l22 46v-187l3 9l6 12l10 17l16 21l27 28l39 37l40 35l44 40v-174l4 9l6 12l10 16l16 20l26 27l40 39l40 38l44 42v-214l4 8l6 11l10 15l15 18l27 27l40 37l40 37l44 40v-206l3 8l7 11l9 14l16 18l27 25l39 36l40 34l44 39v-198l4 7l6 11l10 13l16 17l26 24l40 34l40 33l44 36v-187l4 7l6 10l10 12l16 17l26 22l40 31l40 31l44 34v-189l3 8l7 10l9 13l16 17l27 23l40 32l39 31l45 35M332 2522l3 20l5 28l7 33l11 38l15 42l4 10M394 2711v-281l3 15l5 22l7 26l11 30l15 33l21 37v-594l3 11l5 16l7 19l10 25l15 28l22 36v-159l3 9l6 12l10 15l16 19l27 24l39 31l40 30l44 33v-147l4 7l6 12l10 14l16 18l26 23l40 32l40 32l44 34v-183l4 7l6 10l10 13l15 17l27 22l40 31l40 30l44 34v-177l3 8l7 10l9 13l16 16l27 22l39 30l40 30l44 33v-175l4 7l6 10l10 13l16 15l26 21l40 29l40 29l44 31v-166l4 6l6 10l10 12l16 14l26 20l40 27l40 27l44 30v-170l3 7l7 10l9 12l16 16l27 20l40 28l39 28l45 31M332 2514l3 20l5 29l7 34l11 40l15 44l10 25M394 2711v-290l3 17l5 22l7 27l11 32l15 36l21 41v-603l3 13l5 18l7 24l10 30l15 38l22 48v-195l3 9l6 13l10 17l16 22l27 29l39 39l40 37l44 41v-182l4 9l6 13l10 16l16 21l26 28l40 40l40 40l44 44v-222l4 8l6 12l10 15l15 20l27 27l40 39l40 38l44 42v-213l3 8l7 12l9 14l16 19l27 27l39 36l40 37l44 40v-206l4 8l6 11l10 14l16 18l26 25l40 35l40 35l44 38v-195l4 7l6 11l10 13l16 17l26 24l40 32l40 33l44 36v-197l3 8l7 11l9 14l16 17l27 24l40 34l39 33l45 37M332 2505l3 19l5 27l7 31l11 37l15 38l21 42v-286l3 15l5 20l7 25l11 28l15 29l21 33v-576l3 9l5 12l7 13l10 15l15 15l22 17v-104l3 7l6 11l10 12l16 15l27 17l39 20l40 19l44 21v-97l4 7l6 10l10 11l16 13l26 15l40 20l40 19l44 21v-127l4 7l6 8l10 11l15 11l27 15l40 18l40 18l44 20v-119l3 6l7 9l9 11l16 12l27 15l39 20l40 20l44 21v-127l4 7l6 9l10 10l16 12l26 15l40 20l40 19l44 21v-123l4 6l6 8l10 10l16 12l26 14l40 19l40 18l44 20v-130l3 6l7 9l9 11l16 12l27 15l40 20l39 20l45 22M332 2501l3 19l5 27l7 32l11 38l15 39l21 44v-292l3 16l5 21l7 25l11 28l15 31l21 35v-580l3 10l5 14l7 16l10 20l15 23l22 26v-133l3 8l6 12l10 14l16 17l27 20l39 26l40 25l44 27v-124l4 8l6 11l10 12l16 16l26 19l40 26l40 26l44 28v-156l4 7l6 9l10 12l15 14l27 19l40 25l40 24l44 27v-148l3 6l7 10l9 12l16 14l27 19l39 25l40 25l44 27v-151l4 7l6 9l10 12l16 14l26 18l40 24l40 24l44 27v-146l4 7l6 9l10 11l16 13l26 17l40 23l40 23l44 25v-151l3 7l7 10l9 12l16 13l27 18l40 24l39 24l45 26M332 2504l3 21l5 27l7 33l11 39l15 42l14 33M394 2711v-299l3 16l5 22l7 26l11 30l15 34l21 38v-591l3 10l5 12l7 14l10 16l15 17l22 19v-111l3 7l6 11l10 13l16 16l27 18l39 21l40 20l44 23v-104l4 7l6 10l10 12l16 13l26 16l40 21l40 20l44 23v-133l4 7l6 9l10 11l15 12l27 15l40 20l40 19l44 22v-126l3 7l7 9l9 11l16 13l27 16l39 22l40 21l44 23v-134l4 6l6 10l10 11l16 12l26 17l40 21l40 21l44 23v-131l4 6l6 9l10 10l16 12l26 16l40 20l40 20l44 22v-138l3 6l7 10l9 11l16 13l27 16l40 22l39 22l45 23M332 2512l3 20l5 27l7 32l11 38l15 40l9 20M394 2711v-291l3 15l5 21l7 26l11 29l15 32l21 35v-584l3 9l5 10l7 13l10 13l15 12l22 13v-93l3 7l6 10l10 13l16 14l27 15l39 18l40 16l44 19v-87l4 7l6 9l10 11l16 12l26 13l40 17l40 16l44 18v-113l4 6l6 8l10 10l15 11l27 12l40 16l40 15l44 17v-106l3 6l7 9l9 10l16 12l27 13l39 18l40 18l44 19v-118l4 7l6 8l10 11l16 11l26 14l40 18l40 18l44 20v-117l4 6l6 9l10 9l16 12l26 13l40 18l40 17l44 18v-124l3 6l7 9l9 11l16 12l27 14l40 19l39 19l45 20M332 2486l3 20l5 27l7 32l11 38l15 40l21 44v-293l3 15l5 21l7 25l11 30l15 31l21 35v-578l3 10l5 13l7 17l10 18l15 21l22 25v-127l3 7l6 12l10 14l16 16l27 20l39 25l40 23l44 26v-118l4 7l6 11l10 12l16 15l26 19l40 24l40 24l44 26v-149l4 7l6 10l10 11l15 14l27 17l40 24l40 23l44 25v-141l3 6l7 10l9 12l16 14l27 18l39 24l40 23l44 26v-145l4 6l6 10l10 11l16 14l26 18l40 23l40 23l44 25v-140l4 6l6 9l10 11l16 13l26 17l40 22l40 21l44 24v-146l3 7l7 10l9 11l16 14l27 17l40 24l39 23l45 25M332 2487l3 20l5 28l7 34l11 40l15 43l21 49v-307l3 17l5 22l7 26l11 32l15 34l21 40v-591l3 12l5 16l7 20l10 26l15 29l22 37v-164l3 9l6 12l10 16l16 20l27 25l39 32l40 30l44 34v-152l4 8l6 12l10 14l16 18l26 24l40 33l40 32l44 36v-188l4 8l6 11l10 13l15 17l27 23l40 31l40 31l44 34v-179l3 8l7 11l9 13l16 17l27 22l39 31l40 31l44 33v-178l4 8l6 10l10 13l16 17l26 21l40 30l40 29l44 33v-171l4 7l6 10l10 13l16 15l26 21l40 28l40 27l44 31v-174l3 7l7 11l9 13l16 16l27 21l40 29l39 29l45 31M332 2490l3 20l5 27l7 32l11 38l15 40l21 44v-293l3 15l5 21l7 25l11 30l15 31l21 35v-578l3 11l5 16l7 20l10 24l15 29l22 36v-160l3 9l6 12l10 16l16 19l27 24l39 31l40 29l44 33v-148l4 8l6 12l10 15l16 17l26 24l40 31l40 32l44 34v-183l4 7l6 11l10 14l15 16l27 22l40 31l40 30l44 33v-175l3 8l7 10l9 14l16 16l27 21l39 30l40 29l44 33v-173l4 8l6 10l10 13l16 15l26 21l40 29l40 28l44 31v-165l4 7l6 10l10 12l16 15l26 19l40 27l40 26l44 29v-167l3 7l7 11l9 12l16 16l27 20l40 27l39 27l45 31M332 2489l3 20l5 27l7 31l11 37l15 39l21 42v-288l3 15l5 21l7 24l11 29l15 30l21 33v-573l3 8l5 10l7 11l10 11l15 11l22 9v-83l3 7l6 10l10 12l16 13l27 14l39 16l40 14l44 16v-77l4 6l6 10l10 10l16 11l26 12l40 14l40 14l44 16v-103l4 5l6 9l10 9l15 10l27 11l40 13l40 14l44 14v-96l3 6l7 9l9 9l16 11l27 13l39 16l40 15l44 17v-108l4 6l6 9l10 10l16 10l26 13l40 16l40 16l44 18v-108l4 6l6 8l10 10l16 10l26 12l40 16l40 15l44 17v-116l3 6l7 9l9 10l16 11l27 14l40 17l39 17l45 18M332 2474l3 20l5 26l7 32l11 36l15 39l21 42v-287l3 15l5 21l7 24l11 28l15 30l21 33v-568l3 12l5 17l7 21l10 26l15 31l22 38v-169l3 9l6 13l10 16l16 20l27 25l39 33l40 31l44 35v-157l4 9l6 12l10 15l16 19l26 24l40 34l40 33l44 37v-193l4 8l6 11l10 14l15 17l27 24l40 32l40 32l44 36v-184l3 8l7 11l9 13l16 17l27 23l39 31l40 30l44 34v-179l4 8l6 10l10 14l16 16l26 21l40 30l40 29l44 32v-169l4 7l6 10l10 12l16 16l26 20l40 27l40 27l44 30v-171l3 7l7 11l9 13l16 16l27 20l40 29l39 28l45 31M332 2483l3 21l5 27l7 33l11 38l15 41l21 45v-297l3 16l5 21l7 26l11 30l15 32l21 36v-579l3 9l5 13l7 14l10 17l15 17l22 19v-113l3 8l6 11l10 14l16 15l27 18l39 22l40 20l44 23v-106l4 8l6 10l10 12l16 13l26 17l40 21l40 20l44 23v-134l4 7l6 9l10 11l15 12l27 16l40 20l40 19l44 22v-126l3 7l7 9l9 12l16 13l27 16l39 21l40 21l44 23v-133l4 6l6 10l10 11l16 13l26 16l40 21l40 21l44 23v-131l4 6l6 9l10 11l16 12l26 16l40 20l40 20l44 22v-138l3 7l7 9l9 12l16 13l27 16l40 22l39 21l45 24M332 2484l3 20l5 28l7 32l11 38l15 41l21 46v-297l3 15l5 22l7 25l11 30l15 32l21 37v-579l3 9l5 13l7 15l10 17l15 18l22 21v-117l3 8l6 11l10 14l16 16l27 18l39 23l40 21l44 23v-109l4 7l6 11l10 12l16 14l26 17l40 22l40 21l44 24v-138l4 7l6 9l10 11l15 13l27 16l40 21l40 20l44 23v-130l3 7l7 9l9 12l16 13l27 17l39 22l40 21l44 24v-137l4 7l6 10l10 11l16 13l26 17l40 22l40 21l44 24v-134l4 6l6 9l10 11l16 13l26 16l40 20l40 21l44 22v-140l3 7l7 10l9 11l16 13l27 17l40 22l39 22l45 24M332 2480l3 19l5 27l7 31l11 37l15 38l21 42v-287l3 15l5 21l7 24l11 29l15 29l21 33v-568l3 12l5 16l7 19l10 25l15 28l22 35v-159l3 9l6 12l10 16l16 19l27 24l39 31l40 29l44 32v-147l4 9l6 11l10 15l16 18l26 23l40 31l40 31l44 34v-182l4 8l6 11l10 13l15 17l27 22l40 30l40 29l44 33v-173l3 8l7 10l9 14l16 16l27 21l39 29l40 29l44 32v-170l4 7l6 11l10 12l16 16l26 20l40 28l40 28l44 30v-162l4 7l6 10l10 12l16 15l26 19l40 26l40 26l44 28v-164l3 7l7 10l9 13l16 15l27 20l40 27l39 26l45 30M332 2469l3 19l5 27l7 32l11 37l15 39l21 43v-290l3 16l5 20l7 25l11 29l15 30l21 34v-569l3 12l5 17l7 20l10 26l15 30l22 37v-166l3 9l6 13l10 16l16 20l27 25l39 31l40 31l44 34v-153l4 8l6 12l10 15l16 18l26 25l40 32l40 33l44 36v-189l4 7l6 11l10 14l15 17l27 23l40 32l40 31l44 34v-180l3 8l7 11l9 13l16 17l27 22l39 31l40 30l44 33v-176l4 7l6 11l10 13l16 16l26 22l40 29l40 28l44 32v-167l4 7l6 10l10 12l16 15l26 20l40 27l40 27l44 30v-170l3 7l7 11l9 13l16 15l27 21l40 28l39 28l45 30M332 2486l3 20l5 27l7 33l11 38l15 41l21 46v-298l3 16l5 21l7 26l11 30l15 33l21 36v-580l3 12l5 16l7 20l10 24l15 28l22 35v-158l3 8l6 13l10 15l16 20l27 24l39 30l40 30l44 32v-147l4 8l6 12l10 14l16 18l26 23l40 31l40 31l44 34v-181l4 7l6 11l10 13l15 17l27 22l40 30l40 29l44 33v-172l3 7l7 11l9 13l16 17l27 21l39 30l40 29l44 32v-172l4 8l6 10l10 13l16 16l26 21l40 28l40 28l44 31v-164l4 7l6 10l10 12l16 15l26 20l40 27l40 26l44 29v-168l3 8l7 10l9 13l16 16l27 20l40 28l39 27l45 30M332 2467l3 20l5 28l7 32l11 39l15 41l21 46v-298l3 15l5 22l7 26l11 30l15 32l21 37v-577l3 10l5 13l7 15l10 18l15 20l22 23v-123l3 8l6 11l10 15l16 16l27 19l39 24l40 22l44 24v-114l4 8l6 10l10 13l16 14l26 18l40 23l40 22l44 25v-143l4 7l6 10l10 11l15 13l27 17l40 22l40 22l44 23v-135l3 7l7 10l9 12l16 13l27 18l39 23l40 22l44 25v-141l4 7l6 10l10 11l16 14l26 17l40 22l40 23l44 24v-137l4 6l6 9l10 11l16 13l26 17l40 21l40 22l44 23v-144l3 7l7 10l9 11l16 14l27 17l40 23l39 23l45 25M332 2478l3 20l5 27l7 32l11 37l15 40l21 43v-291l3 16l5 20l7 25l11 29l15 31l21 34v-571l3 10l5 13l7 17l10 19l15 21l22 24v-128l3 8l6 12l10 14l16 17l27 20l39 24l40 23l44 26v-119l4 8l6 11l10 12l16 15l26 19l40 24l40 24l44 27v-150l4 7l6 10l10 12l15 14l27 17l40 23l40 23l44 26v-142l3 7l7 10l9 12l16 14l27 18l39 24l40 23l44 26v-145l4 7l6 10l10 11l16 14l26 18l40 23l40 23l44 25v-140l4 6l6 10l10 11l16 13l26 16l40 22l40 22l44 24v-146l3 7l7 10l9 12l16 13l27 18l40 23l39 23l45 25M332 2479l3 21l5 27l7 33l11 38l15 41l21 46v-298l3 16l5 21l7 26l11 30l15 33l21 36v-578l3 12l5 17l7 20l10 26l15 31l22 37v-167l3 9l6 13l10 16l16 20l27 25l39 32l40 31l44 34v-155l4 9l6 12l10 15l16 18l26 25l40 33l40 32l44 36v-190l4 8l6 11l10 14l15 17l27 23l40 32l40 32l44 34v-181l3 8l7 11l9 14l16 17l27 22l39 31l40 31l44 34v-179l4 8l6 11l10 13l16 16l26 22l40 30l40 29l44 32v-170l4 7l6 10l10 13l16 15l26 21l40 28l40 27l44 31v-173l3 7l7 11l9 13l16 16l27 21l40 29l39 28l45 32M332 2462l3 20l5 27l7 33l11 38l15 41l21 46v-298l3 16l5 21l7 26l11 30l15 33l21 36v-575l3 10l5 13l7 16l10 19l15 20l22 23v-125l3 8l6 12l10 14l16 17l27 19l39 24l40 23l44 24v-115l4 7l6 11l10 12l16 15l26 18l40 24l40 23l44 25v-145l4 6l6 10l10 12l15 13l27 17l40 23l40 22l44 24v-137l3 7l7 10l9 12l16 14l27 17l39 23l40 23l44 26v-143l4 7l6 9l10 12l16 14l26 17l40 23l40 23l44 25v-139l4 6l6 10l10 11l16 13l26 16l40 22l40 22l44 24v-146l3 7l7 10l9 12l16 14l27 17l40 23l39 23l45 25M332 2467l3 19l5 26l7 32l11 36l15 37l21 42v-285l3 15l5 21l7 24l11 28l15 29l21 32v-562l3 11l5 16l7 19l10 24l15 27l22 32v-153l3 9l6 12l10 16l16 19l27 23l39 29l40 28l44 31v-142l4 8l6 12l10 15l16 17l26 22l40 30l40 30l44 32v-176l4 8l6 11l10 13l15 16l27 21l40 29l40 28l44 31v-166l3 7l7 11l9 13l16 16l27 21l39 28l40 27l44 31v-165l4 7l6 11l10 12l16 16l26 19l40 27l40 27l44 29v-157l4 7l6 10l10 12l16 14l26 19l40 25l40 24l44 28v-160l3 7l7 10l9 13l16 15l27 19l40 26l39 26l45 28M332 2474l3 20l5 27l7 32l11 37l15 40l21 44v-292l3 15l5 21l7 25l11 29l15 32l21 34v-571l3 12l5 16l7 20l10 24l15 28l22 34v-158l3 9l6 13l10 16l16 19l27 24l39 30l40 29l44 32v-146l4 8l6 12l10 14l16 18l26 23l40 31l40 30l44 34v-180l4 7l6 11l10 14l15 16l27 22l40 30l40 29l44 32v-171l3 8l7 11l9 13l16 16l27 22l39 29l40 28l44 32v-170l4 8l6 10l10 13l16 16l26 21l40 27l40 28l44 30v-161l4 7l6 10l10 12l16 15l26 19l40 26l40 26l44 28v-165l3 8l7 10l9 13l16 16l27 20l40 27l39 26l45 30M332 2467l3 20l5 28l7 32l11 39l15 40l21 46v-297l3 16l5 21l7 26l11 29l15 33l21 36v-574l3 10l5 14l7 17l10 20l15 23l22 26v-134l3 8l6 12l10 15l16 17l27 21l39 26l40 24l44 26v-124l4 8l6 11l10 13l16 16l26 19l40 26l40 24l44 28v-155l4 7l6 11l10 12l15 14l27 18l40 25l40 23l44 27v-146l3 7l7 10l9 12l16 15l27 19l39 25l40 24l44 27v-150l4 7l6 10l10 12l16 14l26 19l40 24l40 24l44 26v-145l4 7l6 9l10 12l16 13l26 18l40 23l40 22l44 26v-151l3 7l7 10l9 12l16 15l27 18l40 24l39 24l45 26M332 2456l3 20l5 27l7 32l11 37l15 39l21 44v-291l3 15l5 21l7 25l11 29l15 31l21 34v-566l3 12l5 16l7 21l10 26l15 30l22 37v-166l3 9l6 13l10 16l16 20l27 25l39 32l40 30l44 34v-154l4 8l6 13l10 15l16 18l26 25l40 32l40 33l44 35v-189l4 8l6 11l10 14l15 17l27 23l40 32l40 31l44 34v-179l3 8l7 11l9 13l16 17l27 23l39 30l40 30l44 33v-176l4 8l6 11l10 13l16 16l26 21l40 29l40 29l44 32v-168l4 8l6 10l10 12l16 16l26 20l40 27l40 27l44 29v-170l3 8l7 11l9 13l16 16l27 20l40 28l39 28l45 31M332 2453l3 20l5 26l7 31l11 35l15 38l21 40v-282l3 15l5 20l7 24l11 27l15 29l21 31v-557l3 10l5 13l7 15l10 17l15 17l22 20v-115l3 7l6 12l10 14l16 16l27 18l39 21l40 21l44 22v-106l4 7l6 11l10 12l16 14l26 17l40 21l40 21l44 23v-136l4 7l6 9l10 12l15 12l27 16l40 20l40 20l44 22v-127l3 7l7 9l9 12l16 13l27 16l39 21l40 21l44 23v-133l4 7l6 9l10 12l16 12l26 16l40 21l40 20l44 23v-129l4 7l6 9l10 11l16 12l26 15l40 19l40 20l44 21v-135l3 7l7 10l9 11l16 13l27 16l40 21l39 20l45 23M332 2462l3 20l5 27l7 32l11 38l15 39l21 45v-293l3 15l5 21l7 25l11 30l15 31l21 35v-569l3 12l5 16l7 19l10 24l15 27l22 33v-155l3 9l6 13l10 15l16 20l27 23l39 30l40 28l44 31v-143l4 8l6 12l10 14l16 18l26 22l40 30l40 30l44 32v-176l4 7l6 11l10 14l15 16l27 21l40 29l40 28l44 32v-167l3 7l7 11l9 13l16 16l27 21l39 29l40 28l44 31v-167l4 7l6 11l10 13l16 15l26 21l40 27l40 27l44 30v-160l4 7l6 10l10 13l16 14l26 19l40 26l40 25l44 28v-163l3 8l7 10l9 13l16 15l27 20l40 27l39 26l45 29M332 2455l3 21l5 27l7 33l11 38l15 41l21 46v-298l3 16l5 21l7 26l11 30l15 33l21 36v-573l3 12l5 15l7 19l10 23l15 26l22 32v-150l3 8l6 13l10 15l16 19l27 23l39 29l40 27l44 30v-139l4 8l6 12l10 14l16 17l26 22l40 29l40 28l44 32v-172l4 8l6 11l10 13l15 15l27 21l40 28l40 27l44 30v-162l3 8l7 10l9 13l16 16l27 21l39 27l40 28l44 30v-163l4 7l6 10l10 13l16 16l26 19l40 27l40 27l44 29v-157l4 7l6 10l10 12l16 15l26 19l40 25l40 25l44 27v-161l3 7l7 11l9 13l16 15l27 20l40 26l39 26l45 29M332 2449l3 21l5 27l7 34l11 39l15 42l21 47v-302l3 16l5 22l7 26l11 31l15 33l21 38v-575l3 10l5 14l7 16l10 20l15 20l22 24v-128l3 8l6 12l10 15l16 17l27 20l39 24l40 23l44 25v-118l4 7l6 11l10 13l16 15l26 19l40 23l40 24l44 25v-147l4 7l6 10l10 12l15 14l27 17l40 23l40 22l44 25v-139l3 7l7 10l9 12l16 15l27 18l39 23l40 24l44 26v-145l4 7l6 10l10 12l16 14l26 17l40 24l40 23l44 26v-142l4 7l6 10l10 11l16 13l26 17l40 23l40 22l44 24v-148l3 8l7 10l9 12l16 14l27 18l40 24l39 23l45 26M332 2457l3 19l5 26l7 31l11 36l15 37l21 41v-283l3 15l5 21l7 23l11 28l15 28l21 32v-557l3 11l5 14l7 16l10 19l15 21l22 24v-128l3 8l6 12l10 14l16 17l27 20l39 24l40 23l44 25v-118l4 8l6 11l10 13l16 15l26 18l40 24l40 24l44 26v-149l4 7l6 11l10 11l15 14l27 18l40 23l40 22l44 25v-140l3 7l7 11l9 12l16 14l27 17l39 24l40 22l44 26v-143l4 7l6 10l10 12l16 14l26 17l40 22l40 22l44 25v-137l4 6l6 10l10 11l16 13l26 16l40 21l40 21l44 23v-142l3 7l7 10l9 12l16 14l27 17l40 22l39 22l45 24M332 2446l3 21l5 28l7 34l11 40l15 43l21 49v-307l3 16l5 22l7 27l11 32l15 35l21 39v-579l3 12l5 16l7 19l10 24l15 27l22 33v-154l3 8l6 13l10 16l16 19l27 24l39 29l40 29l44 31v-144l4 8l6 12l10 15l16 17l26 22l40 30l40 29l44 32v-175l4 8l6 11l10 13l15 16l27 21l40 29l40 28l44 31v-166l3 8l7 11l9 14l16 16l27 21l39 29l40 28l44 31v-168l4 8l6 11l10 13l16 16l26 20l40 28l40 28l44 30v-162l4 7l6 11l10 12l16 15l26 20l40 26l40 26l44 29v-166l3 7l7 11l9 13l16 16l27 20l40 28l39 27l45 30M332 2448l3 20l5 27l7 31l11 37l15 38l21 43v-288l3 15l5 21l7 24l11 29l15 30l21 33v-560l3 11l5 14l7 17l10 20l15 22l22 26v-134l3 9l6 12l10 15l16 17l27 21l39 25l40 23l44 27v-123l4 7l6 12l10 13l16 16l26 19l40 25l40 24l44 28v-154l4 7l6 11l10 12l15 14l27 18l40 24l40 24l44 26v-145l3 8l7 10l9 12l16 15l27 18l39 24l40 24l44 27v-148l4 7l6 10l10 13l16 14l26 18l40 23l40 23l44 26v-142l4 7l6 10l10 11l16 13l26 17l40 23l40 21l44 25v-147l3 7l7 10l9 12l16 14l27 18l40 23l39 23l45 26M332 2451l3 21l5 27l7 33l11 38l15 42l21 46v-299l3 16l5 21l7 26l11 30l15 33l21 37v-571l3 9l5 12l7 14l10 16l15 16l22 16v-107l3 8l6 11l10 14l16 15l27 18l39 20l40 19l44 20v-100l4 8l6 10l10 12l16 13l26 15l40 19l40 19l44 21v-126l4 6l6 10l10 11l15 12l27 14l40 18l40 18l44 20v-118l3 7l7 9l9 12l16 13l27 15l39 20l40 20l44 21v-127l4 7l6 9l10 11l16 13l26 16l40 20l40 20l44 21v-125l4 6l6 9l10 11l16 12l26 15l40 20l40 19l44 21v-134l3 7l7 10l9 11l16 14l27 15l40 21l39 21l45 22M332 2438l3 20l5 28l7 33l11 38l15 42l21 46v-299l3 16l5 21l7 26l11 30l15 33l21 37v-568l3 13l5 18l7 23l10 27l15 33l22 40v-177l3 9l6 14l10 17l16 21l27 27l39 33l40 33l44 36v-165l4 9l6 13l10 16l16 19l26 26l40 35l40 34l44 38v-199l4 8l6 12l10 15l15 18l27 24l40 34l40 33l44 36v-188l3 8l7 11l9 15l16 18l27 23l39 33l40 32l44 35v-185l4 8l6 11l10 14l16 18l26 22l40 31l40 31l44 34v-176l4 7l6 11l10 13l16 16l26 22l40 29l40 28l44 32v-178l3 7l7 12l9 14l16 16l27 23l40 30l39 29l45 33M332 2435l3 20l5 27l7 33l11 38l15 42l21 46v-298l3 15l5 22l7 25l11 30l15 33l21 37v-566l3 12l5 18l7 22l10 27l15 32l22 40v-175l3 9l6 14l10 17l16 21l27 26l39 33l40 32l44 35v-162l4 9l6 13l10 16l16 19l26 25l40 34l40 34l44 37v-196l4 8l6 12l10 14l15 18l27 24l40 33l40 33l44 36v-186l3 8l7 11l9 15l16 17l27 24l39 32l40 31l44 35v-183l4 8l6 11l10 14l16 17l26 23l40 30l40 30l44 34v-174l4 7l6 11l10 13l16 16l26 21l40 29l40 28l44 31v-176l3 8l7 11l9 14l16 16l27 22l40 30l39 29l45 32M332 2433l3 20l5 27l7 33l11 37l15 40l21 45v-294l3 15l5 22l7 25l11 29l15 32l21 35v-561l3 9l5 12l7 13l10 14l15 14l22 14v-100l3 8l6 11l10 14l16 15l27 16l39 18l40 18l44 18v-93l4 7l6 11l10 11l16 13l26 14l40 18l40 16l44 19v-118l4 7l6 9l10 10l15 12l27 13l40 17l40 16l44 17v-109l3 7l7 9l9 11l16 13l27 14l39 19l40 18l44 20v-121l4 7l6 10l10 11l16 12l26 15l40 18l40 19l44 20v-119l4 6l6 10l10 10l16 12l26 14l40 18l40 17l44 20v-127l3 7l7 10l9 11l16 13l27 15l40 19l39 19l45 21M332 2436l3 20l5 26l7 32l11 36l15 39l21 42v-287l3 15l5 21l7 24l11 28l15 30l21 33v-555l3 12l5 17l7 21l10 25l15 30l22 36v-165l3 9l6 14l10 16l16 20l27 25l39 31l40 30l44 32v-151l4 8l6 13l10 15l16 18l26 24l40 32l40 31l44 35v-185l4 7l6 12l10 14l15 17l27 22l40 31l40 30l44 33v-175l3 8l7 12l9 13l16 17l27 22l39 30l40 29l44 32v-172l4 8l6 11l10 13l16 16l26 21l40 29l40 27l44 31v-163l4 7l6 10l10 13l16 15l26 20l40 26l40 26l44 29v-166l3 7l7 11l9 14l16 15l27 21l40 27l39 27l45 30M332 2430l3 20l5 27l7 33l11 38l15 40l21 46v-296l3 15l5 22l7 25l11 30l15 32l21 36v-562l3 11l5 15l7 18l10 21l15 24l22 27v-140l3 9l6 12l10 16l16 18l27 21l39 27l40 25l44 27v-130l4 8l6 12l10 14l16 16l26 20l40 26l40 26l44 28v-159l4 8l6 10l10 13l15 15l27 19l40 25l40 25l44 27v-150l3 8l7 11l9 13l16 15l27 19l39 25l40 25l44 28v-153l4 8l6 10l10 13l16 15l26 18l40 25l40 25l44 27v-148l4 7l6 10l10 12l16 14l26 18l40 23l40 24l44 25v-153l3 8l7 10l9 13l16 15l27 19l40 24l39 25l45 26M332 2421l3 19l5 27l7 32l11 37l15 39l21 43v-290l3 16l5 20l7 25l11 29l15 30l21 34v-554l3 9l5 13l7 14l10 15l15 15l22 15v-105l3 8l6 12l10 14l16 15l27 17l39 19l40 18l44 19v-96l4 7l6 11l10 12l16 13l26 14l40 19l40 17l44 20v-122l4 6l6 10l10 11l15 12l27 13l40 18l40 16l44 19v-113l3 7l7 9l9 12l16 12l27 15l39 19l40 19l44 20v-122l4 6l6 10l10 11l16 13l26 15l40 19l40 18l44 21v-121l4 7l6 9l10 11l16 12l26 14l40 18l40 18l44 20v-128l3 7l7 10l9 11l16 13l27 15l40 20l39 19l45 21M332 2424l3 19l5 26l7 31l11 35l15 37l21 40v-281l3 15l5 20l7 24l11 27l15 28l21 31v-545l3 12l5 15l7 19l10 23l15 26l22 30v-149l3 9l6 13l10 16l16 19l27 22l39 28l40 26l44 30v-138l4 9l6 12l10 14l16 17l26 22l40 28l40 28l44 31v-169l4 7l6 11l10 13l15 16l27 20l40 28l40 26l44 30v-159l3 7l7 11l9 13l16 16l27 20l39 27l40 26l44 29v-158l4 7l6 11l10 13l16 15l26 19l40 26l40 25l44 27v-150l4 7l6 10l10 12l16 14l26 18l40 24l40 23l44 26v-154l3 7l7 11l9 13l16 15l27 19l40 24l39 25l45 27M332 2420l3 20l5 28l7 34l11 40l15 43l21 49v-307l3 17l5 22l7 26l11 32l15 34l21 40v-570l3 11l5 15l7 18l10 21l15 24l22 28v-141l3 9l6 12l10 16l16 18l27 22l39 27l40 25l44 27v-131l4 8l6 12l10 14l16 16l26 20l40 27l40 25l44 29v-160l4 8l6 10l10 13l15 15l27 19l40 25l40 25l44 28v-151l3 8l7 11l9 13l16 15l27 20l39 26l40 25l44 28v-155l4 8l6 11l10 12l16 15l26 20l40 25l40 25l44 28v-151l4 7l6 11l10 12l16 14l26 18l40 25l40 24l44 26v-156l3 7l7 11l9 13l16 15l27 19l40 26l39 25l45 28M332 2415l3 20l5 28l7 32l11 38l15 41l21 45v-296l3 16l5 21l7 25l11 30l15 32l21 36v-559l3 12l5 16l7 20l10 23l15 27l22 32v-153l3 9l6 13l10 16l16 19l27 23l39 29l40 28l44 30v-142l4 8l6 13l10 14l16 18l26 22l40 29l40 28l44 32v-173l4 8l6 11l10 13l15 17l27 20l40 28l40 28l44 30v-163l3 8l7 11l9 14l16 16l27 21l39 27l40 28l44 30v-164l4 8l6 11l10 13l16 16l26 20l40 27l40 26l44 30v-158l4 8l6 10l10 13l16 14l26 19l40 26l40 25l44 27v-161l3 8l7 11l9 13l16 15l27 20l40 27l39 26l45 28M332 2417l3 21l5 27l7 33l11 39l15 42l21 47v-301l3 16l5 22l7 26l11 30l15 33l21 38v-564l3 13l5 17l7 21l10 25l15 30l22 36v-165l3 9l6 13l10 17l16 20l27 25l39 32l40 29l44 33v-153l4 9l6 12l10 16l16 18l26 24l40 32l40 31l44 34v-185l4 8l6 12l10 14l15 17l27 22l40 31l40 30l44 33v-175l3 8l7 12l9 14l16 17l27 22l39 30l40 30l44 33v-175l4 8l6 12l10 13l16 17l26 21l40 29l40 29l44 32v-168l4 8l6 11l10 13l16 15l26 21l40 27l40 27l44 30v-171l3 8l7 11l9 14l16 16l27 21l40 29l39 28l45 31M332 2404l3 20l5 27l7 31l11 37l15 39l21 42v-288l3 15l5 21l7 24l11 29l15 30l21 33v-548l3 11l5 15l7 17l10 20l15 22l22 26v-135l3 9l6 13l10 15l16 18l27 20l39 25l40 24l44 26v-124l4 8l6 11l10 14l16 16l26 19l40 25l40 24l44 27v-153l4 7l6 11l10 12l15 15l27 18l40 24l40 23l44 26v-144l3 8l7 10l9 13l16 15l27 18l39 24l40 24l44 26v-146l4 7l6 10l10 13l16 14l26 18l40 24l40 23l44 25v-141l4 7l6 10l10 12l16 13l26 17l40 22l40 22l44 24v-146l3 7l7 11l9 12l16 14l27 18l40 24l39 23l45 25M332 2420l3 20l5 27l7 33l11 39l15 41l21 46v-299l3 16l5 22l7 25l11 31l15 32l21 37v-561l3 10l5 12l7 15l10 16l15 16l22 16v-109l3 8l6 12l10 14l16 16l27 18l39 20l40 18l44 21v-102l4 8l6 11l10 12l16 14l26 15l40 19l40 18l44 21v-126l4 7l6 9l10 12l15 12l27 14l40 18l40 18l44 19v-117l3 7l7 11l9 11l16 13l27 16l39 20l40 19l44 22v-127l4 7l6 10l10 11l16 13l26 16l40 20l40 20l44 21v-125l4 7l6 9l10 11l16 13l26 15l40 19l40 19l44 21v-133l3 7l7 10l9 12l16 13l27 17l40 20l39 21l45 22M332 2409l3 20l5 27l7 33l11 39l15 41l21 47v-300l3 16l5 22l7 26l11 30l15 33l21 37v-560l3 13l5 17l7 20l10 26l15 29l22 35v-163l3 9l6 13l10 17l16 20l27 25l39 31l40 29l44 32v-151l4 8l6 13l10 15l16 19l26 23l40 31l40 31l44 34v-183l4 8l6 12l10 14l15 17l27 22l40 30l40 29l44 33v-172l3 8l7 11l9 14l16 17l27 22l39 30l40 29l44 32v-172l4 8l6 11l10 14l16 16l26 22l40 28l40 28l44 31v-164l4 7l6 11l10 13l16 15l26 20l40 27l40 27l44 29v-168l3 7l7 12l9 13l16 17l27 20l40 28l39 28l45 30M332 2414l3 20l5 28l7 33l11 38l15 42l21 46v-299l3 16l5 21l7 26l11 30l15 33l21 37v-560l3 12l5 16l7 20l10 24l15 26l22 32v-154l3 9l6 14l10 16l16 19l27 24l39 29l40 27l44 31v-144l4 9l6 12l10 15l16 18l26 22l40 29l40 28l44 32v-173l4 8l6 11l10 13l15 17l27 21l40 28l40 27l44 30v-162l3 7l7 12l9 13l16 17l27 20l39 28l40 28l44 30v-164l4 8l6 11l10 13l16 16l26 20l40 27l40 27l44 30v-159l4 8l6 10l10 13l16 15l26 19l40 26l40 25l44 28v-163l3 8l7 11l9 14l16 15l27 20l40 27l39 26l45 29M332 2396l3 20l5 27l7 32l11 37l15 40l21 44v-292l3 15l5 21l7 25l11 29l15 31l21 35v-549l3 12l5 17l7 21l10 25l15 29l22 35v-163l3 10l6 13l10 17l16 20l27 24l39 31l40 29l44 32v-150l4 8l6 13l10 15l16 19l26 23l40 31l40 30l44 34v-182l4 8l6 12l10 14l15 17l27 22l40 30l40 29l44 32v-171l3 8l7 12l9 14l16 16l27 22l39 29l40 29l44 32v-170l4 8l6 11l10 13l16 17l26 21l40 28l40 27l44 31v-163l4 8l6 11l10 12l16 16l26 19l40 27l40 26l44 28v-165l3 8l7 11l9 13l16 16l27 21l40 27l39 27l45 30M332 2395l3 20l5 26l7 32l11 36l15 39l21 42v-287l3 15l5 21l7 24l11 28l15 30l21 33v-544l3 11l5 13l7 15l10 18l15 17l22 19v-116l3 8l6 12l10 15l16 16l27 19l39 21l40 19l44 22v-107l4 8l6 11l10 13l16 14l26 16l40 21l40 20l44 22v-133l4 7l6 10l10 11l15 13l27 15l40 20l40 19l44 21v-123l3 7l7 10l9 12l16 13l27 16l39 21l40 20l44 23v-131l4 8l6 10l10 12l16 13l26 16l40 20l40 20l44 22v-127l4 7l6 10l10 11l16 13l26 15l40 19l40 19l44 21v-134l3 8l7 10l9 12l16 14l27 16l40 21l39 20l45 22M332 2414l3 19l5 27l7 32l11 37l15 40l21 43v-291l3 16l5 21l7 24l11 29l15 31l21 34v-550l3 12l5 16l7 20l10 23l15 27l22 32v-154l3 9l6 14l10 16l16 19l27 24l39 28l40 27l44 30v-142l4 9l6 12l10 15l16 18l26 22l40 29l40 28l44 31v-172l4 8l6 11l10 14l15 16l27 21l40 27l40 27l44 31v-162l3 8l7 11l9 14l16 16l27 20l39 28l40 27l44 30v-162l4 7l6 12l10 13l16 16l26 19l40 27l40 26l44 29v-155l4 7l6 10l10 13l16 15l26 19l40 25l40 24l44 27v-159l3 8l7 11l9 13l16 16l27 19l40 26l39 26l45 28M332 2408l3 19l5 26l7 31l11 36l15 37l21 41v-283l3 15l5 20l7 24l11 28l15 28l21 32v-541l3 12l5 16l7 20l10 23l15 26l22 32v-153l3 9l6 14l10 16l16 19l27 23l39 28l40 27l44 30v-141l4 9l6 12l10 15l16 18l26 21l40 29l40 28l44 31v-171l4 8l6 11l10 14l15 16l27 20l40 28l40 27l44 30v-161l3 8l7 11l9 14l16 16l27 20l39 27l40 27l44 29v-160l4 8l6 11l10 13l16 15l26 20l40 26l40 25l44 28v-152l4 7l6 11l10 12l16 15l26 18l40 24l40 24l44 26v-156l3 8l7 11l9 13l16 15l27 19l40 26l39 24l45 28M332 2396l3 20l5 26l7 31l11 36l15 38l21 41v-284l3 15l5 20l7 24l11 28l15 29l21 32v-540l3 10l5 14l7 16l10 18l15 18l22 21v-121l3 9l6 12l10 15l16 17l27 19l39 21l40 21l44 22v-111l4 8l6 12l10 13l16 14l26 17l40 22l40 21l44 23v-138l4 7l6 11l10 11l15 14l27 16l40 20l40 20l44 22v-128l3 8l7 10l9 12l16 14l27 16l39 22l40 21l44 23v-134l4 8l6 10l10 12l16 13l26 17l40 21l40 20l44 23v-130l4 7l6 10l10 11l16 13l26 16l40 20l40 19l44 22v-136l3 7l7 11l9 12l16 13l27 17l40 21l39 21l45 23M332 2395l3 20l5 27l7 32l11 37l15 40l21 44v-292l3 15l5 21l7 25l11 29l15 31l21 35v-548l3 11l5 14l7 17l10 20l15 21l22 23v-130l3 9l6 13l10 15l16 18l27 20l39 24l40 22l44 25v-121l4 9l6 11l10 14l16 15l26 19l40 23l40 23l44 25v-147l4 8l6 10l10 13l15 14l27 17l40 22l40 22l44 24v-137l3 8l7 11l9 12l16 15l27 18l39 23l40 23l44 25v-143l4 8l6 10l10 13l16 14l26 18l40 23l40 22l44 25v-139l4 8l6 10l10 11l16 14l26 17l40 21l40 22l44 23v-144l3 8l7 10l9 13l16 14l27 18l40 23l39 22l45 25M332 2394l3 20l5 26l7 32l11 36l15 39l21 42v-287l3 15l5 21l7 24l11 28l15 30l21 33v-543l3 11l5 14l7 16l10 18l15 19l22 20v-121l3 8l6 13l10 15l16 17l27 19l39 22l40 20l44 23v-112l4 8l6 11l10 14l16 14l26 17l40 22l40 21l44 23v-138l4 7l6 10l10 12l15 14l27 15l40 21l40 20l44 22v-128l3 7l7 11l9 12l16 14l27 17l39 21l40 21l44 24v-135l4 7l6 11l10 12l16 13l26 17l40 21l40 21l44 23v-131l4 7l6 10l10 11l16 13l26 16l40 20l40 20l44 22v-137l3 7l7 11l9 12l16 14l27 16l40 22l39 21l45 23M332 2397l3 19l5 27l7 32l11 37l15 40l21 43v-291l3 16l5 21l7 24l11 29l15 31l21 34v-546l3 9l5 13l7 14l10 15l15 14l22 15v-104l3 8l6 12l10 14l16 16l27 16l39 19l40 17l44 19v-96l4 8l6 11l10 12l16 13l26 14l40 18l40 17l44 18v-119l4 7l6 10l10 11l15 11l27 14l40 16l40 16l44 18v-110l3 8l7 10l9 11l16 13l27 14l39 19l40 18l44 20v-120l4 7l6 10l10 11l16 13l26 14l40 19l40 18l44 20v-118l4 6l6 10l10 11l16 12l26 14l40 18l40 18l44 19v-127l3 8l7 10l9 11l16 13l27 16l40 19l39 19l45 21M332 2388l3 19l5 27l7 32l11 37l15 40l21 43v-291l3 16l5 21l7 24l11 29l15 31l21 34v-544l3 11l5 13l7 16l10 18l15 18l22 19v-118l3 8l6 13l10 15l16 16l27 19l39 22l40 20l44 22v-110l4 8l6 11l10 13l16 15l26 16l40 21l40 20l44 23v-135l4 7l6 10l10 12l15 13l27 16l40 20l40 19l44 21v-125l3 8l7 10l9 12l16 14l27 17l39 21l40 20l44 23v-132l4 7l6 11l10 12l16 13l26 16l40 21l40 21l44 23v-130l4 7l6 10l10 12l16 13l26 15l40 20l40 20l44 21v-136l3 8l7 10l9 12l16 14l27 17l40 21l39 21l45 23M332 2377l3 20l5 28l7 33l11 38l15 41l21 46v-298l3 16l5 21l7 26l11 30l15 32l21 37v-548l3 11l5 15l7 18l10 19l15 22l22 23v-131l3 8l6 13l10 16l16 18l27 20l39 24l40 23l44 25v-122l4 8l6 12l10 14l16 15l26 19l40 23l40 23l44 26v-148l4 7l6 11l10 13l15 14l27 17l40 23l40 22l44 24v-137l3 8l7 11l9 12l16 15l27 18l39 24l40 23l44 25v-143l4 7l6 11l10 13l16 14l26 18l40 24l40 22l44 25v-140l4 8l6 10l10 12l16 14l26 17l40 22l40 22l44 24v-146l3 8l7 11l9 12l16 15l27 18l40 24l39 23l45 25M332 2379l3 20l5 28l7 32l11 38l15 40l21 46v-296l3 16l5 21l7 25l11 30l15 32l21 36v-546l3 11l5 13l7 16l10 17l15 18l22 18v-116l3 8l6 13l10 15l16 16l27 19l39 21l40 20l44 21v-108l4 8l6 11l10 13l16 15l26 16l40 20l40 20l44 21v-132l4 7l6 10l10 12l15 13l27 15l40 20l40 18l44 21v-122l3 7l7 11l9 12l16 14l27 16l39 21l40 20l44 23v-131l4 7l6 11l10 12l16 13l26 17l40 21l40 20l44 22v-128l4 7l6 10l10 11l16 13l26 16l40 20l40 19l44 22v-136l3 8l7 10l9 13l16 14l27 16l40 22l39 20l45 24M332 2371l3 20l5 27l7 32l11 37l15 39l21 43v-290l3 15l5 21l7 25l11 29l15 30l21 34v-538l3 12l5 17l7 19l10 23l15 26l22 30v-151l3 10l6 13l10 17l16 19l27 23l39 28l40 26l44 28v-138l4 8l6 13l10 15l16 17l26 21l40 28l40 27l44 30v-167l4 8l6 11l10 14l15 16l27 20l40 26l40 26l44 29v-156l3 8l7 12l9 13l16 16l27 20l39 27l40 26l44 29v-158l4 8l6 11l10 14l16 15l26 20l40 25l40 26l44 28v-152l4 7l6 11l10 13l16 15l26 18l40 24l40 24l44 27v-157l3 8l7 12l9 13l16 16l27 19l40 25l39 25l45 28M332 2371l3 20l5 27l7 33l11 37l15 40l21 45v-294l3 16l5 21l7 25l11 29l15 32l21 35v-540l3 12l5 15l7 18l10 21l15 21l22 25v-135l3 9l6 13l10 16l16 18l27 21l39 25l40 23l44 25v-125l4 9l6 12l10 14l16 16l26 19l40 24l40 23l44 26v-151l4 8l6 11l10 13l15 15l27 17l40 23l40 23l44 25v-140l3 8l7 11l9 13l16 15l27 19l39 24l40 23l44 26v-145l4 7l6 12l10 13l16 14l26 18l40 24l40 23l44 25v-141l4 8l6 10l10 13l16 14l26 17l40 22l40 22l44 24v-147l3 8l7 11l9 14l16 14l27 19l40 23l39 23l45 26M332 2357l3 20l5 26l7 32l11 36l15 39l21 42v-287l3 15l5 20l7 25l11 28l15 30l21 33v-530l3 12l5 15l7 18l10 21l15 22l22 25v-137l3 9l6 14l10 16l16 18l27 21l39 25l40 23l44 26v-127l4 9l6 12l10 15l16 16l26 19l40 25l40 23l44 27v-153l4 8l6 11l10 13l15 15l27 18l40 23l40 23l44 25v-141l3 8l7 11l9 13l16 15l27 19l39 24l40 23l44 26v-146l4 8l6 11l10 13l16 15l26 18l40 24l40 23l44 25v-141l4 8l6 10l10 13l16 14l26 17l40 22l40 21l44 24v-146l3 8l7 12l9 13l16 14l27 18l40 24l39 23l45 25M332 2363l3 19l5 27l7 32l11 37l15 38l21 43v-288l3 15l5 20l7 25l11 28l15 31l21 33v-532l3 11l5 14l7 17l10 19l15 19l22 20v-124l3 9l6 13l10 16l16 17l27 19l39 23l40 20l44 23v-115l4 9l6 12l10 13l16 15l26 18l40 21l40 21l44 23v-139l4 8l6 10l10 13l15 13l27 16l40 21l40 20l44 22v-128l3 8l7 11l9 12l16 14l27 17l39 22l40 21l44 24v-135l4 7l6 11l10 13l16 14l26 16l40 22l40 21l44 23v-132l4 8l6 10l10 12l16 13l26 16l40 20l40 20l44 22v-138l3 8l7 11l9 13l16 14l27 17l40 22l39 21l45 23M332 2354l3 20l5 27l7 32l11 38l15 40l21 44v-293l3 16l5 21l7 25l11 29l15 31l21 35v-535l3 11l5 15l7 18l10 20l15 20l22 23v-131l3 9l6 14l10 16l16 18l27 20l39 24l40 22l44 24v-121l4 8l6 12l10 14l16 16l26 18l40 23l40 23l44 24v-146l4 8l6 11l10 13l15 14l27 17l40 22l40 21l44 24v-135l3 8l7 11l9 13l16 15l27 18l39 23l40 22l44 25v-141l4 8l6 11l10 12l16 15l26 17l40 23l40 22l44 25v-138l4 8l6 10l10 13l16 13l26 17l40 22l40 21l44 23v-143l3 8l7 11l9 13l16 14l27 18l40 23l39 22l45 25M332 2359l3 19l5 27l7 31l11 36l15 38l21 42v-286l3 15l5 21l7 24l11 28l15 29l21 33v-528l3 12l5 16l7 19l10 22l15 24l22 28v-145l3 9l6 14l10 16l16 20l27 22l39 26l40 25l44 27v-134l4 9l6 13l10 14l16 17l26 21l40 26l40 25l44 29v-161l4 8l6 11l10 14l15 15l27 19l40 25l40 25l44 27v-149l3 8l7 11l9 14l16 15l27 20l39 25l40 25l44 27v-152l4 8l6 12l10 13l16 15l26 19l40 24l40 25l44 26v-146l4 8l6 10l10 13l16 14l26 18l40 23l40 23l44 25v-151l3 8l7 12l9 13l16 15l27 19l40 24l39 24l45 26M332 2360l3 20l5 27l7 31l11 37l15 39l21 43v-289l3 15l5 21l7 24l11 29l15 30l21 34v-532l3 11l5 16l7 18l10 20l15 21l22 24v-134l3 10l6 13l10 16l16 18l27 21l39 24l40 22l44 25v-123l4 8l6 12l10 15l16 15l26 19l40 24l40 23l44 25v-149l4 8l6 11l10 13l15 14l27 18l40 22l40 22l44 25v-138l3 8l7 11l9 13l16 15l27 18l39 24l40 22l44 26v-143l4 8l6 11l10 13l16 14l26 18l40 23l40 22l44 25v-138l4 7l6 11l10 12l16 14l26 17l40 21l40 22l44 23v-144l3 8l7 11l9 13l16 15l27 18l40 23l39 22l45 25M332 2355l3 19l5 27l7 31l11 36l15 38l21 42v-286l3 16l5 20l7 24l11 28l15 29l21 33v-527l3 11l5 16l7 18l10 21l15 22l22 25v-137l3 9l6 14l10 16l16 18l27 21l39 25l40 23l44 25v-126l4 9l6 12l10 15l16 16l26 19l40 24l40 24l44 26v-152l4 8l6 11l10 13l15 15l27 18l40 23l40 23l44 25v-141l3 8l7 11l9 13l16 15l27 19l39 24l40 23l44 26v-146l4 8l6 12l10 13l16 14l26 18l40 24l40 22l44 26v-141l4 8l6 10l10 13l16 14l26 17l40 22l40 21l44 24v-145l3 8l7 11l9 13l16 15l27 18l40 23l39 23l45 25M332 2358l3 19l5 27l7 32l11 37l15 39l21 43v-290l3 16l5 20l7 25l11 29l15 30l21 34v-532l3 12l5 15l7 18l10 20l15 21l22 23v-132l3 9l6 13l10 16l16 18l27 21l39 23l40 23l44 24v-122l4 9l6 12l10 14l16 16l26 18l40 23l40 23l44 25v-148l4 8l6 11l10 13l15 15l27 17l40 22l40 22l44 24v-136l3 8l7 11l9 13l16 15l27 17l39 24l40 22l44 25v-142l4 8l6 11l10 13l16 15l26 17l40 23l40 22l44 25v-138l4 8l6 10l10 13l16 14l26 16l40 22l40 21l44 23v-143l3 8l7 11l9 13l16 15l27 17l40 23l39 23l45 24M332 2357l3 20l5 27l7 33l11 37l15 40l21 45v-294l3 15l5 21l7 26l11 29l15 32l21 35v-536l3 12l5 16l7 19l10 22l15 23l22 27v-143l3 10l6 13l10 17l16 19l27 22l39 25l40 25l44 26v-131l4 8l6 13l10 15l16 16l26 20l40 26l40 25l44 27v-158l4 8l6 12l10 13l15 15l27 19l40 24l40 24l44 27v-147l3 8l7 12l9 14l16 15l27 19l39 25l40 25l44 27v-151l4 8l6 12l10 13l16 15l26 19l40 25l40 24l44 26v-146l4 8l6 11l10 12l16 15l26 18l40 23l40 23l44 25v-152l3 9l7 11l9 13l16 16l27 19l40 24l39 24l45 27M332 2358l3 20l5 26l7 32l11 36l15 39l21 42v-287l3 15l5 21l7 24l11 28l15 30l21 33v-529l3 13l5 16l7 21l10 23l15 26l22 30v-152l3 9l6 14l10 17l16 20l27 23l39 28l40 26l44 29v-141l4 9l6 13l10 15l16 18l26 21l40 28l40 27l44 30v-169l4 9l6 11l10 14l15 17l27 20l40 26l40 27l44 29v-157l3 8l7 12l9 14l16 16l27 20l39 27l40 26l44 29v-159l4 9l6 11l10 14l16 16l26 19l40 26l40 25l44 28v-152l4 8l6 11l10 13l16 15l26 19l40 24l40 24l44 26v-156l3 8l7 12l9 13l16 16l27 19l40 26l39 25l45 27M332 2350l3 20l5 27l7 32l11 37l15 39l21 43v-290l3 15l5 21l7 25l11 28l15 31l21 34v-530l3 11l5 15l7 17l10 19l15 19l22 21v-126l3 9l6 14l10 15l16 18l27 19l39 23l40 21l44 22v-116l4 9l6 12l10 14l16 15l26 17l40 22l40 21l44 23v-140l4 8l6 11l10 12l15 14l27 16l40 21l40 20l44 22v-129l3 8l7 11l9 13l16 15l27 17l39 21l40 22l44 23v-136l4 8l6 11l10 13l16 14l26 17l40 22l40 21l44 23v-133l4 8l6 10l10 12l16 14l26 16l40 21l40 20l44 22v-139l3 8l7 11l9 13l16 14l27 17l40 22l39 22l45 24M332 2348l3 19l5 27l7 31l11 37l15 38l21 42v-287l3 16l5 20l7 24l11 29l15 29l21 33v-526l3 12l5 15l7 18l10 20l15 22l22 24v-135l3 10l6 13l10 16l16 18l27 21l39 24l40 23l44 25v-124l4 8l6 13l10 14l16 16l26 19l40 23l40 23l44 26v-150l4 8l6 11l10 13l15 15l27 17l40 23l40 22l44 25v-138l3 8l7 11l9 13l16 15l27 18l39 23l40 23l44 25v-142l4 7l6 12l10 13l16 14l26 18l40 23l40 22l44 25v-138l4 7l6 11l10 12l16 14l26 17l40 22l40 21l44 23v-144l3 8l7 12l9 13l16 14l27 18l40 23l39 22l45 25M332 2341l3 19l5 27l7 31l11 36l15 38l21 42v-286l3 15l5 21l7 24l11 28l15 30l21 32v-523l3 12l5 16l7 19l10 21l15 24l22 26v-142l3 10l6 14l10 16l16 19l27 22l39 25l40 24l44 26v-130l4 8l6 13l10 15l16 16l26 20l40 25l40 25l44 27v-157l4 8l6 12l10 13l15 16l27 18l40 24l40 24l44 26v-145l3 8l7 12l9 13l16 16l27 18l39 25l40 24l44 26v-148l4 8l6 12l10 13l16 15l26 18l40 24l40 24l44 25v-143l4 8l6 11l10 13l16 14l26 17l40 23l40 22l44 24v-148l3 8l7 12l9 13l16 15l27 19l40 23l39 24l45 25M332 2343l3 20l5 26l7 32l11 36l15 38l21 41v-285l3 15l5 20l7 25l11 28l15 29l21 32v-523l3 11l5 14l7 16l10 17l15 17l22 17v-115l3 9l6 13l10 15l16 17l27 18l39 20l40 18l44 21v-106l4 8l6 12l10 13l16 15l26 15l40 20l40 18l44 20v-128l4 7l6 11l10 12l15 13l27 14l40 19l40 17l44 20v-118l3 8l7 11l9 12l16 14l27 16l39 19l40 19l44 22v-126l4 7l6 11l10 12l16 14l26 15l40 20l40 19l44 22v-124l4 7l6 11l10 11l16 13l26 15l40 19l40 18l44 21v-131l3 8l7 11l9 12l16 14l27 16l40 20l39 20l45 22M332 2337l3 20l5 27l7 32l11 37l15 40l21 44v-292l3 15l5 21l7 25l11 29l15 32l21 34v-528l3 12l5 18l7 21l10 24l15 28l22 32v-159l3 10l6 14l10 17l16 21l27 24l39 29l40 27l44 30v-147l4 9l6 14l10 15l16 19l26 22l40 29l40 28l44 32v-175l4 8l6 13l10 14l15 17l27 21l40 28l40 27l44 30v-162l3 8l7 12l9 15l16 16l27 21l39 28l40 28l44 30v-164l4 8l6 12l10 14l16 17l26 20l40 27l40 26l44 30v-157l4 7l6 12l10 13l16 16l26 19l40 25l40 25l44 28v-162l3 9l7 12l9 14l16 16l27 20l40 27l39 26l45 28M332 2338l3 20l5 27l7 32l11 38l15 41l21 45v-295l3 15l5 21l7 26l11 29l15 32l21 36v-531l3 12l5 16l7 19l10 21l15 23l22 26v-141l3 10l6 13l10 17l16 19l27 22l39 25l40 24l44 26v-131l4 9l6 13l10 15l16 16l26 20l40 25l40 24l44 27v-156l4 8l6 12l10 13l15 16l27 18l40 24l40 23l44 26v-144l3 8l7 12l9 14l16 15l27 19l39 25l40 24l44 26v-148l4 8l6 11l10 14l16 15l26 19l40 24l40 23l44 27v-145l4 8l6 11l10 13l16 14l26 18l40 23l40 22l44 25v-150l3 8l7 12l9 14l16 15l27 19l40 24l39 24l45 26M332 2334l3 20l5 27l7 32l11 36l15 39l21 44v-290l3 15l5 21l7 25l11 28l15 31l21 34v-524l3 11l5 15l7 17l10 19l15 20l22 20v-126l3 9l6 14l10 16l16 17l27 20l39 22l40 21l44 23v-117l4 9l6 12l10 14l16 15l26 18l40 21l40 21l44 23v-140l4 8l6 11l10 13l15 14l27 16l40 20l40 20l44 23v-129l3 8l7 11l9 13l16 15l27 17l39 22l40 21l44 24v-136l4 8l6 11l10 13l16 14l26 17l40 22l40 21l44 23v-133l4 8l6 11l10 12l16 14l26 16l40 20l40 21l44 22v-139l3 8l7 11l9 13l16 15l27 17l40 22l39 21l45 24M332 2325l3 20l5 26l7 32l11 36l15 38l21 42v-286l3 15l5 20l7 25l11 28l15 30l21 32v-518l3 13l5 16l7 19l10 23l15 23l22 27v-144l3 9l6 14l10 17l16 20l27 22l39 25l40 25l44 26v-133l4 9l6 13l10 15l16 17l26 20l40 26l40 24l44 28v-159l4 8l6 12l10 14l15 15l27 19l40 24l40 24l44 27v-147l3 9l7 11l9 14l16 16l27 19l39 25l40 24l44 27v-150l4 8l6 12l10 14l16 15l26 19l40 24l40 24l44 26v-145l4 8l6 11l10 13l16 15l26 17l40 23l40 23l44 24v-149l3 8l7 12l9 13l16 16l27 18l40 24l39 24l45 26M332 2323l3 20l5 27l7 32l11 37l15 39l21 43v-290l3 15l5 21l7 25l11 29l15 30l21 34v-521l3 13l5 16l7 20l10 23l15 25l22 29v-150l3 10l6 14l10 17l16 20l27 23l39 27l40 25l44 27v-137l4 9l6 13l10 15l16 18l26 20l40 27l40 26l44 29v-164l4 8l6 12l10 14l15 16l27 19l40 26l40 25l44 27v-151l3 8l7 12l9 14l16 17l27 19l39 26l40 25l44 28v-154l4 8l6 12l10 14l16 16l26 19l40 25l40 25l44 27v-149l4 8l6 11l10 13l16 15l26 18l40 24l40 23l44 26v-154l3 9l7 12l9 14l16 15l27 19l40 25l39 25l45 27M332 2326l3 20l5 26l7 32l11 36l15 39l21 42v-287l3 15l5 21l7 24l11 28l15 30l21 33v-518l3 12l5 16l7 19l10 21l15 23l22 25v-140l3 10l6 14l10 16l16 19l27 22l39 25l40 23l44 25v-129l4 9l6 13l10 15l16 16l26 20l40 24l40 24l44 27v-155l4 9l6 11l10 14l15 15l27 18l40 23l40 23l44 26v-142l3 8l7 12l9 13l16 16l27 18l39 24l40 24l44 26v-146l4 8l6 11l10 14l16 15l26 18l40 24l40 23l44 25v-141l4 7l6 12l10 12l16 15l26 17l40 22l40 22l44 24v-147l3 9l7 11l9 14l16 15l27 18l40 24l39 23l45 25M332 2325l3 19l5 27l7 32l11 37l15 39l21 43v-290l3 16l5 20l7 25l11 29l15 30l21 34v-520l3 12l5 17l7 21l10 23l15 26l22 30v-153l3 10l6 14l10 17l16 20l27 24l39 27l40 26l44 28v-141l4 9l6 14l10 15l16 18l26 21l40 28l40 26l44 30v-168l4 9l6 12l10 14l15 16l27 20l40 26l40 26l44 28v-154l3 8l7 12l9 14l16 17l27 20l39 26l40 26l44 29v-157l4 8l6 12l10 14l16 16l26 20l40 25l40 25l44 28v-151l4 8l6 11l10 13l16 16l26 18l40 24l40 24l44 26v-156l3 9l7 12l9 14l16 16l27 19l40 26l39 24l45 28M332 2324l3 20l5 27l7 31l11 37l15 39l21 42v-288l3 15l5 21l7 24l11 29l15 30l21 33v-519l3 11l5 15l7 17l10 18l15 18l22 19v-121l3 9l6 13l10 16l16 18l27 19l39 21l40 19l44 22v-112l4 8l6 13l10 13l16 15l26 17l40 20l40 20l44 21v-134l4 8l6 11l10 12l15 14l27 15l40 19l40 19l44 21v-123l3 8l7 12l9 12l16 15l27 16l39 21l40 20l44 22v-131l4 8l6 11l10 13l16 14l26 17l40 20l40 20l44 23v-129l4 8l6 11l10 12l16 13l26 16l40 20l40 19l44 21v-135l3 8l7 12l9 12l16 15l27 16l40 22l39 20l45 23M332 2323l3 20l5 27l7 31l11 37l15 39l21 43v-289l3 15l5 21l7 24l11 29l15 30l21 34v-520l3 12l5 16l7 19l10 21l15 22l22 24v-137l3 9l6 14l10 17l16 19l27 21l39 24l40 23l44 25v-127l4 9l6 13l10 14l16 17l26 19l40 24l40 23l44 26v-152l4 8l6 12l10 13l15 15l27 18l40 23l40 22l44 25v-139l3 8l7 12l9 13l16 15l27 19l39 23l40 23l44 26v-144l4 8l6 11l10 14l16 15l26 18l40 23l40 23l44 25v-140l4 8l6 11l10 12l16 15l26 17l40 22l40 21l44 24v-146l3 9l7 11l9 14l16 15l27 18l40 23l39 23l45 25M332 2326l3 19l5 27l7 32l11 37l15 39l21 43v-290l3 16l5 20l7 25l11 29l15 30l21 34v-520l3 12l5 17l7 19l10 23l15 24l22 27v-146l3 10l6 14l10 17l16 19l27 23l39 26l40 24l44 27v-135l4 9l6 13l10 16l16 17l26 20l40 26l40 25l44 28v-161l4 9l6 12l10 13l15 16l27 19l40 25l40 24l44 26v-147l3 8l7 12l9 14l16 16l27 19l39 25l40 25l44 27v-151l4 8l6 12l10 14l16 15l26 19l40 25l40 24l44 26v-146l4 8l6 11l10 13l16 15l26 18l40 23l40 23l44 25v-151l3 8l7 12l9 14l16 15l27 19l40 25l39 23l45 27M332 2318l3 19l5 27l7 31l11 37l15 38l21 42v-286l3 15l5 20l7 25l11 28l15 29l21 33v-515l3 12l5 17l7 20l10 23l15 25l22 29v-150l3 10l6 14l10 17l16 20l27 23l39 26l40 26l44 27v-138l4 9l6 14l10 15l16 17l26 21l40 27l40 26l44 29v-165l4 9l6 12l10 14l15 16l27 19l40 26l40 25l44 27v-151l3 8l7 12l9 14l16 17l27 19l39 26l40 25l44 28v-154l4 8l6 12l10 14l16 16l26 19l40 25l40 24l44 27v-148l4 8l6 11l10 14l16 15l26 18l40 23l40 23l44 26v-153l3 8l7 12l9 14l16 16l27 19l40 25l39 24l45 27M332 2320l3 19l5 27l7 31l11 37l15 38l21 42v-286l3 15l5 20l7 25l11 28l15 30l21 32v-515l3 12l5 16l7 19l10 21l15 23l22 25v-140l3 10l6 14l10 16l16 19l27 22l39 25l40 23l44 25v-129l4 9l6 13l10 15l16 17l26 19l40 24l40 24l44 26v-154l4 9l6 11l10 14l15 15l27 18l40 23l40 23l44 25v-141l3 8l7 12l9 14l16 15l27 19l39 24l40 23l44 26v-146l4 8l6 12l10 14l16 15l26 18l40 23l40 23l44 26v-141l4 7l6 11l10 13l16 15l26 17l40 22l40 22l44 24v-147l3 9l7 11l9 14l16 15l27 19l40 23l39 23l45 25M332 2314l3 19l5 26l7 31l11 36l15 38l21 41v-284l3 15l5 21l7 24l11 27l15 29l21 32v-511l3 12l5 16l7 19l10 20l15 22l22 24v-137l3 10l6 14l10 17l16 19l27 20l39 24l40 23l44 24v-125l4 9l6 13l10 14l16 17l26 18l40 24l40 23l44 25v-150l4 8l6 12l10 13l15 15l27 18l40 22l40 22l44 24v-137l3 8l7 12l9 13l16 16l27 18l39 23l40 22l44 26v-143l4 8l6 12l10 13l16 15l26 18l40 23l40 22l44 24v-137l4 7l6 12l10 12l16 14l26 17l40 22l40 21l44 23v-143l3 8l7 12l9 13l16 15l27 18l40 23l39 22l45 24M332 2314l3 20l5 26l7 32l11 36l15 39l21 42v-287l3 15l5 21l7 24l11 28l15 30l21 33v-514l3 12l5 16l7 18l10 20l15 20l22 22v-131l3 9l6 14l10 17l16 18l27 20l39 23l40 22l44 23v-121l4 9l6 13l10 14l16 16l26 18l40 22l40 22l44 24v-145l4 8l6 12l10 13l15 14l27 17l40 22l40 20l44 23v-132l3 8l7 12l9 13l16 15l27 18l39 22l40 22l44 24v-138l4 8l6 11l10 14l16 14l26 18l40 22l40 21l44 24v-135l4 8l6 11l10 13l16 14l26 16l40 21l40 20l44 23v-141l3 9l7 11l9 14l16 14l27 18l40 22l39 22l45 24M332 2309l3 19l5 27l7 31l11 36l15 38l21 41v-284l3 15l5 20l7 24l11 28l15 29l21 32v-510l3 12l5 16l7 19l10 21l15 21l22 24v-136l3 9l6 14l10 17l16 19l27 21l39 24l40 22l44 24v-125l4 9l6 13l10 15l16 16l26 18l40 24l40 22l44 25v-149l4 9l6 11l10 14l15 14l27 18l40 22l40 22l44 24v-137l3 9l7 11l9 14l16 15l27 18l39 23l40 23l44 25v-142l4 8l6 12l10 13l16 15l26 18l40 22l40 22l44 25v-138l4 8l6 11l10 13l16 14l26 17l40 22l40 20l44 24v-143l3 8l7 12l9 13l16 15l27 18l40 23l39 22l45 24M332 2308l3 20l5 27l7 31l11 36l15 39l21 42v-287l3 15l5 21l7 24l11 28l15 30l21 33v-512l3 12l5 16l7 19l10 21l15 22l22 24v-138l3 10l6 14l10 17l16 19l27 21l39 24l40 23l44 24v-127l4 10l6 13l10 14l16 17l26 19l40 23l40 23l44 26v-151l4 8l6 12l10 13l15 15l27 18l40 23l40 22l44 24v-138l3 8l7 12l9 14l16 15l27 18l39 24l40 23l44 25v-143l4 8l6 12l10 13l16 15l26 18l40 23l40 22l44 25v-139l4 8l6 11l10 13l16 14l26 17l40 22l40 22l44 23v-145l3 9l7 12l9 13l16 15l27 18l40 24l39 22l45 25M332 2310l3 19l5 27l7 31l11 36l15 38l21 42v-285l3 15l5 20l7 24l11 28l15 30l21 32v-511l3 13l5 17l7 20l10 22l15 24l22 28v-147l3 10l6 14l10 17l16 20l27 22l39 26l40 25l44 26v-135l4 9l6 13l10 16l16 17l26 20l40 26l40 25l44 28v-161l4 9l6 12l10 14l15 16l27 19l40 24l40 24l44 27v-148l3 9l7 12l9 14l16 16l27 19l39 25l40 25l44 27v-151l4 8l6 12l10 14l16 16l26 19l40 24l40 24l44 26v-145l4 8l6 11l10 13l16 15l26 18l40 23l40 22l44 25v-150l3 8l7 12l9 14l16 16l27 19l40 24l39 23l45 27M332 2302l3 20l5 27l7 31l11 37l15 38l21 42v-287l3 15l5 21l7 24l11 29l15 29l21 33v-511l3 13l5 17l7 19l10 23l15 24l22 27v-146l3 10l6 14l10 17l16 20l27 22l39 26l40 24l44 27v-135l4 9l6 14l10 15l16 17l26 20l40 26l40 25l44 27v-160l4 9l6 12l10 14l15 16l27 18l40 25l40 24l44 26v-147l3 9l7 12l9 14l16 16l27 19l39 25l40 25l44 27v-151l4 9l6 12l10 13l16 16l26 19l40 24l40 24l44 26v-145l4 8l6 11l10 13l16 15l26 18l40 23l40 23l44 25v-151l3 9l7 12l9 14l16 15l27 19l40 24l39 24l45 26M332 2299l3 19l5 27l7 32l11 36l15 39l21 42v-287l3 15l5 20l7 25l11 28l15 30l21 33v-509l3 13l5 16l7 20l10 22l15 23l22 26v-144l3 10l6 15l10 17l16 19l27 22l39 25l40 24l44 26v-132l4 9l6 13l10 15l16 17l26 20l40 25l40 24l44 26v-156l4 9l6 12l10 14l15 15l27 18l40 24l40 23l44 26v-143l3 8l7 12l9 14l16 16l27 19l39 24l40 24l44 26v-147l4 8l6 12l10 14l16 15l26 19l40 24l40 23l44 26v-143l4 8l6 11l10 13l16 15l26 17l40 23l40 22l44 24v-148l3 9l7 12l9 14l16 15l27 19l40 24l39 23l45 26M332 2294l3 20l5 26l7 31l11 36l15 38l21 41v-284l3 15l5 20l7 24l11 28l15 29l21 32v-505l3 13l5 17l7 20l10 22l15 24l22 26v-145l3 10l6 14l10 18l16 19l27 22l39 26l40 24l44 26v-134l4 9l6 14l10 15l16 17l26 20l40 26l40 24l44 27v-158l4 8l6 12l10 14l15 16l27 19l40 24l40 23l44 26v-145l3 9l7 12l9 14l16 16l27 19l39 25l40 23l44 27v-149l4 9l6 12l10 14l16 15l26 19l40 24l40 23l44 26v-144l4 8l6 12l10 13l16 15l26 17l40 23l40 22l44 25v-149l3 9l7 12l9 14l16 15l27 19l40 24l39 23l45 26M332 2295l3 20l5 26l7 31l11 36l15 38l21 42v-285l3 15l5 20l7 25l11 27l15 30l21 32v-506l3 12l5 15l7 17l10 19l15 19l22 19v-124l3 9l6 14l10 17l16 18l27 19l39 21l40 20l44 21v-114l4 9l6 13l10 14l16 15l26 17l40 20l40 20l44 21v-135l4 8l6 11l10 13l15 14l27 15l40 20l40 18l44 21v-123l3 8l7 12l9 13l16 15l27 16l39 21l40 20l44 22v-131l4 8l6 12l10 13l16 14l26 17l40 20l40 20l44 23v-129l4 8l6 11l10 13l16 13l26 16l40 20l40 19l44 21v-135l3 8l7 12l9 13l16 15l27 17l40 21l39 20l45 23M332 2294l3 20l5 26l7 32l11 36l15 38l21 41v-285l3 15l5 21l7 24l11 28l15 29l21 32v-504l3 12l5 17l7 19l10 22l15 23l22 25v-142l3 10l6 15l10 17l16 19l27 22l39 24l40 23l44 26v-131l4 10l6 13l10 15l16 17l26 19l40 25l40 23l44 26v-154l4 9l6 12l10 13l15 16l27 18l40 23l40 23l44 25v-141l3 8l7 12l9 14l16 16l27 19l39 24l40 23l44 26v-146l4 8l6 12l10 14l16 16l26 18l40 23l40 23l44 25v-141l4 8l6 12l10 13l16 14l26 18l40 22l40 21l44 24v-146l3 9l7 12l9 14l16 15l27 18l40 24l39 22l45 26M332 2294l3 20l5 26l7 32l11 36l15 39l21 42v-287l3 15l5 20l7 25l11 28l15 30l21 33v-507l3 12l5 17l7 18l10 21l15 22l22 23v-136l3 10l6 14l10 17l16 19l27 21l39 23l40 22l44 25v-126l4 9l6 13l10 15l16 16l26 19l40 23l40 22l44 25v-148l4 8l6 12l10 13l15 15l27 18l40 22l40 21l44 24v-136l3 9l7 12l9 14l16 15l27 18l39 23l40 22l44 25v-142l4 9l6 12l10 13l16 15l26 18l40 23l40 22l44 24v-137l4 8l6 11l10 13l16 14l26 17l40 22l40 21l44 23v-143l3 8l7 12l9 14l16 15l27 18l40 23l39 22l45 25M332 2292l3 20l5 27l7 31l11 37l15 39l21 43v-289l3 15l5 21l7 24l11 29l15 30l21 34v-508l3 13l5 16l7 20l10 22l15 24l22 26v-145l3 10l6 15l10 17l16 20l27 22l39 25l40 24l44 26v-134l4 10l6 13l10 16l16 17l26 19l40 25l40 25l44 26v-157l4 9l6 12l10 14l15 15l27 19l40 24l40 23l44 26v-144l3 8l7 13l9 14l16 16l27 19l39 24l40 24l44 27v-149l4 9l6 12l10 14l16 15l26 19l40 24l40 23l44 26v-144l4 9l6 11l10 13l16 15l26 18l40 23l40 22l44 25v-150l3 9l7 12l9 14l16 16l27 19l40 24l39 23l45 26M332 2290l3 19l5 27l7 32l11 36l15 38l21 43v-288l3 16l5 20l7 25l11 28l15 30l21 33v-505l3 12l5 16l7 18l10 20l15 21l22 21v-132l3 10l6 14l10 17l16 19l27 20l39 23l40 21l44 23v-122l4 9l6 13l10 15l16 16l26 18l40 22l40 22l44 23v-144l4 8l6 12l10 13l15 15l27 17l40 21l40 20l44 23v-131l3 8l7 12l9 14l16 15l27 17l39 23l40 21l44 24v-138l4 8l6 12l10 14l16 15l26 17l40 22l40 21l44 24v-135l4 8l6 12l10 13l16 14l26 16l40 21l40 21l44 22v-141l3 9l7 12l9 14l16 15l27 17l40 23l39 21l45 24M332 2286l3 20l5 26l7 32l11 36l15 38l21 41v-285l3 15l5 20l7 25l11 28l15 29l21 32v-502l3 13l5 16l7 19l10 20l15 21l22 23v-135l3 10l6 14l10 17l16 19l27 21l39 23l40 22l44 24v-125l4 9l6 13l10 15l16 17l26 18l40 23l40 22l44 24v-147l4 8l6 12l10 14l15 15l27 17l40 21l40 21l44 24v-134l3 8l7 12l9 14l16 15l27 18l39 23l40 22l44 24v-140l4 9l6 12l10 13l16 15l26 18l40 22l40 22l44 24v-136l4 8l6 11l10 13l16 15l26 16l40 21l40 21l44 23v-142l3 9l7 12l9 13l16 16l27 17l40 23l39 22l45 24M332 2285l3 20l5 26l7 32l11 36l15 39l21 42v-287l3 15l5 20l7 25l11 28l15 30l21 33v-503l3 12l5 17l7 20l10 22l15 24l22 26v-145l3 10l6 15l10 17l16 20l27 22l39 25l40 24l44 26v-134l4 10l6 13l10 16l16 17l26 20l40 24l40 24l44 27v-157l4 9l6 12l10 14l15 16l27 18l40 24l40 23l44 25v-143l3 9l7 12l9 15l16 15l27 19l39 25l40 23l44 27v-148l4 8l6 13l10 14l16 15l26 19l40 24l40 23l44 26v-144l4 9l6 11l10 14l16 14l26 18l40 23l40 22l44 24v-148l3 8l7 13l9 14l16 15l27 19l40 24l39 23l45 26M332 2287l3 20l5 26l7 31l11 36l15 38l21 41v-284l3 15l5 20l7 24l11 28l15 29l21 32v-500l3 11l5 16l7 17l10 19l15 19l22 19v-125l3 10l6 14l10 17l16 18l27 19l39 21l40 20l44 21v-115l4 9l6 13l10 15l16 15l26 17l40 20l40 20l44 22v-137l4 9l6 11l10 13l15 14l27 16l40 19l40 19l44 21v-124l3 9l7 11l9 14l16 14l27 17l39 21l40 20l44 22v-131l4 8l6 12l10 13l16 14l26 17l40 21l40 20l44 22v-129l4 8l6 11l10 13l16 14l26 16l40 19l40 19l44 22v-135l3 8l7 12l9 13l16 15l27 17l40 21l39 20l45 23M332 2285l3 19l5 27l7 31l11 37l15 39l21 42v-288l3 15l5 21l7 25l11 28l15 30l21 33v-503l3 12l5 16l7 18l10 21l15 20l22 23v-134l3 10l6 14l10 17l16 19l27 21l39 23l40 21l44 23v-123l4 9l6 14l10 14l16 17l26 18l40 22l40 21l44 24v-145l4 9l6 11l10 14l15 14l27 17l40 22l40 20l44 23v-132l3 9l7 12l9 13l16 16l27 17l39 23l40 21l44 24v-138l4 8l6 12l10 14l16 15l26 17l40 22l40 22l44 24v-136l4 8l6 12l10 13l16 14l26 17l40 21l40 20l44 23v-142l3 9l7 12l9 14l16 15l27 18l40 22l39 22l45 24M332 2287l3 20l5 26l7 31l11 36l15 38l21 42v-285l3 15l5 20l7 25l11 27l15 30l21 32v-501l3 12l5 16l7 19l10 21l15 21l22 23v-136l3 10l6 15l10 17l16 19l27 20l39 24l40 21l44 24v-125l4 10l6 13l10 15l16 16l26 19l40 22l40 22l44 25v-148l4 9l6 12l10 13l15 15l27 17l40 22l40 21l44 23v-134l3 9l7 12l9 14l16 15l27 18l39 23l40 22l44 24v-140l4 8l6 12l10 14l16 15l26 18l40 22l40 22l44 24v-136l4 8l6 11l10 13l16 14l26 17l40 21l40 21l44 23v-142l3 8l7 13l9 13l16 16l27 17l40 23l39 22l45 24M332 2283l3 19l5 27l7 31l11 35l15 37l21 41v-282l3 15l5 20l7 24l11 27l15 29l21 31v-498l3 13l5 17l7 19l10 21l15 23l22 24v-140l3 10l6 14l10 18l16 19l27 21l39 25l40 22l44 25v-129l4 9l6 14l10 15l16 17l26 19l40 24l40 23l44 26v-153l4 9l6 12l10 13l15 16l27 18l40 22l40 22l44 25v-139l3 9l7 12l9 14l16 15l27 19l39 23l40 23l44 25v-144l4 9l6 12l10 14l16 15l26 18l40 23l40 23l44 24v-139l4 8l6 12l10 13l16 14l26 17l40 22l40 21l44 24v-145l3 9l7 12l9 14l16 16l27 18l40 22l39 23l45 25M332 2281l3 19l5 27l7 32l11 36l15 39l21 43v-289l3 16l5 20l7 25l11 28l15 31l21 33v-503l3 13l5 16l7 18l10 21l15 21l22 22v-134l3 10l6 14l10 17l16 19l27 21l39 23l40 22l44 23v-124l4 9l6 13l10 15l16 17l26 18l40 22l40 22l44 24v-146l4 8l6 12l10 14l15 15l27 17l40 21l40 21l44 23v-133l3 9l7 12l9 14l16 15l27 18l39 22l40 22l44 24v-139l4 8l6 12l10 14l16 15l26 18l40 22l40 22l44 24v-136l4 8l6 11l10 13l16 15l26 16l40 22l40 20l44 23v-142l3 9l7 12l9 14l16 15l27 18l40 22l39 22l45 25M332 2280l3 20l5 27l7 31l11 37l15 38l21 43v-288l3 15l5 21l7 24l11 29l15 30l21 33v-502l3 13l5 17l7 20l10 22l15 23l22 25v-143l3 10l6 15l10 17l16 20l27 22l39 25l40 23l44 25v-132l4 9l6 14l10 15l16 17l26 20l40 25l40 23l44 26v-155l4 9l6 12l10 14l15 15l27 19l40 23l40 23l44 25v-142l3 9l7 12l9 14l16 16l27 19l39 24l40 24l44 26v-147l4 8l6 13l10 14l16 15l26 19l40 23l40 24l44 25v-142l4 8l6 11l10 14l16 15l26 17l40 23l40 22l44 24v-148l3 9l7 12l9 14l16 16l27 18l40 24l39 23l45 26M332 2280l3 19l5 26l7 32l11 35l15 38l21 42v-285l3 15l5 21l7 24l11 27l15 30l21 32v-498l3 12l5 16l7 18l10 20l15 20l22 21v-131l3 10l6 14l10 17l16 19l27 20l39 22l40 21l44 22v-120l4 9l6 13l10 15l16 16l26 18l40 21l40 21l44 23v-142l4 9l6 11l10 14l15 14l27 16l40 21l40 20l44 22v-129l3 9l7 12l9 13l16 15l27 18l39 21l40 21l44 24v-136l4 8l6 12l10 14l16 15l26 17l40 21l40 21l44 23v-132l4 8l6 11l10 13l16 14l26 16l40 21l40 20l44 22v-139l3 9l7 12l9 14l16 15l27 17l40 22l39 21l45 23M332 2278l3 19l5 27l7 31l11 36l15 39l21 41v-285l3 15l5 20l7 24l11 28l15 30l21 32v-499l3 13l5 16l7 18l10 21l15 20l22 22v-133l3 10l6 14l10 17l16 19l27 20l39 23l40 21l44 23v-122l4 9l6 13l10 15l16 16l26 18l40 22l40 22l44 23v-144l4 8l6 12l10 14l15 14l27 17l40 21l40 20l44 23v-131l3 9l7 12l9 14l16 15l27 17l39 22l40 22l44 24v-138l4 8l6 12l10 14l16 15l26 17l40 22l40 21l44 24v-134l4 8l6 11l10 13l16 15l26 16l40 21l40 20l44 23v-141l3 9l7 12l9 14l16 15l27 17l40 23l39 21l45 24M332 2280l3 19l5 27l7 31l11 36l15 38l21 42v-285l3 15l5 20l7 24l11 28l15 30l21 32v-499l3 13l5 16l7 19l10 21l15 21l22 24v-138l3 11l6 14l10 17l16 20l27 21l39 23l40 22l44 24v-126l4 9l6 13l10 16l16 16l26 19l40 23l40 22l44 24v-148l4 8l6 12l10 14l15 15l27 17l40 22l40 21l44 24v-135l3 9l7 12l9 14l16 15l27 18l39 23l40 22l44 25v-141l4 8l6 12l10 14l16 15l26 18l40 23l40 21l44 25v-137l4 8l6 11l10 13l16 15l26 17l40 21l40 21l44 23v-143l3 9l7 12l9 14l16 15l27 18l40 23l39 22l45 24M332 2279l3 20l5 26l7 32l11 36l15 38l21 42v-286l3 15l5 21l7 24l11 28l15 29l21 33v-499l3 12l5 17l7 19l10 22l15 22l22 23v-139l3 10l6 15l10 17l16 20l27 21l39 24l40 22l44 25v-129l4 10l6 13l10 16l16 16l26 19l40 24l40 22l44 25v-150l4 8l6 12l10 14l15 15l27 18l40 22l40 22l44 24v-137l3 8l7 13l9 14l16 15l27 19l39 23l40 22l44 25v-142l4 8l6 12l10 14l16 16l26 17l40 23l40 23l44 24v-138l4 8l6 11l10 13l16 15l26 17l40 22l40 21l44 23v-144l3 9l7 12l9 14l16 15l27 18l40 23l39 23l45 25M332 2276l3 20l5 26l7 31l11 36l15 38l21 41v-284l3 15l5 20l7 24l11 28l15 29l21 32v-496l3 13l5 16l7 20l10 22l15 22l22 25v-142l3 10l6 15l10 18l16 19l27 22l39 24l40 23l44 25v-131l4 10l6 14l10 15l16 17l26 19l40 24l40 23l44 26v-153l4 8l6 12l10 14l15 16l27 18l40 22l40 23l44 24v-139l3 9l7 12l9 14l16 16l27 18l39 24l40 23l44 25v-144l4 8l6 13l10 14l16 15l26 18l40 23l40 23l44 25v-140l4 8l6 12l10 13l16 15l26 17l40 22l40 21l44 24v-146l3 9l7 12l9 14l16 16l27 18l40 23l39 23l45 25M332 2277l3 20l5 26l7 32l11 36l15 37l21 42v-285l3 15l5 21l7 24l11 28l15 29l21 32v-497l3 13l5 16l7 20l10 22l15 23l22 24v-142l3 10l6 15l10 18l16 19l27 22l39 24l40 23l44 25v-131l4 10l6 14l10 15l16 17l26 19l40 24l40 23l44 26v-153l4 8l6 12l10 14l15 16l27 18l40 23l40 22l44 25v-140l3 9l7 12l9 14l16 16l27 18l39 24l40 23l44 26v-145l4 8l6 13l10 14l16 15l26 18l40 24l40 22l44 25v-140l4 8l6 12l10 13l16 15l26 17l40 22l40 21l44 24v-146l3 9l7 12l9 15l16 15l27 18l40 24l39 22l45 25M332 2276l3 19l5 27l7 31l11 36l15 38l21 42v-286l3 15l5 21l7 24l11 28l15 30l21 32v-498l3 13l5 16l7 18l10 21l15 20l22 22v-133l3 10l6 14l10 17l16 19l27 21l39 22l40 21l44 23v-122l4 9l6 14l10 15l16 16l26 17l40 22l40 22l44 23v-144l4 9l6 12l10 13l15 15l27 16l40 21l40 20l44 23v-131l3 9l7 12l9 14l16 15l27 18l39 22l40 21l44 24v-138l4 9l6 12l10 14l16 15l26 17l40 22l40 21l44 23v-134l4 9l6 11l10 13l16 14l26 17l40 21l40 20l44 22v-140l3 9l7 12l9 14l16 15l27 17l40 22l39 22l45 24M332 2268l3 19l5 27l7 31l11 36l15 38l21 42v-286l3 15l5 21l7 24l11 28l15 29l21 33v-495l3 13l5 17l7 19l10 21l15 23l22 23v-140l3 11l6 14l10 18l16 20l27 21l39 24l40 22l44 25v-129l4 9l6 14l10 15l16 17l26 19l40 23l40 23l44 25v-151l4 9l6 12l10 14l15 15l27 18l40 22l40 22l44 24v-138l3 9l7 13l9 14l16 15l27 19l39 23l40 22l44 25v-143l4 9l6 12l10 14l16 16l26 18l40 23l40 22l44 24v-138l4 8l6 12l10 13l16 15l26 17l40 21l40 22l44 23v-145l3 9l7 13l9 14l16 15l27 18l40 23l39 23l45 24M332 2270l3 19l5 27l7 31l11 36l15 38l21 42v-286l3 15l5 21l7 24l11 28l15 30l21 32v-495l3 13l5 16l7 20l10 21l15 22l22 23v-139l3 10l6 15l10 18l16 19l27 21l39 24l40 22l44 25v-129l4 10l6 14l10 15l16 17l26 18l40 24l40 22l44 25v-150l4 8l6 13l10 14l15 15l27 17l40 22l40 22l44 24v-137l3 9l7 12l9 15l16 15l27 18l39 23l40 23l44 25v-143l4 9l6 12l10 14l16 16l26 18l40 22l40 22l44 25v-138l4 8l6 12l10 13l16 15l26 17l40 21l40 21l44 24v-145l3 9l7 13l9 14l16 15l27 18l40 23l39 23l45 24M332 2268l3 19l5 27l7 31l11 36l15 38l21 42v-285l3 15l5 20l7 24l11 28l15 29l21 33v-495l3 13l5 16l7 19l10 21l15 21l22 22v-135l3 10l6 15l10 17l16 19l27 21l39 23l40 21l44 23v-124l4 9l6 14l10 15l16 16l26 18l40 23l40 21l44 24v-146l4 9l6 12l10 14l15 14l27 17l40 22l40 20l44 23v-132l3 8l7 13l9 14l16 15l27 18l39 22l40 22l44 24v-139l4 9l6 12l10 13l16 16l26 17l40 22l40 22l44 23v-135l4 8l6 12l10 13l16 14l26 17l40 21l40 21l44 22v-141l3 9l7 12l9 14l16 15l27 18l40 22l39 22l45 24M332 2269l3 20l5 26l7 32l11 36l15 39l21 42v-287l3 15l5 21l7 24l11 28l15 30l21 33v-496l3 13l5 16l7 20l10 22l15 22l22 25v-142l3 10l6 15l10 18l16 20l27 21l39 25l40 22l44 25v-131l4 10l6 14l10 15l16 17l26 19l40 24l40 23l44 25v-152l4 8l6 13l10 14l15 15l27 18l40 23l40 22l44 24v-139l3 9l7 12l9 15l16 16l27 18l39 24l40 22l44 26v-145l4 9l6 12l10 14l16 16l26 18l40 23l40 23l44 25v-140l4 8l6 12l10 13l16 15l26 17l40 22l40 22l44 23v-146l3 9l7 13l9 14l16 16l27 18l40 23l39 23l45 25M332 2266l3 19l5 27l7 31l11 36l15 38l21 41v-284l3 15l5 20l7 24l11 28l15 29l21 32v-493l3 13l5 17l7 20l10 21l15 23l22 24v-141l3 10l6 15l10 18l16 19l27 22l39 24l40 22l44 25v-130l4 10l6 13l10 16l16 17l26 19l40 23l40 23l44 25v-152l4 9l6 12l10 14l15 16l27 17l40 23l40 22l44 24v-138l3 9l7 12l9 14l16 16l27 18l39 24l40 22l44 26v-144l4 9l6 12l10 14l16 16l26 18l40 23l40 22l44 25v-140l4 9l6 11l10 14l16 15l26 17l40 21l40 22l44 23v-145l3 9l7 13l9 14l16 15l27 18l40 24l39 22l45 25M332 2266l3 19l5 27l7 31l11 36l15 38l21 42v-285l3 15l5 20l7 24l11 28l15 29l21 33v-493l3 12l5 17l7 19l10 21l15 21l22 22v-136l3 10l6 15l10 17l16 20l27 20l39 24l40 21l44 24v-126l4 10l6 13l10 15l16 17l26 18l40 23l40 22l44 24v-148l4 9l6 12l10 14l15 15l27 17l40 22l40 20l44 23v-133l3 9l7 12l9 14l16 16l27 18l39 22l40 22l44 24v-140l4 9l6 12l10 14l16 15l26 18l40 22l40 22l44 24v-136l4 8l6 12l10 13l16 14l26 17l40 21l40 21l44 23v-142l3 8l7 13l9 14l16 15l27 18l40 22l39 22l45 24M332 2266l3 19l5 26l7 31l11 36l15 38l21 40v-283l3 15l5 20l7 24l11 28l15 29l21 31v-491l3 13l5 17l7 19l10 22l15 22l22 24v-140l3 10l6 15l10 17l16 20l27 21l39 24l40 23l44 24v-129l4 10l6 13l10 16l16 16l26 19l40 24l40 22l44 25v-151l4 9l6 12l10 14l15 15l27 18l40 22l40 22l44 24v-137l3 9l7 12l9 14l16 16l27 18l39 23l40 23l44 25v-143l4 9l6 12l10 14l16 16l26 17l40 23l40 22l44 25v-139l4 9l6 11l10 14l16 14l26 17l40 22l40 21l44 23v-144l3 9l7 13l9 14l16 15l27 18l40 23l39 22l45 25M332 2265l3 19l5 27l7 31l11 36l15 37l21 41v-283l3 15l5 20l7 24l11 28l15 29l21 31v-491l3 12l5 16l7 19l10 20l15 20l22 20v-131l3 10l6 15l10 17l16 19l27 20l39 22l40 21l44 22v-121l4 10l6 13l10 15l16 16l26 18l40 21l40 21l44 22v-141l4 8l6 12l10 14l15 14l27 17l40 20l40 20l44 21v-128l3 9l7 12l9 14l16 15l27 17l39 22l40 21l44 23v-135l4 8l6 12l10 14l16 15l26 17l40 21l40 21l44 23v-132l4 8l6 12l10 13l16 14l26 16l40 20l40 20l44 22v-138l3 8l7 13l9 14l16 15l27 17l40 22l39 21l45 23M332 2263l3 19l5 27l7 31l11 36l15 38l21 42v-286l3 15l5 21l7 24l11 28l15 30l21 32v-493l3 13l5 16l7 19l10 20l15 21l22 21v-133l3 10l6 14l10 18l16 19l27 20l39 23l40 21l44 23v-123l4 9l6 14l10 15l16 16l26 18l40 22l40 21l44 23v-144l4 9l6 12l10 13l15 15l27 17l40 21l40 20l44 22v-130l3 8l7 13l9 14l16 15l27 17l39 22l40 22l44 24v-138l4 9l6 12l10 14l16 15l26 17l40 22l40 21l44 23v-134l4 9l6 11l10 13l16 15l26 16l40 21l40 20l44 23v-141l3 9l7 13l9 14l16 15l27 17l40 22l39 22l45 24M332 2262l3 19l5 27l7 31l11 36l15 38l21 41v-284l3 15l5 20l7 24l11 28l15 29l21 32v-491l3 13l5 17l7 19l10 21l15 22l22 23v-138l3 10l6 15l10 17l16 20l27 21l39 24l40 22l44 24v-128l4 9l6 14l10 16l16 16l26 19l40 23l40 22l44 25v-150l4 9l6 12l10 14l15 15l27 18l40 22l40 21l44 23v-135l3 9l7 12l9 14l16 16l27 18l39 23l40 22l44 25v-142l4 9l6 12l10 14l16 16l26 18l40 22l40 22l44 24v-137l4 8l6 12l10 13l16 15l26 17l40 21l40 21l44 23v-143l3 9l7 12l9 14l16 16l27 18l40 22l39 22l45 25M332 2262l3 19l5 27l7 31l11 36l15 38l21 41v-285l3 16l5 20l7 24l11 28l15 29l21 32v-491l3 13l5 16l7 19l10 21l15 20l22 22v-135l3 11l6 14l10 18l16 19l27 21l39 23l40 21l44 23v-124l4 9l6 14l10 15l16 16l26 18l40 22l40 22l44 23v-145l4 9l6 12l10 14l15 14l27 17l40 21l40 21l44 22v-131l3 9l7 12l9 14l16 15l27 18l39 22l40 22l44 23v-138l4 9l6 12l10 14l16 15l26 18l40 22l40 21l44 23v-134l4 8l6 12l10 13l16 14l26 17l40 21l40 20l44 23v-141l3 8l7 13l9 14l16 15l27 18l40 22l39 22l45 24M332 2262l3 20l5 26l7 32l11 35l15 38l21 42v-285l3 15l5 21l7 24l11 27l15 30l21 32v-491l3 12l5 17l7 19l10 21l15 22l22 22v-137l3 10l6 15l10 18l16 19l27 21l39 24l40 21l44 24v-127l4 10l6 14l10 15l16 16l26 19l40 23l40 21l44 25v-148l4 8l6 13l10 13l15 16l27 17l40 21l40 21l44 23v-134l3 9l7 13l9 14l16 15l27 18l39 23l40 22l44 24v-140l4 9l6 12l10 14l16 15l26 18l40 22l40 22l44 24v-137l4 9l6 11l10 14l16 14l26 17l40 21l40 21l44 23v-143l3 9l7 13l9 14l16 15l27 18l40 23l39 21l45 25M332 2260l3 20l5 26l7 31l11 36l15 38l21 41v-284l3 15l5 20l7 24l11 28l15 29l21 32v-490l3 13l5 16l7 19l10 21l15 21l22 23v-136l3 10l6 15l10 17l16 20l27 20l39 23l40 22l44 23v-125l4 9l6 14l10 15l16 17l26 18l40 22l40 22l44 24v-147l4 9l6 12l10 14l15 15l27 17l40 21l40 21l44 23v-133l3 9l7 12l9 14l16 16l27 17l39 23l40 21l44 24v-139l4 9l6 12l10 14l16 16l26 17l40 22l40 22l44 23v-135l4 8l6 12l10 13l16 15l26 16l40 21l40 21l44 22v-141l3 9l7 12l9 14l16 16l27 17l40 23l39 21l45 24M332 2260l3 20l5 26l7 31l11 36l15 38l21 41v-284l3 15l5 20l7 24l11 28l15 29l21 32v-490l3 13l5 16l7 19l10 20l15 21l22 21v-133l3 10l6 15l10 17l16 19l27 20l39 23l40 21l44 22v-122l4 9l6 14l10 15l16 16l26 18l40 22l40 21l44 23v-144l4 9l6 12l10 14l15 14l27 17l40 21l40 20l44 22v-130l3 9l7 12l9 14l16 15l27 18l39 22l40 21l44 23v-136l4 8l6 12l10 14l16 15l26 18l40 21l40 21l44 23v-133l4 8l6 12l10 13l16 15l26 16l40 21l40 20l44 22v-140l3 9l7 12l9 14l16 16l27 17l40 22l39 21l45 24M332 2252l3 20l5 26l7 31l11 36l15 37l21 41v-283l3 15l5 20l7 24l11 28l15 29l21 31v-485l3 13l5 16l7 20l10 21l15 21l22 23v-138l3 11l6 15l10 17l16 20l27 21l39 23l40 22l44 23v-127l4 10l6 14l10 15l16 17l26 18l40 23l40 22l44 24v-148l4 9l6 12l10 14l15 15l27 17l40 22l40 21l44 23v-134l3 9l7 12l9 15l16 15l27 18l39 23l40 22l44 24v-140l4 9l6 12l10 14l16 15l26 18l40 22l40 22l44 24v-137l4 9l6 12l10 13l16 15l26 17l40 21l40 20l44 23v-142l3 9l7 12l9 15l16 15l27 18l40 22l39 22l45 24M332 2252l3 19l5 26l7 32l11 35l15 38l21 41v-284l3 15l5 21l7 24l11 27l15 29l21 32v-485l3 13l5 16l7 20l10 21l15 21l22 23v-138l3 10l6 16l10 17l16 20l27 21l39 23l40 21l44 24v-127l4 10l6 14l10 15l16 17l26 18l40 23l40 21l44 24v-147l4 9l6 12l10 14l15 15l27 17l40 22l40 20l44 23v-133l3 9l7 12l9 15l16 15l27 18l39 23l40 21l44 25v-140l4 9l6 12l10 14l16 15l26 18l40 22l40 22l44 24v-137l4 9l6 12l10 13l16 15l26 17l40 21l40 20l44 23v-142l3 9l7 12l9 15l16 15l27 18l40 22l39 22l45 24M332 2250l3 20l5 26l7 31l11 36l15 38l21 41v-284l3 15l5 20l7 24l11 28l15 29l21 32v-485l3 13l5 16l7 19l10 21l15 21l22 22v-136l3 11l6 15l10 17l16 20l27 20l39 23l40 21l44 23v-125l4 10l6 14l10 15l16 17l26 18l40 22l40 21l44 23v-145l4 9l6 12l10 14l15 15l27 17l40 20l40 21l44 22v-131l3 9l7 13l9 14l16 15l27 18l39 22l40 21l44 24v-138l4 9l6 12l10 14l16 15l26 18l40 22l40 21l44 23v-134l4 8l6 12l10 13l16 15l26 16l40 21l40 20l44 23v-141l3 9l7 13l9 14l16 15l27 18l40 22l39 21l45 24M332 2250l3 20l5 26l7 31l11 36l15 38l21 41v-284l3 15l5 20l7 24l11 28l15 29l21 32v-485l3 13l5 17l7 19l10 21l15 21l22 22v-136l3 10l6 15l10 18l16 19l27 21l39 23l40 21l44 23v-125l4 10l6 13l10 16l16 16l26 18l40 22l40 22l44 23v-146l4 9l6 13l10 13l15 15l27 17l40 21l40 21l44 22v-132l3 9l7 13l9 14l16 16l27 17l39 23l40 21l44 24v-139l4 9l6 13l10 14l16 15l26 17l40 22l40 22l44 23v-135l4 9l6 11l10 14l16 14l26 17l40 21l40 20l44 23v-141l3 9l7 12l9 14l16 16l27 18l40 22l39 21l45 24M332 2248l3 20l5 26l7 31l11 36l15 37l21 41v-283l3 15l5 20l7 24l11 28l15 29l21 31v-483l3 13l5 17l7 19l10 21l15 21l22 23v-138l3 11l6 15l10 18l16 19l27 21l39 23l40 22l44 23v-127l4 10l6 14l10 16l16 16l26 19l40 22l40 21l44 24v-147l4 9l6 12l10 14l15 16l27 17l40 21l40 20l44 23v-133l3 9l7 13l9 14l16 16l27 18l39 22l40 22l44 24v-140l4 9l6 13l10 14l16 15l26 18l40 22l40 21l44 24v-136l4 9l6 11l10 14l16 15l26 16l40 21l40 21l44 22v-141l3 9l7 12l9 15l16 15l27 18l40 22l39 22l45 24M332 2248l3 19l5 26l7 31l11 36l15 38l21 41v-284l3 15l5 21l7 24l11 27l15 29l21 32v-483l3 12l5 17l7 20l10 21l15 21l22 22v-137l3 10l6 16l10 17l16 20l27 21l39 23l40 21l44 24v-127l4 10l6 14l10 15l16 17l26 18l40 23l40 21l44 24v-147l4 9l6 12l10 14l15 15l27 17l40 22l40 20l44 23v-133l3 9l7 13l9 14l16 16l27 17l39 23l40 21l44 24v-139l4 9l6 12l10 14l16 16l26 17l40 22l40 22l44 24v-136l4 8l6 12l10 14l16 14l26 17l40 21l40 21l44 22v-142l3 9l7 13l9 14l16 16l27 18l40 22l39 22l45 24M332 2247l3 19l5 27l7 31l11 36l15 38l21 41v-285l3 15l5 21l7 24l11 28l15 29l21 33v-484l3 13l5 17l7 20l10 21l15 22l22 22v-138l3 10l6 15l10 18l16 20l27 21l39 24l40 21l44 24v-128l4 10l6 14l10 15l16 17l26 18l40 23l40 22l44 24v-149l4 9l6 13l10 14l15 15l27 17l40 22l40 21l44 23v-134l3 9l7 13l9 14l16 16l27 18l39 22l40 22l44 24v-140l4 9l6 12l10 15l16 15l26 18l40 22l40 22l44 24v-137l4 8l6 12l10 14l16 15l26 17l40 21l40 21l44 22v-143l3 9l7 13l9 15l16 15l27 18l40 23l39 22l45 24M332 2249l3 19l5 26l7 31l11 36l15 37l21 40v-282l3 15l5 20l7 24l11 28l15 28l21 31v-480l3 13l5 17l7 19l10 21l15 21l22 22v-136l3 10l6 15l10 18l16 20l27 20l39 23l40 21l44 23v-125l4 10l6 14l10 15l16 17l26 18l40 21l40 21l44 24v-145l4 8l6 13l10 14l15 15l27 17l40 20l40 20l44 23v-131l3 9l7 13l9 14l16 15l27 18l39 22l40 21l44 23v-137l4 9l6 12l10 14l16 16l26 17l40 22l40 21l44 23v-134l4 8l6 12l10 14l16 14l26 17l40 20l40 20l44 23v-141l3 9l7 13l9 14l16 16l27 17l40 22l39 22l45 23M332 2246l3 19l5 27l7 32l11 37l15 40l21 43v-291l3 16l5 21l7 24l11 29l15 31l21 34v-488l3 13l5 17l7 21l10 22l15 23l22 24v-144l3 11l6 15l10 18l16 21l27 22l39 24l40 23l44 25v-134l4 10l6 14l10 16l16 17l26 20l40 23l40 23l44 25v-153l4 9l6 13l10 14l15 16l27 18l40 22l40 22l44 24v-139l3 9l7 13l9 15l16 16l27 19l39 24l40 23l44 25v-146l4 9l6 13l10 15l16 16l26 18l40 24l40 22l44 26v-143l4 9l6 12l10 14l16 15l26 18l40 22l40 22l44 24v-148l3 9l7 13l9 15l16 16l27 19l40 23l39 23l45 26M332 2251l3 20l5 28l7 33l11 39l15 42l21 48v-302l3 15l5 22l7 26l11 31l15 34l21 38v-500l3 14l5 18l7 22l10 24l15 26l22 29v-157l3 11l6 16l10 19l16 21l27 24l39 27l40 25l44 28v-145l4 10l6 14l10 17l16 18l26 21l40 27l40 25l44 28v-166l4 10l6 13l10 15l15 17l27 19l40 25l40 25l44 27v-151l3 9l7 13l9 16l16 17l27 20l39 27l40 25l44 29v-158l4 9l6 13l10 15l16 17l26 21l40 26l40 25l44 28v-154l4 8l6 13l10 15l16 16l26 19l40 25l40 25l44 27v-161l3 10l7 13l9 15l16 18l27 20l40 26l39 26l45 29M332 2243l3 20l5 26l7 32l11 37l15 38l21 43v-288l3 15l5 21l7 24l11 29l15 30l21 34v-487l3 13l5 18l7 20l10 22l15 22l22 24v-142l3 10l6 16l10 18l16 20l27 22l39 24l40 22l44 25v-132l4 10l6 14l10 16l16 17l26 19l40 23l40 23l44 24v-151l4 9l6 12l10 15l15 15l27 18l40 22l40 22l44 23v-137l3 9l7 13l9 15l16 16l27 18l39 23l40 23l44 25v-144l4 9l6 13l10 14l16 16l26 18l40 23l40 23l44 25v-141l4 8l6 13l10 13l16 16l26 17l40 22l40 22l44 23v-147l3 10l7 12l9 15l16 16l27 19l40 23l39 23l45 25M332 2231l3 19l5 26l7 31l11 36l15 37l21 40v-281l3 15l5 20l7 24l11 27l15 29l21 31v-480l3 13l5 17l7 19l10 21l15 21l22 22v-136l3 10l6 16l10 17l16 20l27 21l39 22l40 21l44 23v-125l4 10l6 14l10 15l16 17l26 18l40 22l40 21l44 23v-145l4 9l6 12l10 14l15 15l27 17l40 21l40 20l44 22v-131l3 9l7 13l9 14l16 15l27 18l39 22l40 21l44 24v-138l4 9l6 12l10 15l16 15l26 17l40 22l40 21l44 23v-134l4 8l6 12l10 14l16 14l26 17l40 21l40 20l44 22v-141l3 10l7 12l9 15l16 15l27 18l40 22l39 21l45 23M332 2236l3 20l5 26l7 31l11 35l15 37l21 40v-281l3 15l5 20l7 24l11 27l15 28l21 31v-478l3 13l5 17l7 19l10 21l15 20l22 22v-135l3 11l6 15l10 17l16 20l27 20l39 23l40 20l44 23v-124l4 10l6 14l10 15l16 17l26 18l40 21l40 21l44 23v-144l4 9l6 12l10 14l15 15l27 17l40 20l40 20l44 22v-130l3 9l7 13l9 14l16 15l27 18l39 21l40 21l44 24v-137l4 9l6 13l10 14l16 15l26 17l40 21l40 21l44 23v-133l4 9l6 12l10 13l16 14l26 17l40 20l40 20l44 22v-139l3 9l7 12l9 15l16 15l27 17l40 22l39 21l45 23M332 2248l3 19l5 25l7 30l11 35l15 35l21 39v-275l3 14l5 20l7 23l11 26l15 27l21 29v-472l3 12l5 17l7 18l10 20l15 19l22 20v-130l3 11l6 15l10 17l16 19l27 20l39 21l40 20l44 21v-118l4 9l6 14l10 15l16 16l26 17l40 21l40 19l44 22v-139l4 9l6 12l10 14l15 14l27 16l40 20l40 18l44 21v-124l3 9l7 12l9 14l16 15l27 16l39 21l40 20l44 22v-131l4 8l6 13l10 14l16 14l26 17l40 20l40 19l44 22v-127l4 8l6 12l10 13l16 14l26 15l40 20l40 18l44 21v-134l3 9l7 13l9 14l16 14l27 17l40 21l39 19l45 22M332 2246l3 19l5 26l7 30l11 34l15 36l21 38v-275l3 15l5 20l7 23l11 26l15 27l21 28v-472l3 13l5 16l7 19l10 20l15 19l22 19v-129l3 11l6 15l10 17l16 19l27 20l39 21l40 19l44 22v-119l4 10l6 14l10 15l16 16l26 17l40 20l40 20l44 21v-138l4 9l6 12l10 14l15 14l27 16l40 19l40 19l44 20v-124l3 9l7 13l9 14l16 15l27 16l39 20l40 20l44 22v-131l4 9l6 12l10 14l16 15l26 16l40 20l40 20l44 21v-127l4 9l6 11l10 14l16 14l26 15l40 19l40 19l44 20v-133l3 9l7 12l9 14l16 15l27 17l40 20l39 20l45 22M332 2244l3 19l5 25l7 30l11 34l15 36l21 37v-273l3 14l5 20l7 23l11 26l15 27l21 28v-471l3 12l5 17l7 18l10 20l15 19l22 19v-128l3 10l6 15l10 17l16 19l27 20l39 21l40 19l44 21v-117l4 10l6 13l10 15l16 16l26 17l40 20l40 20l44 21v-137l4 9l6 12l10 13l15 15l27 15l40 19l40 19l44 20v-123l3 9l7 12l9 14l16 15l27 16l39 21l40 19l44 22v-130l4 9l6 12l10 14l16 14l26 17l40 20l40 19l44 21v-126l4 8l6 12l10 13l16 14l26 15l40 19l40 19l44 20v-133l3 9l7 13l9 14l16 15l27 16l40 20l39 20l45 22M332 2233l3 20l5 25l7 31l11 35l15 36l21 39v-277l3 14l5 20l7 24l11 26l15 28l21 30v-474l3 13l5 17l7 18l10 21l15 20l22 21v-133l3 11l6 15l10 18l16 19l27 20l39 22l40 20l44 22v-121l4 10l6 13l10 16l16 16l26 17l40 21l40 20l44 23v-141l4 8l6 13l10 13l15 15l27 16l40 20l40 19l44 22v-127l3 9l7 12l9 14l16 15l27 17l39 21l40 21l44 22v-133l4 9l6 12l10 14l16 15l26 17l40 20l40 21l44 22v-130l4 8l6 12l10 13l16 14l26 16l40 20l40 19l44 21v-136l3 9l7 13l9 14l16 15l27 17l40 21l39 21l45 22M332 2242l3 19l5 26l7 30l11 35l15 36l21 39v-277l3 15l5 20l7 23l11 27l15 27l21 30v-473l3 13l5 16l7 19l10 21l15 20l22 20v-132l3 11l6 15l10 18l16 19l27 20l39 22l40 20l44 22v-121l4 10l6 13l10 16l16 16l26 17l40 21l40 20l44 22v-140l4 8l6 13l10 13l15 15l27 16l40 20l40 19l44 21v-126l3 9l7 12l9 14l16 15l27 17l39 21l40 21l44 22v-133l4 9l6 12l10 14l16 15l26 17l40 20l40 20l44 22v-129l4 8l6 12l10 13l16 14l26 16l40 20l40 19l44 21v-136l3 9l7 13l9 14l16 15l27 17l40 21l39 20l45 23M332 2241l3 20l5 26l7 32l11 36l15 38l21 42v-285l3 15l5 20l7 25l11 28l15 29l21 33v-482l3 14l5 17l7 20l10 22l15 22l22 23v-140l3 10l6 16l10 18l16 20l27 21l39 24l40 22l44 24v-130l4 10l6 14l10 16l16 17l26 18l40 23l40 22l44 24v-149l4 9l6 12l10 15l15 15l27 17l40 22l40 21l44 23v-135l3 9l7 13l9 15l16 15l27 19l39 22l40 23l44 24v-142l4 9l6 13l10 14l16 16l26 18l40 22l40 22l44 25v-139l4 9l6 12l10 13l16 15l26 18l40 21l40 21l44 23v-144l3 9l7 13l9 14l16 16l27 18l40 23l39 22l45 25M332 2232l3 19l5 26l7 31l11 34l15 36l21 39v-276l3 14l5 20l7 24l11 26l15 28l21 29v-472l3 13l5 16l7 19l10 21l15 20l22 20v-132l3 11l6 15l10 17l16 20l27 20l39 22l40 20l44 22v-121l4 10l6 13l10 16l16 16l26 17l40 21l40 20l44 22v-140l4 8l6 13l10 13l15 15l27 16l40 20l40 19l44 21v-126l3 9l7 12l9 14l16 15l27 17l39 21l40 21l44 22v-133l4 9l6 12l10 14l16 15l26 16l40 21l40 20l44 22v-129l4 8l6 12l10 13l16 14l26 16l40 20l40 19l44 21v-136l3 9l7 13l9 14l16 15l27 17l40 21l39 20l45 23M332 2232l3 20l5 25l7 31l11 35l15 36l21 39v-277l3 14l5 20l7 24l11 27l15 28l21 30v-474l3 13l5 17l7 19l10 20l15 21l22 21v-134l3 11l6 15l10 18l16 19l27 20l39 23l40 20l44 22v-122l4 10l6 13l10 16l16 16l26 18l40 21l40 20l44 23v-142l4 9l6 12l10 14l15 14l27 17l40 20l40 19l44 22v-128l3 9l7 12l9 15l16 15l27 17l39 21l40 21l44 23v-135l4 9l6 12l10 14l16 15l26 17l40 21l40 20l44 23v-131l4 8l6 12l10 13l16 15l26 16l40 20l40 19l44 22v-138l3 9l7 13l9 14l16 15l27 18l40 21l39 20l45 23M332 2239l3 18l5 26l7 29l11 34l15 34l21 37v-270l3 14l5 20l7 22l11 26l15 26l21 27v-466l3 13l5 16l7 18l10 19l15 19l22 18v-125l3 10l6 15l10 17l16 19l27 19l39 21l40 18l44 21v-115l4 10l6 13l10 15l16 16l26 16l40 20l40 19l44 20v-134l4 9l6 12l10 13l15 14l27 15l40 19l40 18l44 19v-120l3 9l7 12l9 14l16 15l27 16l39 19l40 19l44 21v-127l4 9l6 12l10 14l16 14l26 16l40 19l40 19l44 20v-123l4 8l6 12l10 13l16 14l26 15l40 18l40 18l44 19v-129l3 9l7 12l9 14l16 14l27 16l40 20l39 19l45 21M332 2242l3 20l5 27l7 32l11 37l15 40l21 44v-291l3 15l5 21l7 25l11 29l15 32l21 35v-488l3 13l5 18l7 21l10 23l15 24l22 26v-148l3 11l6 16l10 18l16 21l27 22l39 25l40 24l44 25v-136l4 10l6 14l10 16l16 18l26 19l40 25l40 23l44 26v-156l4 9l6 13l10 14l15 16l27 18l40 23l40 23l44 25v-142l3 9l7 13l9 15l16 16l27 20l39 24l40 23l44 27v-149l4 9l6 13l10 15l16 16l26 19l40 24l40 23l44 26v-145l4 9l6 12l10 14l16 15l26 19l40 23l40 22l44 25v-152l3 10l7 13l9 15l16 16l27 19l40 25l39 23l45 26M332 2244l3 19l5 27l7 31l11 36l15 37l21 41v-283l3 15l5 21l7 24l11 28l15 29l21 32v-479l3 13l5 17l7 20l10 21l15 22l22 23v-139l3 11l6 15l10 18l16 20l27 21l39 24l40 21l44 24v-128l4 10l6 14l10 15l16 17l26 18l40 23l40 21l44 24v-147l4 9l6 12l10 14l15 15l27 17l40 22l40 20l44 23v-133l3 9l7 13l9 14l16 16l27 18l39 22l40 22l44 24v-140l4 9l6 13l10 14l16 15l26 18l40 22l40 22l44 23v-136l4 8l6 12l10 14l16 15l26 17l40 21l40 20l44 23v-143l3 10l7 12l9 15l16 15l27 18l40 23l39 22l45 24M332 2239l3 20l5 27l7 32l11 37l15 40l21 44v-292l3 16l5 21l7 25l11 29l15 32l21 35v-488l3 14l5 18l7 20l10 24l15 24l22 26v-148l3 11l6 15l10 19l16 20l27 23l39 25l40 24l44 26v-138l4 11l6 14l10 16l16 17l26 20l40 24l40 24l44 26v-157l4 9l6 13l10 15l15 16l27 18l40 23l40 23l44 25v-143l3 10l7 13l9 15l16 16l27 19l39 25l40 23l44 27v-150l4 9l6 13l10 15l16 16l26 19l40 25l40 23l44 26v-146l4 9l6 12l10 14l16 16l26 18l40 23l40 23l44 25v-152l3 9l7 13l9 15l16 17l27 19l40 24l39 24l45 27M332 2246l3 20l5 26l7 32l11 36l15 38l21 42v-285l3 15l5 21l7 24l11 28l15 30l21 32v-480l3 13l5 17l7 20l10 22l15 22l22 24v-140l3 10l6 15l10 19l16 20l27 21l39 24l40 22l44 24v-130l4 10l6 14l10 16l16 17l26 18l40 23l40 22l44 24v-149l4 9l6 12l10 15l15 15l27 17l40 22l40 21l44 23v-135l3 9l7 13l9 15l16 15l27 18l39 23l40 22l44 25v-142l4 9l6 13l10 14l16 16l26 18l40 22l40 22l44 24v-138l4 9l6 12l10 13l16 15l26 17l40 22l40 21l44 23v-144l3 9l7 13l9 14l16 16l27 18l40 23l39 22l45 25M332 2231l3 20l5 27l7 32l11 37l15 39l21 44v-290l3 15l5 21l7 25l11 29l15 31l21 34v-485l3 13l5 18l7 20l10 23l15 24l22 25v-146l3 11l6 16l10 18l16 20l27 23l39 25l40 23l44 25v-135l4 10l6 14l10 16l16 17l26 20l40 24l40 23l44 25v-154l4 9l6 13l10 14l15 16l27 18l40 23l40 22l44 24v-140l3 9l7 13l9 15l16 16l27 19l39 24l40 23l44 26v-147l4 9l6 13l10 14l16 17l26 18l40 24l40 23l44 25v-143l4 9l6 12l10 14l16 15l26 18l40 23l40 22l44 24v-150l3 10l7 13l9 15l16 16l27 19l40 24l39 23l45 26M332 2238l3 19l5 26l7 30l11 35l15 36l21 39v-276l3 14l5 20l7 24l11 26l15 28l21 30v-472l3 12l5 17l7 19l10 21l15 20l22 21v-133l3 11l6 15l10 18l16 19l27 20l39 22l40 20l44 23v-122l4 10l6 13l10 16l16 16l26 17l40 21l40 21l44 22v-141l4 8l6 13l10 14l15 14l27 16l40 20l40 20l44 21v-127l3 9l7 12l9 14l16 16l27 17l39 21l40 20l44 23v-134l4 9l6 12l10 14l16 15l26 17l40 21l40 20l44 22v-130l4 8l6 12l10 13l16 15l26 16l40 19l40 20l44 21v-137l3 9l7 13l9 14l16 15l27 17l40 21l39 21l45 22M332 2232l3 19l5 26l7 32l11 36l15 37l21 42v-284l3 15l5 21l7 24l11 28l15 29l21 33v-479l3 13l5 17l7 20l10 22l15 22l22 23v-140l3 11l6 15l10 18l16 20l27 22l39 23l40 22l44 24v-129l4 10l6 14l10 16l16 16l26 19l40 22l40 22l44 24v-148l4 9l6 12l10 14l15 16l27 17l40 21l40 21l44 23v-134l3 9l7 13l9 14l16 16l27 18l39 23l40 22l44 24v-141l4 9l6 13l10 14l16 15l26 18l40 23l40 21l44 24v-137l4 9l6 12l10 13l16 15l26 17l40 21l40 21l44 23v-144l3 10l7 12l9 15l16 16l27 18l40 22l39 22l45 25M332 2224l3 20l5 28l7 33l11 38l15 42l21 47v-299l3 16l5 21l7 26l11 31l15 33l21 37v-493l3 13l5 19l7 21l10 25l15 25l22 29v-155l3 11l6 16l10 19l16 21l27 23l39 27l40 25l44 28v-144l4 10l6 15l10 16l16 18l26 21l40 26l40 24l44 28v-163l4 9l6 13l10 15l15 16l27 20l40 24l40 24l44 27v-149l3 9l7 13l9 16l16 17l27 20l39 26l40 25l44 28v-156l4 9l6 13l10 15l16 17l26 20l40 26l40 25l44 27v-152l4 9l6 12l10 15l16 16l26 19l40 25l40 23l44 27v-159l3 10l7 13l9 15l16 17l27 21l40 26l39 25l45 28M332 2228l3 18l5 26l7 29l11 33l15 35l21 36v-269l3 15l5 19l7 22l11 26l15 26l21 27v-464l3 12l5 16l7 19l10 19l15 18l22 18v-124l3 10l6 15l10 17l16 19l27 19l39 20l40 19l44 20v-114l4 10l6 13l10 15l16 16l26 16l40 20l40 18l44 21v-134l4 9l6 12l10 13l15 14l27 15l40 19l40 17l44 20v-120l3 9l7 12l9 14l16 15l27 15l39 20l40 19l44 20v-126l4 9l6 12l10 14l16 14l26 16l40 19l40 18l44 21v-123l4 9l6 11l10 13l16 14l26 14l40 19l40 17l44 20v-129l3 9l7 12l9 14l16 14l27 16l40 20l39 18l45 21M332 2239l3 19l5 27l7 32l11 36l15 39l21 42v-287l3 16l5 20l7 25l11 28l15 31l21 33v-482l3 14l5 17l7 20l10 23l15 23l22 24v-143l3 11l6 15l10 19l16 20l27 22l39 24l40 22l44 25v-132l4 10l6 14l10 16l16 17l26 19l40 23l40 23l44 24v-151l4 9l6 12l10 15l15 15l27 18l40 22l40 21l44 24v-137l3 9l7 13l9 15l16 16l27 18l39 23l40 23l44 25v-144l4 9l6 13l10 14l16 16l26 18l40 23l40 23l44 25v-141l4 8l6 13l10 13l16 16l26 17l40 22l40 22l44 23v-147l3 10l7 12l9 15l16 16l27 19l40 23l39 23l45 25M332 2228l3 20l5 27l7 32l11 37l15 40l21 44v-291l3 15l5 21l7 25l11 30l15 31l21 35v-486l3 14l5 17l7 21l10 23l15 24l22 26v-147l3 11l6 15l10 19l16 20l27 22l39 26l40 23l44 26v-136l4 10l6 14l10 16l16 17l26 20l40 24l40 23l44 26v-156l4 9l6 13l10 15l15 16l27 18l40 23l40 22l44 25v-141l3 9l7 13l9 15l16 16l27 19l39 24l40 24l44 26v-149l4 10l6 13l10 14l16 16l26 19l40 24l40 23l44 26v-145l4 9l6 13l10 14l16 15l26 18l40 23l40 22l44 25v-151l3 9l7 13l9 15l16 17l27 19l40 24l39 23l45 27M332 2226l3 20l5 26l7 31l11 35l15 37l21 41v-281l3 15l5 20l7 24l11 28l15 28l21 32v-476l3 13l5 17l7 20l10 21l15 22l22 22v-137l3 11l6 15l10 18l16 20l27 21l39 23l40 21l44 23v-126l4 10l6 14l10 15l16 17l26 18l40 22l40 21l44 24v-146l4 9l6 12l10 14l15 15l27 17l40 21l40 20l44 23v-132l3 9l7 13l9 14l16 16l27 17l39 22l40 22l44 23v-138l4 9l6 12l10 15l16 15l26 17l40 22l40 21l44 24v-135l4 8l6 12l10 14l16 15l26 16l40 21l40 20l44 22v-141l3 10l7 12l9 15l16 15l27 18l40 22l39 21l45 24M332 2236l3 19l5 27l7 31l11 36l15 38l21 41v-283l3 15l5 20l7 24l11 28l15 30l21 32v-478l3 13l5 17l7 20l10 22l15 22l22 24v-140l3 10l6 16l10 18l16 20l27 21l39 24l40 22l44 24v-129l4 10l6 13l10 16l16 17l26 18l40 23l40 22l44 24v-149l4 9l6 13l10 14l15 15l27 17l40 22l40 21l44 23v-134l3 9l7 12l9 15l16 16l27 18l39 22l40 22l44 25v-141l4 9l6 12l10 14l16 16l26 18l40 22l40 22l44 24v-137l4 8l6 12l10 14l16 15l26 17l40 21l40 21l44 23v-144l3 9l7 13l9 14l16 16l27 18l40 23l39 22l45 24M332 2237l3 19l5 27l7 32l11 36l15 39l21 42v-287l3 16l5 20l7 25l11 29l15 30l21 34v-482l3 13l5 18l7 20l10 23l15 23l22 24v-143l3 10l6 16l10 18l16 20l27 22l39 25l40 23l44 24v-132l4 10l6 14l10 16l16 17l26 19l40 23l40 23l44 25v-153l4 9l6 13l10 14l15 16l27 18l40 22l40 22l44 24v-138l3 9l7 13l9 14l16 16l27 19l39 23l40 23l44 25v-145l4 10l6 12l10 15l16 16l26 18l40 23l40 23l44 25v-142l4 9l6 12l10 14l16 15l26 18l40 22l40 22l44 23v-147l3 9l7 13l9 15l16 16l27 19l40 23l39 23l45 25M332 2232l3 18l5 26l7 30l11 34l15 35l21 37v-272l3 15l5 19l7 23l11 26l15 27l21 29v-467l3 13l5 16l7 19l10 20l15 19l22 20v-129l3 11l6 15l10 17l16 19l27 20l39 21l40 20l44 21v-118l4 10l6 13l10 15l16 16l26 17l40 20l40 20l44 21v-137l4 9l6 12l10 13l15 15l27 15l40 19l40 19l44 20v-123l3 9l7 12l9 14l16 15l27 16l39 21l40 19l44 22v-130l4 9l6 12l10 14l16 14l26 17l40 20l40 19l44 21v-126l4 8l6 12l10 13l16 14l26 15l40 19l40 19l44 20v-133l3 9l7 13l9 14l16 15l27 16l40 20l39 20l45 22M332 2238l3 19l5 27l7 30l11 36l15 37l21 40v-280l3 15l5 20l7 24l11 27l15 29l21 31v-474l3 13l5 17l7 20l10 21l15 22l22 22v-137l3 11l6 15l10 18l16 20l27 21l39 23l40 21l44 23v-126l4 10l6 14l10 16l16 16l26 18l40 22l40 21l44 23v-145l4 9l6 12l10 14l15 15l27 17l40 21l40 20l44 22v-131l3 9l7 13l9 14l16 16l27 17l39 22l40 22l44 23v-138l4 9l6 13l10 14l16 15l26 18l40 21l40 21l44 24v-135l4 9l6 12l10 13l16 15l26 16l40 21l40 20l44 22v-140l3 9l7 13l9 14l16 15l27 18l40 22l39 21l45 24M332 2222l3 19l5 26l7 29l11 34l15 35l21 36v-270l3 15l5 19l7 23l11 26l15 26l21 28v-464l3 12l5 16l7 19l10 19l15 19l22 19v-126l3 10l6 15l10 17l16 19l27 20l39 21l40 19l44 21v-116l4 9l6 14l10 15l16 16l26 16l40 20l40 19l44 21v-136l4 9l6 12l10 14l15 14l27 15l40 19l40 18l44 20v-121l3 8l7 13l9 14l16 14l27 16l39 20l40 19l44 22v-128l4 8l6 13l10 13l16 15l26 16l40 19l40 19l44 21v-124l4 8l6 12l10 13l16 13l26 15l40 19l40 18l44 20v-131l3 9l7 12l9 14l16 15l27 16l40 20l39 19l45 21M332 2242l3 19l5 25l7 30l11 34l15 35l21 37v-271l3 14l5 20l7 23l11 25l15 27l21 28v-465l3 13l5 16l7 19l10 20l15 19l22 19v-128l3 11l6 15l10 17l16 19l27 20l39 21l40 19l44 22v-118l4 10l6 14l10 15l16 15l26 17l40 20l40 19l44 22v-137l4 9l6 12l10 13l15 15l27 15l40 19l40 18l44 21v-123l3 9l7 12l9 14l16 15l27 16l39 21l40 19l44 22v-130l4 9l6 12l10 14l16 14l26 17l40 19l40 20l44 21v-126l4 9l6 11l10 13l16 14l26 15l40 19l40 18l44 21v-132l3 9l7 12l9 14l16 15l27 16l40 20l39 20l45 21M332 2235l3 19l5 25l7 30l11 34l15 35l21 37v-271l3 14l5 20l7 23l11 26l15 26l21 29v-466l3 13l5 16l7 19l10 20l15 19l22 20v-128l3 10l6 15l10 17l16 19l27 20l39 22l40 19l44 21v-117l4 9l6 14l10 15l16 16l26 17l40 20l40 19l44 21v-137l4 9l6 12l10 14l15 14l27 16l40 19l40 18l44 20v-123l3 9l7 13l9 14l16 14l27 17l39 20l40 20l44 21v-130l4 9l6 12l10 14l16 15l26 16l40 20l40 19l44 22v-127l4 9l6 11l10 14l16 13l26 16l40 19l40 18l44 20v-132l3 9l7 12l9 14l16 15l27 16l40 21l39 19l45 22M332 2230l3 19l5 26l7 30l11 35l15 36l21 39v-276l3 15l5 20l7 23l11 27l15 27l21 30v-469l3 13l5 17l7 19l10 20l15 20l22 21v-132l3 11l6 15l10 18l16 19l27 20l39 22l40 20l44 23v-122l4 10l6 14l10 15l16 16l26 17l40 21l40 20l44 23v-141l4 9l6 12l10 14l15 14l27 16l40 20l40 19l44 22v-127l3 9l7 13l9 14l16 15l27 17l39 21l40 20l44 23v-134l4 9l6 12l10 14l16 15l26 17l40 21l40 20l44 22v-130l4 9l6 11l10 14l16 14l26 16l40 19l40 19l44 22v-136l3 9l7 12l9 14l16 15l27 17l40 21l39 21l45 22M332 2229l3 19l5 26l7 31l11 35l15 36l21 40v-278l3 15l5 20l7 24l11 27l15 28l21 30v-471l3 13l5 17l7 19l10 21l15 21l22 22v-134l3 10l6 15l10 18l16 20l27 20l39 23l40 21l44 22v-123l4 10l6 13l10 16l16 16l26 18l40 21l40 21l44 22v-143l4 9l6 13l10 14l15 14l27 17l40 20l40 20l44 21v-128l3 9l7 12l9 14l16 16l27 17l39 21l40 21l44 23v-135l4 9l6 12l10 14l16 15l26 17l40 21l40 21l44 23v-132l4 8l6 12l10 13l16 15l26 16l40 20l40 20l44 21v-138l3 9l7 13l9 14l16 15l27 18l40 21l39 21l45 23M332 2227l3 19l5 26l7 31l11 35l15 37l21 40v-279l3 15l5 20l7 24l11 27l15 29l21 31v-473l3 13l5 17l7 20l10 21l15 21l22 23v-136l3 10l6 15l10 18l16 20l27 21l39 23l40 21l44 23v-125l4 9l6 14l10 16l16 16l26 18l40 22l40 21l44 23v-145l4 9l6 13l10 14l15 15l27 16l40 21l40 20l44 22v-131l3 10l7 12l9 14l16 16l27 17l39 22l40 22l44 23v-138l4 9l6 13l10 14l16 15l26 18l40 21l40 21l44 24v-135l4 9l6 12l10 13l16 15l26 16l40 21l40 20l44 22v-140l3 9l7 13l9 14l16 16l27 17l40 22l39 21l45 24M332 2225l3 19l5 25l7 29l11 32l15 34l21 35v-265l3 14l5 19l7 23l11 24l15 26l21 26v-458l3 12l5 16l7 18l10 19l15 18l22 17v-121l3 10l6 15l10 17l16 18l27 19l39 20l40 18l44 20v-111l4 9l6 14l10 14l16 16l26 15l40 19l40 18l44 20v-131l4 9l6 12l10 13l15 14l27 14l40 18l40 17l44 19v-116l3 8l7 13l9 13l16 14l27 16l39 18l40 19l44 20v-123l4 8l6 12l10 14l16 14l26 15l40 18l40 18l44 20v-119l4 8l6 11l10 13l16 13l26 15l40 17l40 17l44 19v-126l3 9l7 12l9 14l16 14l27 15l40 19l39 18l45 20M332 2227l3 20l5 27l7 32l11 37l15 40l21 44v-291l3 16l5 21l7 25l11 29l15 32l21 35v-484l3 14l5 18l7 21l10 23l15 24l22 27v-148l3 11l6 15l10 19l16 21l27 22l39 26l40 23l44 27v-138l4 10l6 14l10 16l16 18l26 20l40 24l40 23l44 26v-156l4 9l6 13l10 14l15 16l27 19l40 23l40 22l44 25v-142l3 9l7 13l9 15l16 17l27 19l39 24l40 24l44 26v-149l4 9l6 13l10 15l16 16l26 19l40 24l40 24l44 26v-146l4 9l6 12l10 14l16 16l26 18l40 23l40 22l44 25v-152l3 10l7 13l9 15l16 16l27 19l40 25l39 24l45 26M332 2220l3 19l5 27l7 31l11 36l15 39l21 41v-284l3 15l5 21l7 24l11 28l15 30l21 33v-477l3 14l5 17l7 20l10 22l15 23l22 25v-142l3 11l6 15l10 18l16 20l27 22l39 24l40 23l44 24v-131l4 10l6 14l10 16l16 17l26 18l40 23l40 22l44 25v-150l4 9l6 12l10 15l15 15l27 17l40 22l40 21l44 24v-136l3 9l7 13l9 14l16 16l27 19l39 23l40 22l44 25v-143l4 9l6 13l10 14l16 16l26 18l40 23l40 22l44 24v-139l4 9l6 12l10 13l16 15l26 18l40 21l40 21l44 24v-146l3 10l7 12l9 15l16 16l27 18l40 23l39 23l45 25M332 2235l3 20l5 26l7 31l11 36l15 37l21 40v-280l3 15l5 20l7 24l11 28l15 29l21 32v-473l3 13l5 17l7 19l10 22l15 22l22 23v-138l3 11l6 15l10 18l16 20l27 21l39 24l40 21l44 24v-128l4 10l6 14l10 16l16 16l26 19l40 22l40 21l44 24v-147l4 9l6 12l10 15l15 15l27 17l40 21l40 20l44 23v-133l3 9l7 13l9 14l16 16l27 18l39 22l40 22l44 24v-140l4 9l6 13l10 14l16 15l26 18l40 22l40 21l44 24v-136l4 9l6 12l10 13l16 15l26 17l40 21l40 20l44 23v-142l3 9l7 13l9 14l16 16l27 17l40 23l39 21l45 24M332 2224l3 19l5 26l7 30l11 34l15 35l21 37v-272l3 15l5 20l7 23l11 26l15 27l21 29v-465l3 13l5 17l7 18l10 21l15 19l22 21v-130l3 11l6 15l10 17l16 19l27 20l39 22l40 20l44 21v-119l4 10l6 14l10 15l16 16l26 17l40 20l40 20l44 21v-138l4 9l6 12l10 14l15 14l27 16l40 19l40 19l44 20v-124l3 9l7 13l9 13l16 15l27 17l39 20l40 20l44 22v-131l4 9l6 12l10 14l16 15l26 16l40 20l40 20l44 21v-127l4 9l6 11l10 13l16 14l26 16l40 19l40 19l44 20v-133l3 9l7 12l9 14l16 15l27 17l40 20l39 20l45 22M332 2226l3 19l5 26l7 30l11 34l15 36l21 38v-273l3 14l5 20l7 23l11 27l15 27l21 30v-466l3 13l5 17l7 19l10 20l15 21l22 21v-132l3 11l6 15l10 17l16 20l27 20l39 22l40 20l44 22v-121l4 10l6 14l10 15l16 16l26 17l40 21l40 20l44 22v-140l4 9l6 12l10 14l15 14l27 16l40 20l40 19l44 21v-126l3 9l7 13l9 14l16 15l27 17l39 20l40 21l44 22v-133l4 9l6 13l10 13l16 15l26 17l40 20l40 20l44 22v-129l4 9l6 12l10 13l16 14l26 16l40 19l40 19l44 21v-135l3 9l7 12l9 14l16 15l27 17l40 21l39 20l45 23M332 2222l3 19l5 26l7 31l11 35l15 37l21 40v-279l3 15l5 20l7 24l11 28l15 28l21 31v-470l3 13l5 17l7 20l10 21l15 21l22 23v-136l3 10l6 16l10 18l16 19l27 21l39 23l40 22l44 23v-126l4 10l6 14l10 15l16 17l26 18l40 22l40 21l44 23v-145l4 9l6 12l10 14l15 15l27 17l40 20l40 21l44 22v-131l3 9l7 13l9 14l16 15l27 18l39 22l40 21l44 24v-138l4 9l6 12l10 15l16 15l26 17l40 22l40 21l44 23v-134l4 9l6 11l10 14l16 14l26 17l40 21l40 20l44 22v-140l3 9l7 12l9 15l16 15l27 18l40 22l39 21l45 23M332 2220l3 20l5 26l7 30l11 35l15 37l21 39v-277l3 15l5 20l7 24l11 27l15 28l21 31v-469l3 13l5 17l7 19l10 22l15 21l22 22v-135l3 11l6 15l10 18l16 19l27 21l39 23l40 21l44 23v-125l4 10l6 14l10 15l16 17l26 18l40 21l40 21l44 23v-144l4 9l6 12l10 14l15 15l27 17l40 20l40 20l44 22v-130l3 9l7 13l9 14l16 15l27 18l39 21l40 21l44 24v-137l4 9l6 13l10 14l16 15l26 17l40 21l40 21l44 23v-133l4 9l6 12l10 13l16 14l26 17l40 20l40 20l44 22v-139l3 9l7 12l9 15l16 15l27 17l40 22l39 21l45 23M332 2226l3 19l5 24l7 29l11 32l15 33l21 34v-261l3 14l5 18l7 22l11 25l15 24l21 25v-452l3 12l5 16l7 17l10 19l15 17l22 16v-118l3 10l6 15l10 17l16 18l27 18l39 20l40 17l44 19v-108l4 10l6 13l10 14l16 15l26 16l40 18l40 17l44 19v-127l4 8l6 12l10 13l15 14l27 14l40 17l40 16l44 18v-113l3 9l7 12l9 13l16 14l27 15l39 18l40 18l44 19v-120l4 9l6 12l10 13l16 13l26 15l40 18l40 17l44 19v-116l4 8l6 11l10 13l16 13l26 14l40 17l40 16l44 18v-122l3 8l7 12l9 14l16 14l27 15l40 18l39 17l45 20M332 2223l3 20l5 26l7 31l11 35l15 37l21 40v-279l3 15l5 20l7 24l11 28l15 29l21 31v-470l3 13l5 17l7 20l10 21l15 22l22 23v-137l3 10l6 16l10 18l16 20l27 21l39 23l40 22l44 23v-127l4 10l6 14l10 16l16 16l26 18l40 22l40 21l44 24v-146l4 9l6 12l10 14l15 15l27 17l40 21l40 20l44 23v-132l3 9l7 13l9 14l16 16l27 17l39 23l40 21l44 24v-139l4 9l6 13l10 14l16 15l26 18l40 22l40 21l44 23v-135l4 9l6 12l10 13l16 15l26 16l40 21l40 20l44 23v-141l3 9l7 12l9 15l16 15l27 18l40 22l39 22l45 24M332 2215l3 21l5 27l7 33l11 38l15 41l21 46v-296l3 16l5 22l7 25l11 31l15 33l21 37v-487l3 14l5 19l7 21l10 25l15 26l22 29v-155l3 11l6 16l10 19l16 21l27 24l39 27l40 25l44 28v-144l4 10l6 14l10 17l16 18l26 20l40 26l40 25l44 27v-163l4 10l6 13l10 15l15 16l27 19l40 25l40 24l44 26v-148l3 9l7 13l9 16l16 17l27 20l39 25l40 25l44 28v-155l4 9l6 13l10 15l16 17l26 20l40 25l40 25l44 28v-152l4 9l6 12l10 14l16 17l26 19l40 24l40 24l44 26v-158l3 10l7 13l9 15l16 17l27 20l40 26l39 25l45 28M332 2217l3 19l5 24l7 29l11 32l15 32l21 33v-259l3 14l5 19l7 21l11 24l15 24l21 25v-450l3 12l5 16l7 17l10 18l15 17l22 16v-116l3 10l6 14l10 17l16 18l27 19l39 19l40 17l44 18v-106l4 9l6 14l10 14l16 15l26 15l40 18l40 17l44 18v-125l4 8l6 12l10 13l15 13l27 14l40 17l40 16l44 17v-111l3 9l7 12l9 13l16 14l27 14l39 18l40 17l44 19v-118l4 8l6 12l10 13l16 14l26 15l40 17l40 17l44 18v-114l4 8l6 11l10 13l16 13l26 13l40 17l40 16l44 17v-121l3 9l7 12l9 13l16 14l27 15l40 18l39 17l45 19M332 2222l3 20l5 26l7 31l11 36l15 37l21 41v-281l3 15l5 21l7 24l11 28l15 29l21 32v-472l3 13l5 18l7 20l10 22l15 22l22 24v-139l3 10l6 16l10 18l16 20l27 21l39 24l40 22l44 24v-129l4 10l6 14l10 16l16 16l26 19l40 22l40 22l44 24v-148l4 9l6 12l10 14l15 16l27 17l40 21l40 21l44 23v-134l3 9l7 13l9 14l16 16l27 18l39 22l40 22l44 24v-140l4 9l6 13l10 14l16 15l26 18l40 22l40 22l44 24v-137l4 9l6 12l10 13l16 15l26 17l40 21l40 21l44 22v-142l3 9l7 12l9 15l16 16l27 18l40 22l39 22l45 24M332 2206l3 20l5 25l7 31l11 35l15 36l21 39v-276l3 15l5 20l7 24l11 26l15 29l21 30v-466l3 13l5 17l7 20l10 21l15 21l22 22v-134l3 11l6 15l10 18l16 19l27 21l39 22l40 21l44 23v-123l4 9l6 14l10 15l16 17l26 17l40 22l40 20l44 23v-143l4 9l6 12l10 14l15 15l27 16l40 21l40 19l44 22v-129l3 9l7 13l9 14l16 15l27 18l39 21l40 21l44 23v-136l4 9l6 13l10 14l16 15l26 17l40 21l40 20l44 23v-132l4 9l6 12l10 13l16 14l26 17l40 20l40 19l44 22v-138l3 9l7 13l9 14l16 15l27 17l40 22l39 20l45 23M332 2204l3 19l5 26l7 30l11 34l15 35l21 38v-272l3 15l5 20l7 23l11 26l15 27l21 29v-461l3 12l5 17l7 19l10 21l15 20l22 20v-130l3 11l6 15l10 18l16 19l27 20l39 22l40 20l44 22v-120l4 10l6 13l10 15l16 16l26 18l40 20l40 20l44 21v-138l4 8l6 13l10 13l15 15l27 16l40 19l40 19l44 20v-124l3 9l7 12l9 14l16 15l27 17l39 20l40 20l44 22v-131l4 9l6 12l10 14l16 15l26 16l40 20l40 20l44 22v-128l4 8l6 12l10 13l16 14l26 16l40 19l40 19l44 20v-134l3 9l7 13l9 14l16 15l27 16l40 21l39 20l45 22M332 2224l3 19l5 27l7 31l11 36l15 38l21 42v-283l3 15l5 20l7 25l11 28l15 30l21 33v-473l3 13l5 18l7 20l10 22l15 23l22 25v-141l3 10l6 16l10 18l16 20l27 22l39 24l40 23l44 24v-131l4 10l6 14l10 16l16 17l26 19l40 23l40 22l44 24v-150l4 9l6 12l10 15l15 15l27 18l40 21l40 22l44 23v-136l3 9l7 13l9 15l16 16l27 18l39 23l40 22l44 25v-143l4 9l6 13l10 14l16 16l26 18l40 23l40 22l44 24v-139l4 9l6 12l10 14l16 15l26 17l40 21l40 22l44 23v-145l3 9l7 13l9 14l16 16l27 18l40 23l39 23l45 25M332 2213l3 19l5 25l7 29l11 32l15 33l21 35v-263l3 14l5 19l7 23l11 24l15 25l21 26v-452l3 13l5 16l7 18l10 19l15 18l22 17v-121l3 10l6 15l10 17l16 19l27 19l39 20l40 18l44 20v-111l4 9l6 14l10 14l16 16l26 15l40 19l40 18l44 19v-130l4 9l6 12l10 13l15 14l27 14l40 18l40 17l44 18v-115l3 8l7 13l9 13l16 14l27 16l39 18l40 18l44 20v-122l4 8l6 12l10 14l16 14l26 15l40 18l40 18l44 20v-119l4 8l6 11l10 13l16 13l26 15l40 17l40 17l44 18v-125l3 9l7 12l9 14l16 14l27 15l40 19l39 18l45 20M332 2202l3 19l5 26l7 30l11 34l15 36l21 38v-273l3 15l5 19l7 24l11 26l15 28l21 29v-462l3 13l5 17l7 19l10 21l15 20l22 22v-132l3 10l6 15l10 18l16 20l27 20l39 22l40 21l44 22v-122l4 10l6 14l10 15l16 16l26 18l40 21l40 20l44 22v-141l4 9l6 12l10 14l15 15l27 16l40 19l40 20l44 21v-127l3 9l7 13l9 14l16 15l27 17l39 21l40 20l44 22v-133l4 9l6 13l10 13l16 15l26 17l40 21l40 20l44 22v-130l4 9l6 12l10 13l16 14l26 16l40 19l40 20l44 21v-136l3 9l7 12l9 15l16 15l27 16l40 21l39 21l45 22M332 2210l3 20l5 26l7 32l11 36l15 38l21 42v-284l3 16l5 20l7 25l11 28l15 30l21 33v-472l3 13l5 18l7 20l10 22l15 24l22 24v-141l3 10l6 16l10 18l16 20l27 22l39 24l40 23l44 25v-132l4 10l6 14l10 16l16 17l26 19l40 23l40 22l44 24v-150l4 9l6 12l10 15l15 15l27 18l40 22l40 21l44 23v-136l3 9l7 13l9 15l16 16l27 18l39 23l40 22l44 25v-143l4 9l6 13l10 14l16 16l26 18l40 23l40 22l44 25v-140l4 9l6 12l10 14l16 15l26 17l40 22l40 21l44 23v-145l3 9l7 13l9 14l16 16l27 19l40 23l39 22l45 25M332 2212l3 19l5 26l7 30l11 33l15 35l21 38v-270l3 14l5 20l7 23l11 26l15 27l21 28v-459l3 13l5 16l7 19l10 21l15 19l22 21v-129l3 11l6 15l10 17l16 19l27 20l39 22l40 20l44 21v-118l4 10l6 13l10 15l16 16l26 17l40 20l40 20l44 21v-138l4 9l6 12l10 14l15 14l27 16l40 19l40 19l44 20v-123l3 9l7 12l9 14l16 15l27 16l39 20l40 20l44 22v-130l4 8l6 13l10 13l16 15l26 16l40 20l40 20l44 21v-126l4 8l6 12l10 13l16 14l26 15l40 19l40 19l44 20v-133l3 9l7 13l9 13l16 15l27 17l40 20l39 20l45 22M332 2214l3 19l5 25l7 30l11 33l15 35l21 36v-268l3 15l5 19l7 23l11 26l15 26l21 28v-457l3 13l5 16l7 19l10 20l15 19l22 20v-127l3 10l6 15l10 18l16 19l27 20l39 21l40 19l44 22v-117l4 9l6 14l10 15l16 16l26 16l40 20l40 19l44 21v-136l4 9l6 12l10 14l15 14l27 15l40 19l40 18l44 20v-121l3 9l7 12l9 14l16 14l27 17l39 19l40 20l44 21v-128l4 8l6 13l10 13l16 15l26 16l40 19l40 19l44 21v-124l4 8l6 12l10 13l16 13l26 16l40 18l40 18l44 20v-131l3 9l7 12l9 14l16 15l27 16l40 20l39 19l45 22M332 2215l3 19l5 26l7 30l11 34l15 36l21 38v-272l3 14l5 20l7 23l11 27l15 27l21 29v-460l3 12l5 17l7 19l10 21l15 20l22 22v-131l3 10l6 15l10 18l16 19l27 20l39 23l40 20l44 22v-121l4 10l6 14l10 15l16 16l26 17l40 21l40 20l44 22v-140l4 9l6 12l10 14l15 14l27 16l40 20l40 19l44 21v-126l3 9l7 13l9 14l16 15l27 16l39 21l40 20l44 23v-133l4 9l6 12l10 14l16 15l26 17l40 20l40 20l44 22v-129l4 9l6 11l10 14l16 14l26 15l40 20l40 19l44 21v-135l3 9l7 12l9 14l16 15l27 17l40 21l39 20l45 22M332 2214l3 18l5 26l7 29l11 34l15 34l21 36v-267l3 14l5 20l7 22l11 26l15 26l21 28v-456l3 12l5 17l7 18l10 20l15 20l22 20v-127l3 10l6 15l10 18l16 19l27 19l39 22l40 19l44 21v-116l4 9l6 14l10 15l16 15l26 17l40 20l40 19l44 21v-136l4 9l6 12l10 14l15 14l27 15l40 19l40 18l44 20v-121l3 8l7 13l9 14l16 14l27 16l39 20l40 19l44 21v-128l4 9l6 12l10 14l16 15l26 15l40 20l40 19l44 21v-125l4 9l6 11l10 13l16 14l26 15l40 19l40 18l44 20v-131l3 9l7 12l9 14l16 15l27 16l40 20l39 19l45 21M332 2214l3 20l5 26l7 32l11 36l15 38l21 42v-283l3 15l5 20l7 25l11 28l15 30l21 33v-471l3 13l5 18l7 20l10 23l15 23l22 25v-142l3 11l6 15l10 19l16 20l27 22l39 24l40 23l44 25v-132l4 10l6 14l10 16l16 17l26 19l40 23l40 22l44 24v-150l4 9l6 12l10 15l15 15l27 18l40 22l40 21l44 23v-136l3 9l7 13l9 15l16 15l27 19l39 23l40 22l44 25v-143l4 9l6 13l10 14l16 16l26 18l40 23l40 22l44 25v-140l4 9l6 12l10 13l16 15l26 18l40 22l40 21l44 23v-146l3 10l7 12l9 15l16 16l27 18l40 24l39 22l45 25M332 2205l3 18l5 25l7 29l11 33l15 33l21 35v-263l3 15l5 19l7 22l11 25l15 25l21 27v-451l3 12l5 17l7 18l10 19l15 19l22 18v-122l3 10l6 15l10 17l16 19l27 19l39 20l40 19l44 20v-112l4 9l6 13l10 15l16 16l26 16l40 18l40 18l44 20v-131l4 9l6 12l10 13l15 14l27 15l40 17l40 17l44 19v-117l3 9l7 12l9 14l16 14l27 16l39 19l40 18l44 20v-124l4 9l6 12l10 14l16 14l26 15l40 19l40 18l44 20v-121l4 9l6 11l10 13l16 13l26 15l40 17l40 17l44 19v-126l3 9l7 12l9 14l16 14l27 15l40 19l39 19l45 20M332 2209l3 19l5 26l7 31l11 35l15 37l21 39v-276l3 15l5 20l7 24l11 27l15 28l21 31v-463l3 13l5 17l7 20l10 22l15 22l22 23v-136l3 10l6 16l10 18l16 19l27 21l39 24l40 21l44 24v-126l4 10l6 13l10 16l16 16l26 18l40 22l40 21l44 23v-145l4 9l6 13l10 14l15 15l27 16l40 21l40 20l44 22v-130l3 9l7 12l9 15l16 15l27 18l39 21l40 22l44 23v-137l4 9l6 12l10 14l16 16l26 17l40 21l40 21l44 24v-134l4 8l6 12l10 14l16 14l26 17l40 20l40 20l44 22v-140l3 9l7 13l9 14l16 16l27 17l40 22l39 21l45 24M332 2209l3 18l5 25l7 29l11 32l15 32l21 34v-260l3 15l5 18l7 22l11 25l15 24l21 26v-447l3 12l5 16l7 18l10 19l15 18l22 17v-119l3 10l6 15l10 17l16 18l27 19l39 20l40 18l44 19v-109l4 9l6 14l10 14l16 15l26 16l40 18l40 17l44 20v-128l4 8l6 12l10 13l15 14l27 14l40 17l40 16l44 19v-114l3 8l7 13l9 13l16 14l27 15l39 18l40 18l44 19v-120l4 8l6 12l10 14l16 13l26 15l40 18l40 18l44 19v-117l4 8l6 11l10 13l16 13l26 14l40 17l40 16l44 18v-123l3 9l7 12l9 14l16 14l27 15l40 18l39 18l45 19M332 2212l3 19l5 26l7 31l11 34l15 36l21 39v-274l3 15l5 20l7 23l11 27l15 29l21 30v-461l3 13l5 17l7 19l10 22l15 21l22 23v-134l3 10l6 15l10 18l16 20l27 21l39 23l40 21l44 23v-124l4 9l6 14l10 16l16 16l26 18l40 21l40 21l44 22v-143l4 9l6 12l10 14l15 15l27 17l40 20l40 20l44 21v-129l3 10l7 12l9 14l16 16l27 17l39 21l40 21l44 23v-136l4 9l6 13l10 14l16 15l26 17l40 21l40 21l44 23v-133l4 9l6 12l10 13l16 15l26 16l40 20l40 20l44 21v-138l3 9l7 13l9 14l16 15l27 17l40 22l39 21l45 23M332 2206l3 19l5 25l7 30l11 34l15 34l21 37v-268l3 14l5 20l7 23l11 26l15 26l21 29v-455l3 12l5 17l7 19l10 20l15 20l22 21v-128l3 10l6 15l10 18l16 19l27 20l39 21l40 20l44 22v-118l4 9l6 14l10 15l16 16l26 17l40 20l40 19l44 21v-137l4 9l6 12l10 14l15 14l27 16l40 19l40 18l44 20v-122l3 8l7 13l9 14l16 14l27 17l39 20l40 19l44 22v-130l4 9l6 13l10 13l16 15l26 16l40 20l40 19l44 21v-126l4 9l6 12l10 13l16 13l26 16l40 19l40 18l44 20v-132l3 9l7 12l9 14l16 15l27 16l40 21l39 19l45 22M332 2210l3 17l5 24l7 28l11 30l15 30l21 30v-249l3 14l5 18l7 21l11 22l15 22l21 22v-435l3 11l5 15l7 17l10 17l15 15l22 14v-108l3 10l6 14l10 17l16 17l27 17l39 18l40 15l44 17v-98l4 9l6 13l10 14l16 14l26 14l40 16l40 15l44 17v-118l4 9l6 11l10 13l15 12l27 13l40 15l40 14l44 16v-103l3 8l7 12l9 13l16 13l27 13l39 16l40 16l44 17v-110l4 8l6 12l10 12l16 13l26 14l40 15l40 15l44 17v-106l4 8l6 11l10 12l16 12l26 12l40 15l40 14l44 16v-113l3 9l7 11l9 13l16 13l27 14l40 16l39 15l45 17M332 2205l3 19l5 26l7 30l11 33l15 35l21 37v-269l3 15l5 19l7 23l11 26l15 27l21 29v-455l3 13l5 16l7 19l10 21l15 20l22 20v-128l3 10l6 15l10 18l16 19l27 20l39 22l40 20l44 22v-119l4 10l6 13l10 15l16 16l26 17l40 20l40 20l44 21v-137l4 8l6 13l10 13l15 14l27 16l40 19l40 19l44 20v-123l3 9l7 12l9 14l16 15l27 16l39 21l40 19l44 22v-130l4 9l6 12l10 14l16 14l26 16l40 21l40 19l44 21v-126l4 8l6 12l10 13l16 14l26 15l40 19l40 19l44 20v-133l3 9l7 13l9 14l16 14l27 17l40 20l39 20l45 22M332 2199l3 18l5 25l7 29l11 32l15 33l21 34v-261l3 15l5 19l7 22l11 24l15 25l21 26v-447l3 13l5 16l7 17l10 20l15 18l22 18v-121l3 11l6 14l10 18l16 18l27 19l39 20l40 18l44 20v-111l4 10l6 13l10 15l16 15l26 16l40 18l40 18l44 19v-129l4 9l6 12l10 13l15 13l27 15l40 17l40 17l44 18v-115l3 9l7 12l9 14l16 14l27 15l39 19l40 17l44 20v-122l4 9l6 12l10 13l16 14l26 15l40 18l40 18l44 19v-118l4 9l6 11l10 13l16 13l26 14l40 17l40 17l44 18v-124l3 9l7 12l9 13l16 14l27 16l40 18l39 18l45 20M332 2200l3 19l5 25l7 29l11 33l15 34l21 36v-265l3 15l5 19l7 22l11 26l15 26l21 27v-450l3 12l5 17l7 18l10 20l15 19l22 20v-125l3 11l6 14l10 18l16 19l27 19l39 21l40 19l44 21v-115l4 10l6 13l10 15l16 16l26 16l40 20l40 18l44 21v-134l4 9l6 12l10 13l15 14l27 15l40 18l40 18l44 20v-120l3 9l7 12l9 14l16 15l27 15l39 20l40 19l44 20v-126l4 9l6 12l10 14l16 14l26 16l40 19l40 18l44 21v-123l4 9l6 11l10 13l16 14l26 14l40 19l40 17l44 20v-129l3 9l7 12l9 14l16 14l27 16l40 20l39 18l45 21M332 2199l3 20l5 26l7 31l11 36l15 38l21 41v-281l3 16l5 20l7 24l11 28l15 30l21 33v-466l3 13l5 18l7 20l10 23l15 23l22 25v-141l3 11l6 15l10 19l16 20l27 22l39 24l40 22l44 25v-130l4 10l6 13l10 16l16 17l26 19l40 22l40 22l44 24v-149l4 9l6 13l10 14l15 15l27 18l40 21l40 21l44 23v-135l3 10l7 12l9 15l16 16l27 18l39 23l40 22l44 24v-142l4 9l6 13l10 14l16 16l26 18l40 23l40 21l44 25v-139l4 9l6 12l10 14l16 15l26 17l40 21l40 21l44 23v-144l3 9l7 13l9 15l16 15l27 18l40 23l39 22l45 25M332 2200l3 18l5 25l7 29l11 32l15 33l21 33v-259l3 14l5 19l7 22l11 24l15 25l21 25v-444l3 12l5 16l7 18l10 19l15 18l22 18v-120l3 10l6 15l10 17l16 19l27 18l39 20l40 18l44 20v-110l4 10l6 13l10 15l16 15l26 15l40 19l40 17l44 19v-128l4 9l6 11l10 14l15 13l27 14l40 18l40 16l44 18v-114l3 9l7 12l9 13l16 14l27 16l39 18l40 18l44 19v-121l4 9l6 12l10 13l16 14l26 15l40 18l40 17l44 20v-118l4 8l6 12l10 12l16 13l26 15l40 17l40 16l44 18v-123l3 8l7 13l9 13l16 14l27 15l40 19l39 17l45 20M332 2201l3 19l5 25l7 28l11 33l15 32l21 34v-259l3 14l5 19l7 21l11 25l15 25l21 25v-445l3 12l5 17l7 17l10 19l15 19l22 17v-119l3 10l6 15l10 17l16 18l27 19l39 20l40 18l44 20v-110l4 9l6 14l10 14l16 15l26 16l40 18l40 18l44 19v-129l4 9l6 12l10 13l15 14l27 14l40 17l40 17l44 18v-114l3 8l7 13l9 13l16 14l27 15l39 19l40 17l44 20v-121l4 8l6 12l10 14l16 13l26 15l40 19l40 17l44 19v-117l4 8l6 11l10 13l16 13l26 14l40 17l40 17l44 18v-124l3 9l7 12l9 14l16 14l27 15l40 18l39 18l45 20M332 2202l3 19l5 26l7 31l11 36l15 37l21 41v-279l3 15l5 20l7 25l11 28l15 29l21 32v-464l3 13l5 18l7 20l10 22l15 23l22 25v-140l3 11l6 15l10 19l16 20l27 21l39 24l40 23l44 24v-129l4 9l6 14l10 16l16 17l26 18l40 23l40 21l44 24v-148l4 9l6 13l10 14l15 15l27 17l40 22l40 20l44 23v-134l3 10l7 12l9 15l16 16l27 18l39 22l40 22l44 24v-141l4 9l6 13l10 14l16 16l26 18l40 22l40 22l44 24v-138l4 9l6 12l10 14l16 15l26 16l40 22l40 20l44 23v-143l3 9l7 13l9 14l16 16l27 18l40 23l39 22l45 24M332 2202l3 19l5 25l7 30l11 34l15 35l21 37v-269l3 15l5 19l7 23l11 26l15 27l21 29v-454l3 13l5 17l7 19l10 20l15 21l22 21v-129l3 10l6 15l10 18l16 19l27 20l39 22l40 20l44 22v-119l4 10l6 13l10 16l16 15l26 17l40 21l40 19l44 22v-138l4 9l6 12l10 13l15 15l27 15l40 20l40 18l44 21v-124l3 9l7 12l9 14l16 15l27 17l39 20l40 20l44 21v-130l4 9l6 12l10 14l16 15l26 16l40 20l40 19l44 22v-127l4 8l6 12l10 13l16 14l26 16l40 19l40 18l44 21v-133l3 9l7 12l9 14l16 15l27 16l40 21l39 19l45 22M332 2196l3 19l5 26l7 31l11 36l15 38l21 40v-279l3 15l5 21l7 24l11 28l15 29l21 33v-464l3 13l5 17l7 21l10 22l15 23l22 25v-140l3 11l6 15l10 19l16 20l27 21l39 25l40 22l44 25v-130l4 9l6 14l10 16l16 17l26 18l40 23l40 22l44 24v-149l4 9l6 13l10 14l15 15l27 17l40 22l40 21l44 23v-135l3 10l7 12l9 15l16 16l27 18l39 22l40 22l44 25v-142l4 9l6 13l10 14l16 16l26 18l40 22l40 22l44 24v-138l4 9l6 12l10 14l16 15l26 17l40 21l40 21l44 23v-144l3 9l7 13l9 14l16 16l27 18l40 23l39 22l45 25M332 2205l3 19l5 25l7 30l11 34l15 35l21 38v-270l3 15l5 19l7 24l11 26l15 27l21 29v-454l3 13l5 17l7 19l10 21l15 20l22 22v-130l3 10l6 15l10 18l16 19l27 20l39 23l40 20l44 22v-120l4 10l6 13l10 15l16 16l26 18l40 20l40 20l44 22v-140l4 9l6 13l10 13l15 15l27 16l40 19l40 19l44 21v-125l3 9l7 12l9 14l16 15l27 17l39 20l40 20l44 23v-132l4 9l6 12l10 14l16 14l26 17l40 20l40 20l44 22v-128l4 8l6 12l10 13l16 14l26 16l40 19l40 19l44 21v-135l3 9l7 13l9 14l16 15l27 16l40 21l39 20l45 22M332 2192l3 19l5 25l7 28l11 33l15 33l21 34v-260l3 14l5 19l7 22l11 25l15 25l21 25v-445l3 13l5 16l7 18l10 19l15 19l22 18v-121l3 10l6 15l10 17l16 19l27 19l39 20l40 18l44 21v-112l4 10l6 13l10 15l16 15l26 16l40 19l40 17l44 20v-130l4 9l6 12l10 13l15 13l27 15l40 17l40 17l44 19v-116l3 9l7 12l9 14l16 14l27 15l39 19l40 18l44 20v-123l4 9l6 12l10 13l16 14l26 15l40 19l40 18l44 19v-119l4 9l6 11l10 13l16 13l26 14l40 18l40 16l44 19v-125l3 9l7 12l9 13l16 15l27 15l40 19l39 18l45 19M332 2197l3 19l5 25l7 30l11 33l15 35l21 36v-266l3 14l5 20l7 22l11 26l15 27l21 28v-451l3 13l5 17l7 18l10 21l15 20l22 20v-127l3 11l6 15l10 17l16 19l27 20l39 22l40 19l44 22v-117l4 9l6 14l10 15l16 15l26 17l40 20l40 19l44 21v-136l4 9l6 12l10 14l15 14l27 15l40 19l40 18l44 20v-122l3 9l7 13l9 13l16 15l27 16l39 20l40 20l44 21v-129l4 9l6 12l10 14l16 15l26 16l40 19l40 19l44 21v-125l4 9l6 11l10 13l16 14l26 15l40 19l40 18l44 20v-131l3 9l7 12l9 14l16 15l27 16l40 20l39 19l45 22M332 2201l3 19l5 26l7 31l11 35l15 37l21 39v-276l3 15l5 20l7 24l11 28l15 29l21 31v-460l3 13l5 18l7 19l10 23l15 22l22 24v-137l3 11l6 15l10 18l16 20l27 21l39 24l40 22l44 24v-128l4 10l6 14l10 16l16 16l26 18l40 22l40 21l44 24v-146l4 9l6 12l10 14l15 15l27 17l40 21l40 20l44 23v-132l3 9l7 13l9 14l16 16l27 17l39 23l40 21l44 24v-139l4 9l6 13l10 14l16 15l26 18l40 22l40 21l44 23v-135l4 9l6 12l10 13l16 15l26 16l40 21l40 20l44 23v-141l3 9l7 13l9 14l16 15l27 18l40 22l39 22l45 24M332 2199l3 19l5 26l7 30l11 35l15 36l21 39v-274l3 15l5 20l7 24l11 27l15 28l21 31v-458l3 13l5 18l7 19l10 22l15 22l22 23v-135l3 11l6 15l10 18l16 20l27 21l39 23l40 21l44 24v-125l4 10l6 13l10 16l16 16l26 18l40 22l40 20l44 23v-144l4 9l6 13l10 14l15 14l27 17l40 20l40 20l44 22v-129l3 9l7 12l9 15l16 15l27 17l39 22l40 21l44 23v-136l4 9l6 12l10 14l16 15l26 17l40 22l40 20l44 23v-132l4 8l6 12l10 13l16 15l26 16l40 20l40 20l44 22v-139l3 9l7 13l9 14l16 16l27 17l40 21l39 21l45 24M332 2199l3 19l5 25l7 29l11 34l15 34l21 37v-267l3 15l5 19l7 23l11 26l15 26l21 29v-450l3 13l5 16l7 19l10 20l15 20l22 21v-127l3 10l6 15l10 18l16 19l27 20l39 22l40 19l44 22v-118l4 10l6 14l10 15l16 15l26 17l40 20l40 19l44 21v-136l4 9l6 12l10 14l15 14l27 15l40 19l40 18l44 20v-122l3 9l7 13l9 13l16 15l27 16l39 20l40 20l44 21v-129l4 9l6 12l10 14l16 15l26 16l40 19l40 19l44 21v-125l4 9l6 11l10 13l16 14l26 15l40 19l40 18l44 20v-131l3 9l7 12l9 14l16 15l27 16l40 20l39 19l45 22M332 2193l3 19l5 25l7 30l11 33l15 35l21 36v-266l3 14l5 20l7 23l11 26l15 26l21 28v-449l3 13l5 16l7 19l10 21l15 20l22 20v-127l3 11l6 15l10 17l16 19l27 20l39 22l40 20l44 21v-117l4 10l6 13l10 15l16 16l26 17l40 20l40 19l44 21v-137l4 9l6 12l10 14l15 14l27 16l40 18l40 19l44 20v-122l3 9l7 12l9 14l16 14l27 17l39 20l40 19l44 22v-129l4 8l6 13l10 13l16 15l26 16l40 20l40 19l44 21v-125l4 8l6 12l10 13l16 13l26 16l40 18l40 19l44 20v-132l3 9l7 13l9 13l16 15l27 16l40 20l39 20l45 21M332 2198l3 18l5 25l7 30l11 33l15 34l21 36v-265l3 15l5 19l7 23l11 25l15 27l21 27v-448l3 13l5 17l7 18l10 21l15 19l22 21v-126l3 10l6 15l10 18l16 19l27 19l39 22l40 19l44 22v-117l4 10l6 13l10 15l16 16l26 17l40 19l40 19l44 21v-135l4 9l6 12l10 13l15 14l27 16l40 18l40 18l44 20v-121l3 9l7 12l9 14l16 15l27 16l39 20l40 19l44 21v-128l4 9l6 12l10 14l16 14l26 16l40 19l40 19l44 21v-124l4 8l6 12l10 13l16 14l26 15l40 18l40 18l44 20v-130l3 9l7 12l9 14l16 14l27 16l40 20l39 19l45 21M332 2187l3 18l5 25l7 29l11 33l15 33l21 35v-261l3 14l5 19l7 22l11 25l15 25l21 27v-444l3 13l5 16l7 18l10 20l15 19l22 19v-122l3 10l6 15l10 17l16 19l27 19l39 21l40 18l44 21v-113l4 10l6 13l10 15l16 15l26 16l40 19l40 18l44 20v-131l4 9l6 12l10 13l15 14l27 14l40 18l40 17l44 19v-117l3 9l7 12l9 14l16 14l27 16l39 19l40 18l44 20v-124l4 9l6 12l10 13l16 14l26 16l40 18l40 18l44 20v-120l4 9l6 11l10 13l16 13l26 15l40 17l40 17l44 19v-126l3 9l7 12l9 13l16 15l27 15l40 19l39 19l45 20M332 2196l3 20l5 26l7 32l11 36l15 37l21 42v-281l3 15l5 21l7 25l11 28l15 30l21 33v-463l3 13l5 18l7 21l10 23l15 23l22 26v-142l3 11l6 16l10 18l16 20l27 22l39 25l40 23l44 25v-132l4 10l6 14l10 16l16 17l26 19l40 23l40 22l44 24v-150l4 9l6 12l10 15l15 15l27 18l40 22l40 21l44 23v-136l3 9l7 13l9 15l16 16l27 18l39 23l40 22l44 25v-143l4 9l6 13l10 14l16 16l26 18l40 23l40 22l44 25v-140l4 9l6 12l10 13l16 16l26 17l40 22l40 21l44 23v-146l3 10l7 13l9 14l16 16l27 18l40 24l39 22l45 25M332 2203l3 19l5 25l7 30l11 33l15 34l21 36v-265l3 15l5 19l7 23l11 25l15 27l21 28v-448l3 13l5 17l7 18l10 21l15 20l22 20v-126l3 10l6 15l10 18l16 19l27 20l39 21l40 20l44 21v-117l4 10l6 14l10 15l16 15l26 17l40 20l40 19l44 21v-136l4 9l6 12l10 13l15 15l27 15l40 19l40 18l44 20v-122l3 9l7 13l9 13l16 15l27 16l39 20l40 19l44 21v-128l4 9l6 12l10 14l16 14l26 16l40 20l40 19l44 21v-125l4 9l6 11l10 13l16 14l26 15l40 19l40 18l44 20v-131l3 9l7 12l9 14l16 15l27 16l40 20l39 19l45 21M332 2195l3 18l5 24l7 29l11 32l15 31l21 34v-257l3 14l5 19l7 22l11 24l15 24l21 25v-438l3 12l5 16l7 18l10 19l15 17l22 18v-117l3 10l6 15l10 17l16 18l27 18l39 20l40 18l44 19v-108l4 10l6 13l10 15l16 14l26 16l40 18l40 17l44 18v-126l4 8l6 12l10 13l15 14l27 14l40 17l40 16l44 17v-112l3 9l7 12l9 13l16 14l27 15l39 18l40 17l44 19v-119l4 9l6 12l10 13l16 13l26 15l40 18l40 17l44 19v-116l4 8l6 12l10 12l16 13l26 14l40 17l40 16l44 17v-121l3 8l7 12l9 14l16 14l27 15l40 18l39 17l45 19M332 2201l3 18l5 25l7 29l11 33l15 33l21 35v-261l3 14l5 19l7 22l11 25l15 26l21 26v-443l3 13l5 16l7 19l10 19l15 19l22 19v-122l3 10l6 15l10 18l16 18l27 20l39 20l40 19l44 21v-113l4 9l6 14l10 14l16 16l26 16l40 19l40 18l44 20v-132l4 9l6 12l10 13l15 14l27 15l40 18l40 17l44 19v-117l3 8l7 13l9 13l16 15l27 15l39 19l40 18l44 21v-124l4 8l6 12l10 14l16 14l26 15l40 19l40 18l44 20v-120l4 8l6 11l10 13l16 14l26 14l40 18l40 17l44 19v-127l3 9l7 12l9 14l16 14l27 16l40 19l39 18l45 21M332 2191l3 19l5 25l7 30l11 35l15 35l21 38v-270l3 14l5 20l7 23l11 27l15 28l21 30v-453l3 13l5 17l7 20l10 21l15 21l22 23v-132l3 10l6 16l10 17l16 20l27 21l39 22l40 21l44 23v-122l4 9l6 14l10 15l16 17l26 17l40 21l40 20l44 22v-141l4 9l6 12l10 14l15 15l27 16l40 20l40 19l44 21v-126l3 8l7 13l9 14l16 15l27 17l39 21l40 21l44 22v-134l4 9l6 13l10 14l16 15l26 16l40 21l40 20l44 23v-131l4 9l6 12l10 13l16 14l26 16l40 20l40 19l44 21v-136l3 9l7 13l9 14l16 15l27 17l40 21l39 20l45 23M332 2183l3 19l5 25l7 30l11 34l15 35l21 38v-269l3 15l5 19l7 24l11 26l15 27l21 30v-450l3 12l5 17l7 20l10 21l15 21l22 22v-131l3 11l6 15l10 18l16 19l27 21l39 22l40 21l44 23v-122l4 10l6 14l10 15l16 16l26 17l40 21l40 20l44 22v-140l4 9l6 12l10 14l15 14l27 16l40 20l40 19l44 21v-126l3 9l7 13l9 14l16 15l27 16l39 21l40 20l44 23v-133l4 9l6 12l10 14l16 15l26 17l40 20l40 20l44 22v-129l4 9l6 11l10 14l16 14l26 15l40 20l40 19l44 21v-135l3 9l7 12l9 14l16 15l27 17l40 21l39 20l45 23M332 2184l3 18l5 25l7 30l11 32l15 34l21 36v-263l3 14l5 19l7 23l11 25l15 26l21 28v-444l3 13l5 16l7 19l10 20l15 20l22 20v-125l3 10l6 15l10 18l16 19l27 19l39 22l40 19l44 21v-115l4 10l6 13l10 15l16 15l26 17l40 19l40 19l44 20v-133l4 8l6 12l10 14l15 14l27 15l40 18l40 18l44 19v-119l3 9l7 12l9 14l16 14l27 16l39 20l40 18l44 21v-126l4 9l6 12l10 13l16 15l26 15l40 20l40 18l44 21v-123l4 8l6 12l10 13l16 13l26 15l40 18l40 18l44 19v-129l3 9l7 13l9 13l16 15l27 16l40 19l39 19l45 21M332 2193l3 19l5 25l7 28l11 33l15 32l21 34v-258l3 14l5 19l7 22l11 24l15 25l21 26v-439l3 12l5 17l7 18l10 19l15 19l22 18v-120l3 10l6 15l10 17l16 19l27 19l39 20l40 19l44 20v-111l4 10l6 13l10 15l16 15l26 15l40 19l40 18l44 19v-129l4 8l6 12l10 13l15 14l27 14l40 18l40 17l44 18v-115l3 9l7 12l9 13l16 14l27 16l39 18l40 18l44 20v-122l4 9l6 12l10 13l16 14l26 15l40 18l40 18l44 19v-118l4 8l6 12l10 12l16 13l26 15l40 17l40 17l44 18v-125l3 9l7 12l9 14l16 14l27 15l40 19l39 18l45 20M332 2190l3 18l5 25l7 30l11 33l15 34l21 36v-264l3 14l5 20l7 22l11 26l15 26l21 28v-444l3 12l5 17l7 19l10 20l15 20l22 20v-125l3 10l6 15l10 18l16 19l27 20l39 21l40 20l44 21v-116l4 9l6 14l10 15l16 15l26 17l40 20l40 18l44 21v-135l4 9l6 12l10 14l15 14l27 15l40 19l40 17l44 20v-120l3 9l7 12l9 14l16 14l27 16l39 20l40 19l44 21v-127l4 8l6 13l10 13l16 15l26 15l40 20l40 19l44 20v-123l4 8l6 12l10 12l16 14l26 15l40 19l40 17l44 20v-130l3 9l7 12l9 14l16 15l27 16l40 20l39 19l45 21M332 2176l3 18l5 24l7 27l11 31l15 31l21 31v-250l3 14l5 18l7 21l11 23l15 23l21 23v-430l3 12l5 16l7 17l10 18l15 17l22 16v-112l3 10l6 14l10 17l16 18l27 18l39 18l40 17l44 18v-103l4 10l6 13l10 14l16 15l26 14l40 17l40 16l44 17v-121l4 9l6 11l10 13l15 13l27 13l40 16l40 15l44 16v-107l3 9l7 12l9 13l16 13l27 14l39 17l40 16l44 18v-114l4 9l6 12l10 12l16 14l26 14l40 16l40 16l44 18v-111l4 8l6 12l10 12l16 12l26 13l40 16l40 15l44 16v-116l3 9l7 11l9 14l16 13l27 14l40 17l39 16l45 18M332 2183l3 18l5 24l7 29l11 31l15 31l21 32v-253l3 14l5 19l7 21l11 24l15 24l21 24v-433l3 12l5 15l7 18l10 19l15 17l22 17v-115l3 10l6 15l10 17l16 18l27 18l39 19l40 18l44 19v-106l4 9l6 14l10 14l16 15l26 15l40 17l40 17l44 18v-124l4 8l6 12l10 13l15 13l27 14l40 16l40 16l44 17v-110l3 8l7 12l9 14l16 13l27 15l39 17l40 17l44 19v-117l4 8l6 12l10 13l16 14l26 14l40 17l40 17l44 18v-113l4 8l6 11l10 13l16 12l26 14l40 16l40 16l44 17v-120l3 9l7 12l9 13l16 14l27 15l40 17l39 17l45 18M332 2184l3 19l5 25l7 30l11 35l15 35l21 38v-270l3 15l5 20l7 23l11 27l15 27l21 30v-449l3 13l5 17l7 19l10 22l15 21l22 23v-132l3 11l6 15l10 18l16 19l27 21l39 23l40 21l44 22v-122l4 10l6 14l10 15l16 16l26 17l40 21l40 20l44 23v-141l4 9l6 12l10 14l15 14l27 16l40 20l40 19l44 22v-127l3 9l7 13l9 14l16 15l27 17l39 21l40 20l44 22v-133l4 9l6 12l10 14l16 15l26 17l40 21l40 20l44 22v-130l4 9l6 11l10 14l16 14l26 16l40 19l40 19l44 21v-135l3 9l7 12l9 14l16 15l27 17l40 21l39 21l45 22M332 2178l3 19l5 25l7 28l11 33l15 33l21 34v-259l3 14l5 19l7 22l11 25l15 25l21 26v-439l3 13l5 16l7 18l10 20l15 19l22 19v-121l3 10l6 15l10 17l16 19l27 19l39 21l40 18l44 21v-112l4 9l6 14l10 15l16 15l26 16l40 18l40 18l44 20v-130l4 8l6 12l10 13l15 14l27 15l40 17l40 17l44 19v-116l3 9l7 12l9 13l16 14l27 16l39 19l40 18l44 20v-123l4 8l6 12l10 14l16 14l26 15l40 19l40 18l44 19v-119l4 8l6 11l10 13l16 13l26 15l40 17l40 17l44 19v-126l3 9l7 12l9 14l16 14l27 16l40 18l39 19l45 20M332 2170l3 19l5 25l7 30l11 34l15 34l21 37v-266l3 14l5 20l7 23l11 26l15 27l21 28v-445l3 13l5 16l7 20l10 20l15 21l22 21v-128l3 11l6 15l10 18l16 19l27 20l39 22l40 20l44 22v-118l4 9l6 14l10 15l16 16l26 17l40 20l40 19l44 21v-137l4 9l6 12l10 14l15 14l27 16l40 19l40 18l44 20v-123l3 9l7 13l9 14l16 14l27 17l39 20l40 19l44 22v-130l4 9l6 12l10 14l16 15l26 16l40 20l40 19l44 22v-127l4 9l6 11l10 13l16 14l26 16l40 19l40 18l44 20v-132l3 9l7 12l9 14l16 15l27 16l40 21l39 19l45 22M332 2176l3 19l5 26l7 30l11 35l15 36l21 39v-273l3 15l5 20l7 24l11 27l15 28l21 31v-451l3 13l5 17l7 20l10 22l15 22l22 23v-134l3 11l6 15l10 18l16 20l27 21l39 23l40 22l44 23v-125l4 10l6 14l10 15l16 17l26 17l40 22l40 21l44 23v-144l4 9l6 12l10 14l15 15l27 16l40 21l40 20l44 22v-130l3 9l7 13l9 14l16 15l27 18l39 21l40 21l44 23v-136l4 9l6 13l10 14l16 15l26 17l40 21l40 21l44 23v-133l4 9l6 12l10 13l16 14l26 17l40 20l40 20l44 21v-138l3 9l7 12l9 15l16 15l27 17l40 22l39 21l45 23M332 2181l3 19l5 26l7 29l11 34l15 35l21 37v-267l3 14l5 20l7 23l11 27l15 27l21 29v-447l3 13l5 17l7 19l10 22l15 21l22 22v-130l3 10l6 15l10 18l16 20l27 20l39 23l40 20l44 23v-121l4 10l6 13l10 16l16 15l26 18l40 20l40 20l44 22v-139l4 8l6 13l10 13l15 15l27 16l40 19l40 19l44 21v-125l3 9l7 12l9 14l16 15l27 17l39 21l40 19l44 23v-132l4 9l6 12l10 14l16 15l26 16l40 20l40 20l44 22v-128l4 8l6 12l10 13l16 14l26 16l40 19l40 19l44 21v-135l3 9l7 13l9 14l16 15l27 17l40 20l39 20l45 22M332 2180l3 18l5 25l7 29l11 33l15 34l21 36v-263l3 15l5 19l7 22l11 26l15 26l21 27v-441l3 12l5 17l7 19l10 20l15 20l22 20v-124l3 10l6 15l10 17l16 19l27 20l39 22l40 19l44 21v-115l4 9l6 14l10 15l16 15l26 17l40 19l40 19l44 20v-134l4 9l6 12l10 14l15 14l27 15l40 18l40 18l44 19v-119l3 8l7 13l9 13l16 15l27 16l39 19l40 19l44 21v-126l4 8l6 12l10 14l16 14l26 16l40 19l40 19l44 21v-123l4 8l6 11l10 13l16 14l26 15l40 18l40 18l44 19v-129l3 9l7 12l9 14l16 15l27 16l40 19l39 19l45 21M332 2177l3 19l5 27l7 31l11 36l15 37l21 41v-278l3 15l5 20l7 25l11 28l15 30l21 33v-457l3 13l5 18l7 21l10 23l15 24l22 26v-141l3 10l6 16l10 18l16 21l27 22l39 25l40 23l44 25v-132l4 10l6 14l10 16l16 17l26 18l40 23l40 23l44 24v-150l4 9l6 12l10 14l15 16l27 17l40 22l40 21l44 24v-136l3 9l7 13l9 14l16 16l27 19l39 23l40 22l44 25v-143l4 9l6 13l10 14l16 16l26 18l40 23l40 22l44 24v-139l4 8l6 13l10 13l16 15l26 18l40 21l40 21l44 24v-146l3 9l7 13l9 15l16 16l27 18l40 23l39 23l45 25M332 2183l3 19l5 25l7 30l11 34l15 34l21 38v-268l3 15l5 20l7 23l11 26l15 27l21 29v-445l3 13l5 17l7 19l10 21l15 21l22 22v-129l3 10l6 15l10 18l16 20l27 20l39 23l40 20l44 23v-121l4 10l6 13l10 16l16 16l26 17l40 20l40 20l44 22v-139l4 8l6 13l10 13l15 15l27 16l40 19l40 19l44 21v-125l3 9l7 12l9 14l16 15l27 17l39 20l40 20l44 22v-131l4 9l6 12l10 14l16 15l26 16l40 20l40 20l44 22v-128l4 8l6 12l10 13l16 14l26 16l40 19l40 19l44 21v-135l3 9l7 13l9 14l16 15l27 17l40 20l39 20l45 22M332 2183l3 19l5 25l7 28l11 33l15 33l21 34v-259l3 14l5 19l7 23l11 24l15 26l21 26v-437l3 13l5 16l7 19l10 19l15 19l22 20v-122l3 11l6 15l10 17l16 19l27 19l39 21l40 18l44 21v-112l4 9l6 14l10 14l16 16l26 16l40 18l40 18l44 20v-131l4 9l6 12l10 13l15 14l27 15l40 17l40 17l44 19v-116l3 8l7 13l9 13l16 14l27 16l39 19l40 18l44 20v-123l4 8l6 12l10 14l16 14l26 15l40 19l40 18l44 19v-119l4 8l6 11l10 13l16 13l26 15l40 17l40 17l44 19v-126l3 9l7 12l9 14l16 14l27 15l40 19l39 19l45 20M332 2178l3 19l5 25l7 30l11 34l15 35l21 37v-267l3 14l5 20l7 23l11 26l15 28l21 29v-445l3 13l5 17l7 19l10 21l15 21l22 22v-129l3 10l6 15l10 18l16 20l27 20l39 23l40 20l44 23v-121l4 10l6 13l10 16l16 16l26 17l40 20l40 20l44 22v-139l4 9l6 12l10 13l15 15l27 16l40 19l40 19l44 21v-125l3 9l7 12l9 14l16 15l27 17l39 21l40 20l44 22v-132l4 9l6 12l10 14l16 15l26 16l40 21l40 19l44 22v-128l4 8l6 12l10 13l16 14l26 16l40 19l40 19l44 21v-134l3 8l7 13l9 14l16 15l27 17l40 20l39 20l45 23M332 2183l3 18l5 26l7 29l11 34l15 34l21 36v-265l3 15l5 19l7 23l11 26l15 27l21 28v-442l3 12l5 17l7 19l10 21l15 21l22 21v-127l3 10l6 15l10 18l16 19l27 20l39 22l40 20l44 22v-118l4 10l6 13l10 15l16 16l26 17l40 20l40 19l44 21v-136l4 9l6 12l10 13l15 14l27 16l40 19l40 18l44 20v-122l3 9l7 12l9 14l16 15l27 16l39 20l40 20l44 21v-129l4 9l6 12l10 14l16 14l26 16l40 20l40 19l44 22v-126l4 8l6 12l10 13l16 14l26 15l40 19l40 18l44 20v-131l3 8l7 13l9 14l16 15l27 16l40 20l39 19l45 22M332 2178l3 18l5 24l7 29l11 31l15 32l21 33v-255l3 14l5 19l7 22l11 24l15 24l21 25v-432l3 12l5 16l7 18l10 19l15 18l22 18v-117l3 10l6 15l10 17l16 19l27 18l39 20l40 18l44 20v-109l4 10l6 13l10 15l16 15l26 15l40 18l40 17l44 19v-127l4 9l6 12l10 13l15 13l27 14l40 17l40 16l44 18v-113l3 9l7 12l9 13l16 14l27 15l39 18l40 17l44 20v-120l4 9l6 12l10 13l16 14l26 14l40 18l40 17l44 19v-116l4 9l6 11l10 12l16 13l26 14l40 17l40 16l44 18v-122l3 9l7 12l9 13l16 14l27 15l40 18l39 17l45 19M332 2176l3 19l5 25l7 29l11 33l15 33l21 36v-262l3 14l5 20l7 22l11 26l15 26l21 27v-439l3 12l5 17l7 19l10 20l15 20l22 20v-124l3 11l6 14l10 18l16 19l27 20l39 21l40 20l44 21v-116l4 10l6 14l10 14l16 16l26 16l40 20l40 18l44 21v-134l4 9l6 12l10 13l15 14l27 15l40 19l40 17l44 20v-120l3 9l7 12l9 14l16 15l27 16l39 19l40 19l44 21v-127l4 9l6 12l10 14l16 14l26 16l40 19l40 19l44 20v-123l4 9l6 11l10 13l16 14l26 15l40 18l40 17l44 20v-129l3 9l7 12l9 14l16 14l27 16l40 20l39 19l45 21M332 2164l3 19l5 25l7 29l11 32l15 33l21 35v-260l3 15l5 19l7 22l11 25l15 26l21 26v-437l3 13l5 16l7 19l10 20l15 19l22 20v-122l3 10l6 15l10 17l16 19l27 20l39 21l40 19l44 21v-114l4 10l6 13l10 15l16 15l26 16l40 19l40 18l44 21v-132l4 8l6 12l10 14l15 13l27 15l40 18l40 17l44 20v-118l3 9l7 12l9 13l16 15l27 15l39 20l40 18l44 20v-124l4 9l6 12l10 13l16 14l26 16l40 18l40 19l44 20v-121l4 8l6 12l10 12l16 14l26 14l40 18l40 17l44 19v-127l3 9l7 12l9 14l16 14l27 16l40 19l39 19l45 20M332 2181l3 17l5 24l7 27l11 31l15 29l21 30v-245l3 13l5 18l7 21l11 22l15 23l21 21v-423l3 12l5 16l7 17l10 17l15 16l22 15v-108l3 10l6 14l10 17l16 18l27 17l39 18l40 16l44 18v-100l4 10l6 12l10 14l16 15l26 14l40 16l40 15l44 17v-118l4 8l6 12l10 12l15 13l27 13l40 15l40 14l44 16v-104l3 9l7 11l9 13l16 13l27 14l39 16l40 15l44 17v-110l4 8l6 12l10 13l16 13l26 13l40 16l40 15l44 17v-107l4 8l6 11l10 12l16 12l26 13l40 15l40 14l44 15v-112l3 8l7 12l9 13l16 13l27 14l40 16l39 15l45 17M332 2177l3 18l5 25l7 29l11 33l15 33l21 34v-259l3 14l5 19l7 22l11 26l15 25l21 27v-437l3 12l5 17l7 18l10 20l15 20l22 19v-122l3 10l6 15l10 18l16 19l27 19l39 21l40 19l44 21v-114l4 10l6 13l10 15l16 16l26 16l40 19l40 18l44 20v-132l4 9l6 12l10 13l15 14l27 15l40 18l40 17l44 19v-118l3 9l7 12l9 14l16 14l27 16l39 19l40 18l44 21v-125l4 9l6 12l10 14l16 14l26 15l40 19l40 18l44 20v-121l4 9l6 11l10 13l16 13l26 15l40 18l40 17l44 19v-127l3 9l7 12l9 14l16 14l27 16l40 19l39 18l45 20M332 2177l3 18l5 25l7 29l11 32l15 33l21 35v-259l3 14l5 19l7 22l11 25l15 26l21 26v-436l3 12l5 17l7 18l10 20l15 19l22 20v-122l3 11l6 14l10 18l16 19l27 19l39 21l40 19l44 20v-112l4 9l6 14l10 14l16 16l26 16l40 18l40 18l44 20v-131l4 9l6 12l10 13l15 14l27 15l40 17l40 17l44 19v-116l3 8l7 12l9 14l16 14l27 16l39 19l40 18l44 20v-124l4 9l6 12l10 14l16 14l26 15l40 19l40 18l44 20v-121l4 9l6 11l10 13l16 13l26 15l40 17l40 17l44 19v-126l3 9l7 12l9 14l16 14l27 15l40 19l39 19l45 20M332 2173l3 19l5 25l7 28l11 33l15 32l21 34v-257l3 14l5 19l7 22l11 24l15 25l21 26v-434l3 12l5 16l7 19l10 19l15 19l22 19v-120l3 10l6 15l10 17l16 19l27 19l39 21l40 18l44 21v-112l4 10l6 13l10 15l16 15l26 16l40 19l40 17l44 20v-130l4 9l6 12l10 13l15 13l27 15l40 17l40 17l44 19v-116l3 9l7 12l9 14l16 14l27 15l39 19l40 18l44 20v-123l4 9l6 12l10 13l16 14l26 15l40 19l40 17l44 20v-119l4 9l6 11l10 13l16 13l26 14l40 18l40 16l44 19v-125l3 9l7 12l9 13l16 15l27 15l40 19l39 17l45 20M332 2170l3 18l5 24l7 28l11 30l15 31l21 30v-248l3 14l5 18l7 21l11 23l15 23l21 23v-425l3 12l5 15l7 17l10 18l15 17l22 16v-111l3 10l6 15l10 16l16 18l27 18l39 19l40 16l44 18v-102l4 10l6 13l10 14l16 14l26 15l40 16l40 16l44 17v-120l4 8l6 12l10 13l15 13l27 13l40 15l40 15l44 16v-106l3 9l7 12l9 13l16 13l27 14l39 17l40 15l44 18v-113l4 9l6 11l10 13l16 13l26 14l40 16l40 16l44 17v-109l4 8l6 11l10 13l16 12l26 13l40 15l40 15l44 16v-115l3 8l7 12l9 13l16 14l27 14l40 16l39 16l45 18M332 2178l3 18l5 25l7 29l11 32l15 33l21 34v-258l3 14l5 19l7 22l11 25l15 25l21 26v-435l3 13l5 16l7 18l10 20l15 19l22 19v-120l3 10l6 15l10 17l16 19l27 19l39 21l40 18l44 21v-112l4 10l6 13l10 15l16 15l26 16l40 18l40 18l44 20v-130l4 8l6 12l10 13l15 14l27 15l40 17l40 17l44 19v-116l3 9l7 12l9 13l16 15l27 15l39 19l40 18l44 20v-123l4 9l6 12l10 13l16 14l26 15l40 19l40 18l44 19v-119l4 8l6 12l10 12l16 14l26 14l40 17l40 17l44 19v-126l3 9l7 12l9 14l16 14l27 16l40 18l39 19l45 20M332 2179l3 18l5 25l7 29l11 33l15 33l21 35v-260l3 14l5 19l7 23l11 25l15 26l21 26v-436l3 12l5 17l7 18l10 20l15 20l22 20v-123l3 10l6 15l10 18l16 19l27 19l39 21l40 20l44 21v-115l4 10l6 13l10 15l16 16l26 16l40 19l40 18l44 21v-133l4 9l6 12l10 13l15 14l27 15l40 18l40 17l44 20v-119l3 9l7 12l9 14l16 14l27 16l39 19l40 19l44 21v-126l4 9l6 12l10 14l16 14l26 15l40 19l40 19l44 20v-122l4 9l6 11l10 13l16 13l26 15l40 18l40 17l44 20v-128l3 9l7 12l9 14l16 14l27 16l40 19l39 19l45 20M332 2183l3 18l5 25l7 29l11 33l15 34l21 35v-261l3 14l5 19l7 23l11 25l15 26l21 27v-437l3 12l5 17l7 19l10 20l15 20l22 20v-124l3 10l6 15l10 18l16 19l27 20l39 21l40 20l44 21v-115l4 9l6 14l10 15l16 15l26 16l40 20l40 18l44 21v-134l4 9l6 12l10 13l15 14l27 15l40 19l40 17l44 20v-120l3 9l7 13l9 13l16 15l27 16l39 19l40 19l44 21v-127l4 9l6 12l10 14l16 14l26 16l40 19l40 19l44 20v-123l4 9l6 11l10 13l16 14l26 15l40 18l40 17l44 20v-129l3 9l7 12l9 14l16 14l27 16l40 20l39 19l45 21M332 2178l3 18l5 24l7 28l11 31l15 31l21 32v-251l3 14l5 18l7 22l11 23l15 24l21 24v-428l3 12l5 16l7 18l10 19l15 17l22 17v-114l3 10l6 15l10 17l16 18l27 18l39 20l40 17l44 19v-106l4 10l6 13l10 14l16 15l26 15l40 17l40 17l44 18v-124l4 9l6 11l10 13l15 13l27 14l40 16l40 16l44 17v-110l3 9l7 12l9 13l16 14l27 14l39 18l40 16l44 19v-117l4 9l6 12l10 13l16 13l26 14l40 18l40 16l44 18v-113l4 8l6 12l10 12l16 13l26 13l40 16l40 16l44 17v-119l3 9l7 12l9 13l16 13l27 15l40 17l39 17l45 19M332 2169l3 19l5 25l7 30l11 33l15 35l21 36v-265l3 15l5 20l7 23l11 26l15 26l21 29v-441l3 13l5 17l7 19l10 21l15 21l22 22v-128l3 11l6 15l10 17l16 20l27 20l39 22l40 21l44 22v-119l4 9l6 14l10 15l16 16l26 17l40 20l40 19l44 22v-138l4 9l6 12l10 14l15 14l27 16l40 19l40 18l44 21v-123l3 8l7 13l9 14l16 15l27 16l39 20l40 20l44 22v-130l4 8l6 13l10 13l16 15l26 16l40 20l40 20l44 21v-126l4 8l6 12l10 13l16 14l26 15l40 19l40 18l44 21v-133l3 9l7 12l9 14l16 15l27 17l40 20l39 20l45 21M332 2171l3 19l5 24l7 28l11 31l15 31l21 31v-250l3 14l5 18l7 21l11 24l15 23l21 24v-426l3 12l5 16l7 17l10 19l15 17l22 17v-113l3 10l6 14l10 17l16 18l27 19l39 19l40 17l44 19v-105l4 10l6 13l10 14l16 15l26 14l40 18l40 16l44 18v-123l4 8l6 12l10 13l15 13l27 13l40 16l40 16l44 17v-109l3 9l7 12l9 13l16 13l27 15l39 17l40 16l44 19v-116l4 9l6 11l10 13l16 14l26 14l40 17l40 16l44 18v-112l4 8l6 11l10 13l16 12l26 14l40 16l40 15l44 17v-118l3 8l7 12l9 13l16 14l27 14l40 18l39 16l45 18M332 2177l3 18l5 25l7 29l11 32l15 33l21 34v-258l3 14l5 19l7 23l11 24l15 26l21 26v-434l3 13l5 16l7 18l10 20l15 20l22 19v-121l3 10l6 15l10 17l16 19l27 20l39 20l40 19l44 21v-113l4 10l6 13l10 15l16 15l26 16l40 19l40 18l44 20v-131l4 9l6 12l10 13l15 14l27 14l40 18l40 17l44 19v-117l3 9l7 12l9 14l16 14l27 16l39 18l40 19l44 20v-124l4 9l6 12l10 13l16 15l26 15l40 18l40 18l44 20v-120l4 9l6 11l10 13l16 13l26 15l40 17l40 17l44 19v-126l3 9l7 12l9 13l16 15l27 15l40 19l39 18l45 21M332 2173l3 19l5 26l7 30l11 34l15 36l21 38v-269l3 14l5 20l7 24l11 27l15 28l21 30v-445l3 13l5 17l7 20l10 22l15 22l22 24v-133l3 10l6 15l10 18l16 20l27 21l39 24l40 21l44 24v-125l4 10l6 14l10 15l16 16l26 18l40 21l40 21l44 22v-142l4 9l6 12l10 14l15 15l27 16l40 20l40 20l44 21v-128l3 9l7 13l9 14l16 15l27 17l39 22l40 20l44 23v-135l4 9l6 12l10 14l16 15l26 17l40 22l40 20l44 23v-132l4 8l6 12l10 14l16 14l26 16l40 20l40 20l44 21v-137l3 9l7 12l9 14l16 16l27 17l40 21l39 21l45 23M332 2171l3 18l5 24l7 29l11 31l15 32l21 33v-254l3 14l5 19l7 22l11 24l15 24l21 25v-430l3 13l5 16l7 18l10 19l15 18l22 19v-118l3 11l6 14l10 17l16 19l27 19l39 20l40 18l44 20v-109l4 9l6 14l10 14l16 15l26 16l40 18l40 17l44 19v-127l4 8l6 12l10 13l15 13l27 15l40 16l40 17l44 18v-113l3 9l7 12l9 13l16 14l27 15l39 18l40 17l44 19v-119l4 8l6 12l10 13l16 14l26 15l40 18l40 17l44 19v-116l4 8l6 11l10 13l16 13l26 14l40 17l40 16l44 17v-122l3 9l7 12l9 14l16 13l27 15l40 19l39 17l45 19M332 2168l3 18l5 25l7 28l11 32l15 32l21 34v-256l3 14l5 19l7 22l11 25l15 24l21 26v-431l3 12l5 16l7 19l10 19l15 19l22 18v-118l3 10l6 15l10 17l16 19l27 19l39 20l40 18l44 20v-110l4 10l6 13l10 15l16 15l26 15l40 19l40 17l44 19v-128l4 9l6 11l10 14l15 13l27 14l40 18l40 16l44 18v-114l3 9l7 12l9 14l16 14l27 15l39 18l40 18l44 19v-121l4 9l6 12l10 13l16 14l26 15l40 18l40 17l44 20v-118l4 8l6 12l10 12l16 14l26 14l40 17l40 16l44 18v-123l3 9l7 12l9 13l16 14l27 15l40 19l39 17l45 20M332 2173l3 19l5 26l7 30l11 34l15 35l21 37v-267l3 14l5 20l7 24l11 26l15 28l21 29v-443l3 13l5 17l7 20l10 22l15 21l22 23v-131l3 11l6 15l10 18l16 20l27 20l39 23l40 21l44 23v-122l4 10l6 13l10 16l16 16l26 17l40 21l40 20l44 22v-140l4 8l6 13l10 13l15 15l27 16l40 20l40 19l44 21v-126l3 9l7 12l9 14l16 15l27 17l39 21l40 21l44 22v-133l4 9l6 12l10 14l16 15l26 17l40 20l40 20l44 23v-130l4 8l6 12l10 13l16 14l26 16l40 20l40 19l44 21v-136l3 9l7 13l9 14l16 15l27 17l40 21l39 20l45 23M332 2168l3 18l5 25l7 29l11 32l15 32l21 33v-255l3 14l5 19l7 22l11 24l15 25l21 26v-430l3 12l5 17l7 18l10 19l15 19l22 19v-119l3 11l6 14l10 18l16 18l27 19l39 21l40 18l44 21v-111l4 10l6 13l10 15l16 15l26 15l40 19l40 17l44 20v-129l4 8l6 12l10 13l15 14l27 14l40 18l40 16l44 19v-115l3 9l7 12l9 13l16 14l27 16l39 18l40 18l44 19v-121l4 9l6 12l10 13l16 14l26 15l40 18l40 17l44 20v-118l4 8l6 12l10 12l16 13l26 15l40 17l40 16l44 19v-125l3 9l7 12l9 14l16 14l27 15l40 19l39 17l45 20M332 2175l3 19l5 24l7 29l11 32l15 33l21 33v-256l3 14l5 19l7 22l11 25l15 25l21 26v-430l3 12l5 16l7 19l10 19l15 19l22 20v-120l3 10l6 15l10 17l16 19l27 19l39 21l40 19l44 20v-111l4 9l6 14l10 14l16 16l26 15l40 19l40 17l44 20v-130l4 9l6 12l10 13l15 14l27 14l40 18l40 16l44 19v-115l3 8l7 13l9 13l16 14l27 16l39 18l40 18l44 20v-122l4 8l6 12l10 14l16 14l26 15l40 18l40 18l44 19v-118l4 8l6 11l10 13l16 13l26 14l40 18l40 16l44 19v-125l3 9l7 12l9 14l16 14l27 15l40 19l39 18l45 20M332 2171l3 19l5 25l7 29l11 33l15 33l21 35v-260l3 14l5 20l7 22l11 26l15 25l21 28v-434l3 12l5 17l7 19l10 20l15 20l22 21v-124l3 11l6 15l10 17l16 19l27 20l39 21l40 20l44 21v-115l4 10l6 13l10 15l16 16l26 16l40 19l40 19l44 20v-133l4 9l6 12l10 13l15 14l27 15l40 18l40 18l44 19v-119l3 9l7 12l9 14l16 14l27 16l39 20l40 18l44 21v-126l4 9l6 12l10 13l16 15l26 15l40 20l40 18l44 21v-123l4 8l6 12l10 13l16 13l26 15l40 18l40 18l44 19v-128l3 8l7 13l9 13l16 15l27 16l40 19l39 19l45 21M332 2157l3 18l5 26l7 30l11 34l15 35l21 37v-266l3 14l5 20l7 23l11 27l15 27l21 29v-440l3 13l5 18l7 19l10 22l15 21l22 23v-130l3 11l6 15l10 18l16 19l27 21l39 23l40 21l44 23v-122l4 10l6 13l10 16l16 16l26 17l40 21l40 19l44 22v-139l4 8l6 13l10 13l15 15l27 16l40 19l40 19l44 21v-125l3 9l7 12l9 14l16 15l27 17l39 21l40 20l44 22v-132l4 9l6 12l10 14l16 15l26 16l40 21l40 20l44 22v-129l4 8l6 12l10 13l16 14l26 16l40 20l40 18l44 21v-135l3 9l7 13l9 14l16 15l27 17l40 21l39 20l45 22M332 2174l3 18l5 23l7 27l11 29l15 29l21 28v-240l3 13l5 18l7 20l11 22l15 22l21 20v-413l3 11l5 16l7 16l10 17l15 16l22 14v-104l3 10l6 14l10 17l16 17l27 17l39 17l40 16l44 16v-95l4 9l6 13l10 14l16 13l26 14l40 15l40 14l44 16v-114l4 9l6 11l10 12l15 13l27 12l40 14l40 13l44 15v-99l3 8l7 12l9 12l16 13l27 13l39 15l40 15l44 16v-107l4 9l6 11l10 13l16 12l26 13l40 15l40 15l44 16v-104l4 8l6 11l10 12l16 12l26 12l40 14l40 13l44 15v-109l3 9l7 11l9 13l16 13l27 13l40 15l39 15l45 16M332 2162l3 18l5 24l7 28l11 32l15 31l21 32v-251l3 14l5 19l7 21l11 24l15 24l21 24v-423l3 12l5 16l7 18l10 19l15 18l22 18v-115l3 11l6 14l10 17l16 19l27 18l39 20l40 17l44 20v-107l4 10l6 13l10 14l16 15l26 15l40 18l40 16l44 18v-124l4 9l6 11l10 13l15 13l27 14l40 17l40 15l44 17v-110l3 9l7 12l9 13l16 14l27 14l39 18l40 17l44 18v-117l4 9l6 12l10 13l16 13l26 15l40 17l40 16l44 19v-114l4 8l6 12l10 12l16 13l26 13l40 17l40 15l44 17v-119l3 8l7 12l9 14l16 13l27 15l40 18l39 16l45 19M332 2158l3 18l5 24l7 28l11 31l15 31l21 31v-248l3 13l5 19l7 21l11 24l15 23l21 24v-421l3 12l5 16l7 18l10 18l15 18l22 17v-113l3 10l6 15l10 17l16 18l27 18l39 20l40 17l44 19v-105l4 10l6 13l10 14l16 15l26 15l40 17l40 16l44 18v-123l4 8l6 12l10 13l15 13l27 14l40 16l40 15l44 17v-109l3 9l7 12l9 13l16 13l27 15l39 17l40 16l44 19v-116l4 9l6 11l10 13l16 14l26 14l40 17l40 16l44 18v-112l4 8l6 11l10 13l16 12l26 14l40 16l40 15l44 17v-118l3 8l7 12l9 13l16 14l27 14l40 18l39 16l45 18M332 2161l3 18l5 24l7 28l11 31l15 30l21 32v-249l3 14l5 19l7 21l11 23l15 23l21 24v-420l3 12l5 16l7 17l10 19l15 17l22 17v-112l3 10l6 15l10 17l16 18l27 18l39 19l40 18l44 18v-104l4 10l6 13l10 14l16 15l26 14l40 17l40 16l44 18v-122l4 8l6 12l10 13l15 13l27 13l40 16l40 15l44 17v-108l3 9l7 12l9 13l16 13l27 15l39 17l40 16l44 18v-115l4 9l6 11l10 13l16 14l26 14l40 17l40 16l44 17v-111l4 8l6 11l10 13l16 12l26 14l40 15l40 15l44 17v-117l3 8l7 12l9 13l16 14l27 14l40 17l39 17l45 18M332 2163l3 18l5 24l7 28l11 32l15 31l21 31v-250l3 14l5 19l7 21l11 24l15 24l21 24v-422l3 12l5 16l7 18l10 19l15 18l22 17v-114l3 10l6 15l10 17l16 18l27 19l39 19l40 18l44 19v-106l4 10l6 13l10 14l16 15l26 15l40 17l40 17l44 18v-124l4 9l6 11l10 13l15 13l27 14l40 16l40 16l44 17v-110l3 9l7 12l9 13l16 14l27 14l39 18l40 16l44 19v-117l4 9l6 12l10 13l16 13l26 14l40 18l40 16l44 18v-113l4 8l6 12l10 12l16 13l26 13l40 16l40 16l44 17v-119l3 8l7 12l9 14l16 13l27 15l40 17l39 17l45 19M332 2159l3 18l5 24l7 28l11 31l15 32l21 31v-250l3 14l5 19l7 21l11 24l15 24l21 24v-422l3 12l5 16l7 18l10 19l15 18l22 17v-114l3 11l6 14l10 17l16 19l27 18l39 20l40 17l44 19v-106l4 10l6 13l10 14l16 15l26 15l40 18l40 16l44 18v-124l4 9l6 11l10 13l15 13l27 14l40 16l40 16l44 17v-110l3 9l7 12l9 13l16 14l27 14l39 18l40 17l44 18v-117l4 9l6 12l10 13l16 13l26 15l40 17l40 16l44 19v-114l4 8l6 12l10 12l16 13l26 13l40 17l40 15l44 17v-119l3 9l7 12l9 13l16 13l27 15l40 18l39 16l45 19M332 2158l3 19l5 25l7 29l11 32l15 34l21 35v-259l3 14l5 19l7 23l11 25l15 26l21 27v-430l3 12l5 17l7 19l10 20l15 20l22 21v-123l3 10l6 15l10 18l16 19l27 20l39 21l40 20l44 21v-115l4 10l6 13l10 15l16 15l26 17l40 19l40 18l44 21v-133l4 8l6 12l10 14l15 14l27 15l40 18l40 17l44 20v-119l3 9l7 12l9 14l16 14l27 16l39 19l40 19l44 21v-126l4 9l6 12l10 13l16 15l26 15l40 19l40 19l44 20v-122l4 8l6 12l10 13l16 13l26 15l40 18l40 17l44 20v-129l3 9l7 13l9 13l16 15l27 16l40 19l39 19l45 20M332 2158l3 18l5 24l7 28l11 31l15 31l21 32v-250l3 14l5 19l7 21l11 24l15 23l21 24v-421l3 13l5 16l7 17l10 19l15 18l22 17v-113l3 10l6 15l10 17l16 18l27 19l39 19l40 17l44 20v-106l4 10l6 13l10 14l16 15l26 15l40 17l40 16l44 18v-123l4 8l6 12l10 13l15 13l27 14l40 16l40 15l44 17v-109l3 9l7 12l9 13l16 13l27 15l39 17l40 17l44 18v-116l4 9l6 11l10 13l16 14l26 14l40 17l40 17l44 18v-113l4 8l6 11l10 13l16 12l26 14l40 16l40 15l44 17v-118l3 8l7 12l9 13l16 14l27 15l40 17l39 17l45 18M332 2167l3 18l5 25l7 29l11 32l15 33l21 34v-257l3 14l5 19l7 23l11 25l15 25l21 27v-429l3 13l5 17l7 18l10 20l15 20l22 20v-121l3 10l6 15l10 18l16 19l27 19l39 21l40 19l44 21v-113l4 10l6 13l10 15l16 15l26 16l40 19l40 18l44 20v-131l4 8l6 12l10 14l15 14l27 14l40 18l40 17l44 19v-117l3 9l7 12l9 14l16 14l27 16l39 19l40 18l44 20v-124l4 9l6 12l10 13l16 14l26 16l40 18l40 19l44 20v-121l4 8l6 12l10 13l16 13l26 14l40 18l40 17l44 19v-126l3 8l7 13l9 13l16 15l27 15l40 19l39 19l45 20M332 2156l3 19l5 25l7 29l11 32l15 34l21 34v-258l3 14l5 19l7 23l11 25l15 26l21 27v-429l3 13l5 16l7 19l10 21l15 20l22 21v-123l3 10l6 15l10 17l16 20l27 19l39 22l40 20l44 21v-115l4 9l6 14l10 15l16 15l26 17l40 19l40 18l44 21v-133l4 8l6 12l10 14l15 14l27 15l40 18l40 17l44 20v-119l3 9l7 12l9 14l16 14l27 16l39 19l40 19l44 21v-126l4 8l6 13l10 13l16 14l26 16l40 19l40 19l44 20v-122l4 8l6 12l10 12l16 14l26 15l40 18l40 17l44 20v-129l3 9l7 12l9 14l16 15l27 15l40 20l39 19l45 21M332 2160l3 18l5 24l7 28l11 31l15 31l21 32v-250l3 14l5 19l7 21l11 24l15 24l21 24v-421l3 13l5 16l7 18l10 19l15 18l22 17v-114l3 10l6 15l10 17l16 18l27 19l39 20l40 17l44 20v-107l4 10l6 13l10 14l16 15l26 15l40 18l40 16l44 19v-125l4 9l6 11l10 13l15 13l27 14l40 17l40 15l44 18v-111l3 9l7 12l9 13l16 14l27 14l39 18l40 17l44 18v-117l4 9l6 12l10 13l16 13l26 15l40 17l40 17l44 18v-114l4 8l6 12l10 12l16 13l26 13l40 17l40 15l44 18v-120l3 9l7 12l9 13l16 13l27 15l40 18l39 17l45 18M332 2157l3 19l5 24l7 29l11 33l15 32l21 34v-256l3 14l5 19l7 23l11 24l15 26l21 26v-427l3 13l5 17l7 18l10 20l15 20l22 20v-121l3 11l6 15l10 17l16 19l27 19l39 21l40 20l44 21v-113l4 9l6 14l10 14l16 16l26 16l40 19l40 18l44 19v-131l4 9l6 12l10 13l15 14l27 15l40 17l40 17l44 19v-117l3 9l7 12l9 14l16 14l27 16l39 19l40 18l44 20v-124l4 9l6 12l10 14l16 14l26 15l40 19l40 18l44 20v-121l4 9l6 11l10 13l16 13l26 15l40 17l40 17l44 19v-126l3 9l7 12l9 14l16 14l27 15l40 19l39 19l45 20M332 2153l3 19l5 25l7 30l11 35l15 35l21 38v-268l3 15l5 20l7 24l11 27l15 28l21 30v-438l3 13l5 18l7 20l10 22l15 22l22 25v-133l3 11l6 15l10 18l16 20l27 21l39 24l40 21l44 24v-125l4 10l6 14l10 15l16 17l26 17l40 22l40 20l44 23v-143l4 9l6 12l10 14l15 15l27 16l40 21l40 19l44 22v-129l3 9l7 13l9 14l16 15l27 18l39 21l40 21l44 23v-136l4 9l6 13l10 14l16 15l26 17l40 21l40 20l44 23v-132l4 9l6 12l10 13l16 14l26 17l40 20l40 19l44 22v-138l3 9l7 12l9 15l16 15l27 17l40 22l39 21l45 23M332 2150l3 19l5 25l7 29l11 32l15 33l21 35v-258l3 15l5 19l7 22l11 25l15 26l21 27v-428l3 13l5 16l7 19l10 21l15 20l22 20v-122l3 10l6 15l10 18l16 19l27 20l39 21l40 19l44 22v-115l4 10l6 13l10 15l16 16l26 16l40 19l40 18l44 21v-133l4 9l6 12l10 13l15 14l27 15l40 18l40 17l44 20v-119l3 9l7 12l9 14l16 14l27 16l39 19l40 19l44 20v-125l4 9l6 12l10 13l16 15l26 15l40 19l40 19l44 20v-122l4 8l6 12l10 13l16 13l26 15l40 18l40 17l44 19v-127l3 9l7 12l9 14l16 14l27 16l40 19l39 19l45 20M332 2149l3 18l5 24l7 28l11 32l15 31l21 32v-250l3 14l5 18l7 22l11 24l15 24l21 24v-420l3 12l5 16l7 18l10 19l15 18l22 18v-114l3 10l6 15l10 17l16 18l27 19l39 19l40 18l44 20v-107l4 9l6 14l10 14l16 15l26 15l40 18l40 16l44 19v-125l4 8l6 12l10 13l15 13l27 14l40 16l40 16l44 18v-111l3 9l7 12l9 13l16 14l27 14l39 18l40 17l44 18v-117l4 8l6 12l10 13l16 14l26 14l40 18l40 16l44 19v-114l4 8l6 11l10 13l16 13l26 13l40 17l40 15l44 18v-121l3 9l7 12l9 13l16 14l27 15l40 17l39 17l45 19M332 2156l3 18l5 25l7 28l11 32l15 33l21 33v-254l3 14l5 19l7 22l11 25l15 24l21 26v-424l3 12l5 17l7 18l10 20l15 19l22 20v-119l3 10l6 15l10 17l16 19l27 19l39 21l40 19l44 20v-111l4 10l6 13l10 15l16 15l26 15l40 19l40 18l44 19v-129l4 8l6 12l10 13l15 14l27 14l40 18l40 17l44 18v-115l3 9l7 12l9 13l16 14l27 16l39 18l40 18l44 20v-122l4 9l6 12l10 13l16 14l26 15l40 18l40 18l44 19v-118l4 8l6 11l10 13l16 13l26 15l40 17l40 17l44 18v-125l3 9l7 12l9 14l16 14l27 15l40 19l39 18l45 20M332 2148l3 18l5 24l7 28l11 31l15 31l21 31v-248l3 14l5 18l7 22l11 23l15 23l21 24v-418l3 12l5 16l7 18l10 19l15 17l22 18v-113l3 10l6 15l10 17l16 18l27 19l39 19l40 17l44 19v-104l4 9l6 13l10 14l16 15l26 15l40 17l40 16l44 18v-123l4 9l6 11l10 13l15 13l27 14l40 16l40 15l44 17v-108l3 8l7 12l9 13l16 14l27 14l39 17l40 17l44 18v-116l4 9l6 12l10 13l16 13l26 14l40 17l40 16l44 18v-112l4 9l6 11l10 12l16 13l26 13l40 16l40 15l44 17v-118l3 9l7 12l9 13l16 13l27 15l40 17l39 16l45 19M332 2144l3 19l5 24l7 29l11 32l15 33l21 34v-256l3 14l5 19l7 23l11 25l15 25l21 27v-425l3 12l5 17l7 19l10 20l15 20l22 20v-121l3 10l6 15l10 18l16 19l27 19l39 21l40 20l44 21v-114l4 10l6 13l10 15l16 16l26 16l40 19l40 18l44 20v-132l4 9l6 12l10 13l15 14l27 15l40 17l40 18l44 19v-118l3 9l7 12l9 14l16 14l27 16l39 19l40 18l44 21v-125l4 9l6 12l10 13l16 15l26 15l40 19l40 18l44 20v-121l4 9l6 11l10 13l16 13l26 15l40 18l40 17l44 19v-127l3 9l7 12l9 14l16 14l27 15l40 20l39 18l45 20M332 2144l3 19l5 25l7 29l11 33l15 34l21 36v-261l3 15l5 19l7 23l11 26l15 26l21 28v-429l3 12l5 17l7 20l10 21l15 21l22 22v-126l3 10l6 15l10 18l16 20l27 20l39 22l40 20l44 23v-119l4 10l6 14l10 15l16 15l26 17l40 20l40 19l44 21v-136l4 9l6 12l10 14l15 14l27 15l40 19l40 18l44 20v-122l3 9l7 13l9 13l16 15l27 16l39 20l40 20l44 21v-129l4 9l6 12l10 14l16 15l26 16l40 19l40 20l44 21v-126l4 9l6 11l10 13l16 14l26 15l40 19l40 18l44 20v-131l3 9l7 12l9 14l16 15l27 16l40 20l39 20l45 21M332 2143l3 18l5 24l7 27l11 31l15 31l21 31v-247l3 13l5 19l7 21l11 24l15 23l21 24v-417l3 12l5 16l7 18l10 19l15 18l22 17v-112l3 10l6 14l10 17l16 19l27 18l39 20l40 17l44 19v-105l4 10l6 13l10 14l16 15l26 15l40 17l40 16l44 18v-123l4 8l6 12l10 13l15 13l27 13l40 17l40 15l44 17v-109l3 9l7 12l9 13l16 13l27 15l39 17l40 16l44 19v-116l4 9l6 11l10 13l16 14l26 14l40 17l40 16l44 18v-112l4 8l6 11l10 13l16 12l26 14l40 16l40 15l44 17v-118l3 8l7 12l9 13l16 14l27 14l40 18l39 16l45 19M332 2149l3 18l5 25l7 28l11 32l15 32l21 33v-253l3 14l5 19l7 22l11 24l15 25l21 25v-421l3 13l5 16l7 19l10 19l15 19l22 19v-117l3 10l6 15l10 17l16 19l27 19l39 20l40 19l44 20v-109l4 9l6 13l10 15l16 15l26 15l40 19l40 17l44 19v-128l4 9l6 12l10 13l15 13l27 14l40 18l40 16l44 18v-113l3 8l7 12l9 14l16 14l27 15l39 18l40 17l44 20v-121l4 9l6 12l10 13l16 14l26 15l40 18l40 17l44 19v-117l4 9l6 11l10 13l16 13l26 14l40 17l40 16l44 18v-123l3 9l7 12l9 13l16 14l27 15l40 19l39 17l45 20M332 2148l3 19l5 25l7 29l11 34l15 34l21 36v-262l3 15l5 19l7 23l11 26l15 27l21 29v-430l3 13l5 17l7 19l10 22l15 21l22 23v-127l3 10l6 15l10 18l16 19l27 21l39 23l40 20l44 23v-120l4 10l6 14l10 15l16 16l26 17l40 20l40 19l44 22v-138l4 9l6 12l10 13l15 15l27 15l40 20l40 18l44 21v-124l3 9l7 12l9 14l16 15l27 17l39 20l40 20l44 22v-131l4 9l6 12l10 14l16 15l26 16l40 20l40 19l44 22v-127l4 9l6 11l10 13l16 14l26 16l40 19l40 18l44 21v-133l3 9l7 12l9 14l16 15l27 16l40 21l39 19l45 22M332 2139l3 18l5 24l7 28l11 31l15 32l21 31v-248l3 13l5 19l7 22l11 23l15 24l21 24v-415l3 12l5 16l7 18l10 20l15 18l22 18v-114l3 10l6 15l10 17l16 19l27 18l39 20l40 18l44 20v-107l4 9l6 14l10 14l16 15l26 15l40 17l40 17l44 18v-124l4 8l6 12l10 13l15 13l27 14l40 16l40 16l44 17v-110l3 9l7 12l9 13l16 13l27 15l39 18l40 17l44 18v-117l4 8l6 12l10 13l16 14l26 14l40 18l40 16l44 19v-114l4 8l6 11l10 13l16 12l26 14l40 16l40 16l44 17v-120l3 9l7 12l9 13l16 14l27 15l40 17l39 17l45 19M332 2149l3 19l5 24l7 29l11 32l15 32l21 34v-254l3 14l5 19l7 22l11 25l15 25l21 26v-420l3 12l5 17l7 19l10 20l15 19l22 20v-119l3 10l6 15l10 18l16 18l27 20l39 21l40 19l44 21v-112l4 9l6 14l10 14l16 16l26 16l40 18l40 18l44 20v-130l4 8l6 12l10 13l15 14l27 15l40 17l40 17l44 19v-116l3 9l7 12l9 13l16 14l27 16l39 18l40 18l44 20v-122l4 8l6 12l10 14l16 14l26 15l40 18l40 18l44 20v-119l4 8l6 11l10 13l16 13l26 15l40 17l40 17l44 18v-125l3 9l7 12l9 14l16 14l27 15l40 19l39 18l45 20M332 2140l3 18l5 24l7 28l11 30l15 30l21 30v-244l3 14l5 18l7 21l11 23l15 23l21 23v-411l3 12l5 16l7 18l10 18l15 18l22 16v-109l3 10l6 14l10 17l16 18l27 18l39 19l40 17l44 19v-102l4 9l6 13l10 14l16 15l26 14l40 17l40 15l44 18v-121l4 9l6 11l10 13l15 13l27 13l40 15l40 15l44 17v-107l3 9l7 12l9 13l16 13l27 14l39 17l40 16l44 17v-113l4 9l6 12l10 12l16 14l26 13l40 17l40 16l44 17v-110l4 8l6 12l10 12l16 12l26 13l40 16l40 14l44 17v-116l3 9l7 11l9 13l16 14l27 14l40 17l39 16l45 17M332 2143l3 18l5 24l7 28l11 31l15 30l21 31v-246l3 14l5 18l7 21l11 24l15 23l21 23v-411l3 12l5 16l7 17l10 19l15 18l22 17v-111l3 10l6 15l10 17l16 18l27 18l39 20l40 17l44 19v-104l4 9l6 13l10 15l16 14l26 15l40 17l40 16l44 18v-122l4 8l6 12l10 13l15 13l27 13l40 16l40 15l44 17v-108l3 9l7 11l9 14l16 13l27 14l39 17l40 16l44 18v-114l4 8l6 12l10 13l16 13l26 14l40 17l40 16l44 18v-111l4 8l6 11l10 12l16 13l26 13l40 16l40 15l44 17v-118l3 9l7 12l9 13l16 14l27 14l40 17l39 16l45 18M332 2142l3 18l5 24l7 28l11 31l15 31l21 31v-247l3 13l5 19l7 21l11 24l15 24l21 24v-414l3 13l5 16l7 18l10 19l15 18l22 18v-113l3 10l6 15l10 17l16 18l27 19l39 20l40 18l44 19v-106l4 9l6 14l10 14l16 15l26 15l40 17l40 17l44 18v-124l4 8l6 12l10 13l15 13l27 14l40 16l40 16l44 17v-110l3 9l7 11l9 14l16 13l27 15l39 17l40 17l44 19v-117l4 8l6 12l10 13l16 14l26 14l40 17l40 17l44 18v-113l4 8l6 11l10 13l16 12l26 14l40 16l40 16l44 17v-120l3 9l7 12l9 13l16 14l27 15l40 17l39 17l45 18M332 2146l3 19l5 26l7 30l11 35l15 35l21 39v-268l3 15l5 20l7 24l11 27l15 29l21 31v-433l3 13l5 18l7 21l10 22l15 23l22 26v-134l3 11l6 15l10 18l16 20l27 22l39 24l40 22l44 25v-127l4 10l6 14l10 15l16 17l26 18l40 21l40 21l44 23v-144l4 9l6 12l10 14l15 15l27 17l40 20l40 20l44 22v-130l3 9l7 13l9 14l16 15l27 18l39 22l40 21l44 23v-137l4 9l6 12l10 15l16 15l26 17l40 22l40 20l44 24v-134l4 9l6 11l10 14l16 14l26 17l40 20l40 20l44 22v-139l3 9l7 12l9 15l16 15l27 17l40 22l39 21l45 24M332 2142l3 18l5 24l7 28l11 31l15 31l21 32v-248l3 14l5 18l7 22l11 24l15 23l21 24v-412l3 12l5 16l7 18l10 20l15 18l22 18v-113l3 10l6 15l10 17l16 18l27 19l39 20l40 18l44 19v-106l4 9l6 13l10 15l16 15l26 15l40 17l40 17l44 18v-125l4 9l6 12l10 13l15 13l27 14l40 16l40 16l44 17v-110l3 8l7 12l9 14l16 13l27 15l39 17l40 17l44 19v-117l4 8l6 12l10 13l16 14l26 14l40 17l40 17l44 18v-113l4 8l6 11l10 12l16 13l26 14l40 16l40 16l44 17v-120l3 9l7 12l9 13l16 14l27 14l40 18l39 17l45 19M332 2136l3 19l5 24l7 27l11 31l15 31l21 31v-246l3 13l5 19l7 21l11 24l15 23l21 24v-411l3 12l5 16l7 18l10 19l15 19l22 18v-113l3 10l6 15l10 17l16 18l27 19l39 20l40 17l44 20v-106l4 10l6 13l10 14l16 15l26 15l40 17l40 16l44 18v-123l4 8l6 12l10 13l15 13l27 14l40 16l40 15l44 17v-109l3 9l7 12l9 13l16 13l27 15l39 17l40 17l44 18v-116l4 8l6 12l10 13l16 14l26 14l40 17l40 17l44 18v-113l4 8l6 11l10 13l16 12l26 14l40 16l40 15l44 17v-119l3 9l7 12l9 13l16 14l27 14l40 18l39 17l45 18M332 2131l3 18l5 24l7 28l11 30l15 31l21 31v-246l3 14l5 18l7 22l11 23l15 24l21 23v-410l3 12l5 16l7 18l10 19l15 18l22 18v-112l3 10l6 15l10 17l16 18l27 19l39 19l40 18l44 19v-105l4 10l6 13l10 14l16 15l26 14l40 18l40 16l44 18v-123l4 8l6 12l10 13l15 13l27 13l40 17l40 15l44 17v-109l3 9l7 12l9 13l16 13l27 15l39 17l40 17l44 18v-116l4 8l6 12l10 13l16 14l26 14l40 17l40 16l44 18v-112l4 8l6 11l10 13l16 12l26 14l40 16l40 15l44 17v-119l3 9l7 12l9 13l16 14l27 14l40 18l39 16l45 19M332 2130l3 18l5 24l7 28l11 32l15 31l21 32v-249l3 14l5 19l7 21l11 24l15 25l21 24v-413l3 12l5 17l7 18l10 20l15 18l22 19v-115l3 10l6 15l10 17l16 19l27 19l39 20l40 19l44 20v-109l4 10l6 13l10 15l16 14l26 16l40 18l40 17l44 18v-126l4 9l6 11l10 13l15 14l27 14l40 17l40 16l44 17v-112l3 9l7 12l9 13l16 14l27 15l39 18l40 17l44 19v-119l4 9l6 12l10 13l16 14l26 14l40 18l40 17l44 19v-116l4 8l6 12l10 12l16 13l26 14l40 17l40 16l44 17v-121l3 9l7 12l9 13l16 14l27 15l40 18l39 17l45 19M332 2135l3 18l5 25l7 29l11 32l15 33l21 35v-256l3 14l5 20l7 22l11 25l15 26l21 27v-420l3 13l5 17l7 19l10 21l15 20l22 21v-121l3 10l6 15l10 17l16 20l27 19l39 22l40 20l44 21v-114l4 9l6 14l10 15l16 15l26 16l40 19l40 19l44 20v-133l4 9l6 12l10 13l15 14l27 15l40 18l40 18l44 19v-118l3 8l7 13l9 13l16 15l27 15l39 20l40 18l44 21v-125l4 8l6 12l10 14l16 14l26 16l40 19l40 18l44 20v-121l4 8l6 11l10 13l16 14l26 14l40 18l40 18l44 19v-128l3 9l7 12l9 14l16 14l27 16l40 19l39 19l45 21M332 2134l3 18l5 25l7 28l11 32l15 32l21 33v-252l3 14l5 19l7 22l11 25l15 24l21 26v-415l3 13l5 16l7 19l10 20l15 19l22 20v-118l3 11l6 15l10 17l16 19l27 19l39 21l40 19l44 21v-111l4 9l6 14l10 14l16 15l26 16l40 18l40 18l44 19v-129l4 9l6 12l10 13l15 14l27 14l40 17l40 17l44 18v-114l3 8l7 13l9 13l16 14l27 15l39 19l40 17l44 20v-121l4 8l6 12l10 14l16 13l26 15l40 19l40 17l44 19v-117l4 8l6 11l10 13l16 13l26 14l40 17l40 17l44 18v-124l3 9l7 12l9 14l16 14l27 15l40 18l39 18l45 20M332 2134l3 19l5 26l7 30l11 34l15 35l21 38v-265l3 15l5 20l7 23l11 27l15 28l21 30v-427l3 13l5 18l7 20l10 22l15 23l22 25v-131l3 10l6 16l10 18l16 20l27 21l39 24l40 22l44 24v-125l4 10l6 14l10 15l16 16l26 18l40 21l40 21l44 22v-142l4 9l6 12l10 14l15 15l27 16l40 20l40 20l44 21v-128l3 9l7 13l9 14l16 15l27 17l39 22l40 20l44 23v-135l4 9l6 12l10 14l16 15l26 17l40 22l40 20l44 23v-132l4 8l6 12l10 14l16 14l26 16l40 20l40 20l44 21v-137l3 9l7 12l9 14l16 16l27 17l40 21l39 21l45 23M332 2126l3 18l5 24l7 29l11 31l15 32l21 33v-251l3 14l5 19l7 22l11 25l15 24l21 26v-412l3 12l5 17l7 18l10 20l15 20l22 20v-117l3 10l6 15l10 17l16 19l27 19l39 21l40 19l44 20v-110l4 10l6 13l10 15l16 15l26 15l40 18l40 18l44 19v-128l4 8l6 12l10 13l15 14l27 14l40 17l40 17l44 18v-114l3 9l7 12l9 13l16 14l27 15l39 19l40 17l44 20v-121l4 9l6 12l10 13l16 14l26 15l40 18l40 17l44 19v-117l4 8l6 12l10 12l16 13l26 14l40 17l40 17l44 18v-123l3 8l7 12l9 14l16 14l27 15l40 18l39 18l45 20M332 2129l3 19l5 25l7 29l11 33l15 34l21 36v-259l3 14l5 20l7 23l11 26l15 27l21 28v-421l3 13l5 17l7 20l10 21l15 22l22 23v-126l3 10l6 15l10 18l16 20l27 21l39 22l40 21l44 23v-120l4 10l6 14l10 15l16 16l26 17l40 20l40 19l44 22v-138l4 9l6 12l10 14l15 14l27 16l40 19l40 18l44 21v-124l3 9l7 13l9 14l16 14l27 17l39 20l40 20l44 22v-131l4 9l6 12l10 14l16 15l26 16l40 20l40 19l44 22v-127l4 9l6 11l10 13l16 14l26 16l40 19l40 18l44 21v-133l3 9l7 12l9 14l16 15l27 16l40 21l39 19l45 22M332 2124l3 18l5 25l7 28l11 32l15 32l21 32v-250l3 14l5 19l7 22l11 24l15 25l21 25v-412l3 13l5 16l7 19l10 20l15 20l22 20v-118l3 11l6 14l10 18l16 19l27 19l39 21l40 19l44 21v-111l4 9l6 14l10 14l16 15l26 16l40 18l40 18l44 19v-128l4 8l6 12l10 13l15 14l27 14l40 17l40 17l44 18v-114l3 8l7 13l9 13l16 14l27 15l39 19l40 17l44 20v-121l4 8l6 12l10 14l16 13l26 15l40 19l40 17l44 19v-117l4 8l6 11l10 13l16 13l26 14l40 17l40 17l44 18v-124l3 9l7 12l9 14l16 14l27 15l40 18l39 18l45 20M332 2118l3 18l5 25l7 28l11 33l15 32l21 34v-253l3 14l5 19l7 22l11 25l15 25l21 27v-415l3 13l5 17l7 19l10 20l15 20l22 21v-120l3 11l6 15l10 17l16 19l27 20l39 21l40 20l44 21v-113l4 10l6 13l10 15l16 15l26 16l40 19l40 18l44 20v-131l4 8l6 12l10 13l15 14l27 15l40 18l40 17l44 19v-117l3 9l7 12l9 13l16 15l27 15l39 19l40 18l44 20v-123l4 8l6 13l10 13l16 14l26 15l40 19l40 18l44 20v-120l4 8l6 12l10 12l16 14l26 14l40 18l40 17l44 19v-127l3 9l7 12l9 14l16 14l27 16l40 19l39 18l45 20M332 2126l3 18l5 23l7 27l11 29l15 29l21 28v-237l3 13l5 18l7 21l11 22l15 21l21 21v-398l3 12l5 15l7 17l10 18l15 17l22 15v-104l3 10l6 15l10 16l16 18l27 17l39 18l40 17l44 17v-97l4 9l6 13l10 14l16 14l26 14l40 15l40 15l44 16v-116l4 9l6 11l10 13l15 12l27 12l40 15l40 14l44 15v-101l3 8l7 12l9 13l16 12l27 14l39 15l40 15l44 17v-108l4 8l6 12l10 12l16 13l26 13l40 15l40 15l44 16v-104l4 8l6 10l10 12l16 12l26 13l40 14l40 14l44 15v-111l3 9l7 11l9 13l16 13l27 13l40 16l39 15l45 16M332 2132l3 18l5 25l7 28l11 31l15 31l21 31v-247l3 14l5 19l7 21l11 24l15 24l21 25v-408l3 12l5 16l7 19l10 19l15 19l22 19v-114l3 10l6 15l10 17l16 19l27 19l39 20l40 18l44 20v-107l4 9l6 13l10 15l16 15l26 15l40 18l40 16l44 19v-126l4 9l6 12l10 13l15 13l27 14l40 16l40 16l44 18v-111l3 8l7 12l9 14l16 13l27 15l39 18l40 17l44 19v-118l4 8l6 12l10 13l16 14l26 14l40 18l40 16l44 19v-114l4 8l6 11l10 13l16 12l26 14l40 16l40 16l44 18v-121l3 9l7 12l9 13l16 14l27 15l40 17l39 18l45 18M332 2128l3 19l5 24l7 28l11 31l15 31l21 32v-247l3 13l5 19l7 22l11 24l15 24l21 24v-408l3 13l5 16l7 18l10 20l15 19l22 19v-114l3 10l6 15l10 17l16 18l27 19l39 21l40 18l44 20v-108l4 10l6 13l10 15l16 14l26 16l40 17l40 17l44 19v-126l4 9l6 11l10 13l15 14l27 14l40 16l40 16l44 18v-112l3 9l7 12l9 13l16 14l27 15l39 18l40 17l44 18v-118l4 9l6 12l10 13l16 13l26 15l40 17l40 17l44 19v-115l4 8l6 12l10 12l16 13l26 14l40 16l40 16l44 18v-121l3 8l7 13l9 13l16 14l27 14l40 18l39 17l45 19M332 2129l3 18l5 25l7 27l11 31l15 31l21 31v-245l3 14l5 18l7 21l11 24l15 24l21 24v-406l3 13l5 16l7 18l10 19l15 19l22 18v-112l3 10l6 15l10 17l16 18l27 19l39 20l40 18l44 20v-106l4 9l6 13l10 15l16 14l26 15l40 18l40 16l44 18v-124l4 9l6 12l10 13l15 13l27 13l40 17l40 15l44 17v-109l3 8l7 12l9 13l16 14l27 15l39 17l40 17l44 18v-116l4 8l6 12l10 13l16 14l26 14l40 17l40 16l44 19v-113l4 8l6 11l10 12l16 13l26 14l40 16l40 15l44 17v-119l3 9l7 12l9 13l16 14l27 14l40 18l39 16l45 19M332 2125l3 18l5 22l7 27l11 28l15 27l21 26v-230l3 13l5 17l7 20l11 21l15 20l21 19v-389l3 11l5 15l7 17l10 17l15 15l22 13v-97l3 9l6 15l10 16l16 17l27 17l39 17l40 15l44 16v-92l4 10l6 12l10 14l16 13l26 13l40 14l40 14l44 14v-109l4 8l6 12l10 12l15 12l27 11l40 13l40 13l44 13v-95l3 9l7 11l9 13l16 12l27 12l39 15l40 13l44 15v-102l4 9l6 11l10 12l16 12l26 13l40 14l40 13l44 15v-99l4 8l6 11l10 12l16 11l26 11l40 13l40 13l44 13v-104l3 8l7 12l9 12l16 13l27 12l40 14l39 14l45 15M332 2111l3 18l5 25l7 29l11 32l15 32l21 34v-253l3 15l5 19l7 22l11 25l15 26l21 26v-411l3 13l5 17l7 19l10 21l15 20l22 21v-120l3 11l6 15l10 17l16 19l27 20l39 22l40 20l44 21v-114l4 10l6 13l10 15l16 15l26 17l40 19l40 18l44 20v-132l4 8l6 12l10 14l15 14l27 14l40 18l40 18l44 19v-118l3 9l7 12l9 14l16 14l27 16l39 19l40 18l44 21v-125l4 9l6 12l10 13l16 14l26 16l40 19l40 18l44 20v-121l4 8l6 12l10 13l16 13l26 15l40 18l40 17l44 19v-127l3 8l7 13l9 13l16 15l27 15l40 20l39 18l45 20M332 2114l3 18l5 24l7 28l11 30l15 30l21 31v-243l3 14l5 18l7 21l11 24l15 23l21 23v-400l3 12l5 16l7 18l10 19l15 18l22 18v-110l3 10l6 15l10 17l16 18l27 19l39 19l40 18l44 19v-104l4 9l6 13l10 15l16 14l26 15l40 17l40 16l44 18v-122l4 8l6 12l10 13l15 13l27 13l40 16l40 15l44 17v-108l3 9l7 11l9 14l16 13l27 14l39 17l40 17l44 18v-115l4 8l6 12l10 13l16 13l26 14l40 17l40 16l44 18v-111l4 8l6 11l10 12l16 13l26 13l40 16l40 15l44 17v-118l3 9l7 12l9 13l16 14l27 14l40 17l39 16l45 18M332 2122l3 18l5 24l7 27l11 31l15 30l21 30v-242l3 13l5 19l7 21l11 23l15 23l21 23v-399l3 12l5 16l7 18l10 19l15 18l22 18v-110l3 11l6 14l10 17l16 18l27 19l39 19l40 18l44 19v-103l4 9l6 13l10 14l16 15l26 14l40 17l40 16l44 18v-122l4 9l6 11l10 13l15 13l27 13l40 16l40 15l44 17v-108l3 9l7 12l9 13l16 13l27 15l39 16l40 17l44 18v-115l4 9l6 12l10 13l16 13l26 14l40 16l40 16l44 18v-111l4 8l6 12l10 12l16 12l26 14l40 15l40 15l44 17v-117l3 9l7 11l9 14l16 13l27 14l40 17l39 16l45 18M332 2111l3 18l5 24l7 27l11 31l15 30l21 31v-243l3 13l5 19l7 21l11 24l15 23l21 24v-401l3 12l5 16l7 18l10 20l15 18l22 18v-111l3 10l6 15l10 17l16 19l27 18l39 20l40 18l44 20v-106l4 10l6 13l10 14l16 15l26 15l40 17l40 16l44 18v-123l4 9l6 11l10 13l15 13l27 14l40 16l40 15l44 17v-109l3 9l7 12l9 13l16 14l27 14l39 17l40 17l44 18v-116l4 9l6 12l10 13l16 13l26 14l40 17l40 16l44 18v-112l4 8l6 12l10 12l16 13l26 13l40 16l40 15l44 17v-118l3 9l7 11l9 14l16 13l27 15l40 17l39 16l45 19M332 2107l3 18l5 24l7 28l11 30l15 31l21 31v-244l3 14l5 18l7 22l11 23l15 24l21 23v-401l3 13l5 16l7 18l10 19l15 19l22 18v-111l3 10l6 15l10 17l16 18l27 19l39 20l40 18l44 19v-105l4 10l6 13l10 14l16 15l26 15l40 17l40 16l44 18v-123l4 8l6 12l10 13l15 13l27 14l40 16l40 15l44 17v-109l3 9l7 12l9 13l16 13l27 15l39 17l40 17l44 18v-116l4 9l6 11l10 13l16 14l26 14l40 17l40 16l44 18v-112l4 8l6 11l10 13l16 12l26 14l40 16l40 15l44 17v-118l3 8l7 12l9 13l16 14l27 14l40 18l39 16l45 19M332 2115l3 18l5 24l7 28l11 32l15 31l21 33v-249l3 15l5 18l7 22l11 25l15 24l21 25v-405l3 13l5 16l7 19l10 20l15 20l22 20v-116l3 10l6 15l10 17l16 19l27 20l39 20l40 19l44 21v-110l4 10l6 13l10 15l16 15l26 15l40 18l40 18l44 19v-128l4 8l6 12l10 13l15 14l27 14l40 17l40 17l44 18v-114l3 9l7 12l9 13l16 14l27 15l39 19l40 17l44 19v-120l4 9l6 12l10 13l16 14l26 14l40 18l40 18l44 19v-117l4 8l6 12l10 12l16 13l26 14l40 17l40 17l44 18v-123l3 8l7 12l9 14l16 14l27 15l40 18l39 18l45 19M332 2116l3 17l5 24l7 26l11 30l15 28l21 28v-235l3 13l5 18l7 20l11 23l15 21l21 21v-392l3 12l5 15l7 17l10 18l15 17l22 15v-103l3 10l6 15l10 17l16 17l27 18l39 18l40 16l44 18v-97l4 9l6 13l10 14l16 14l26 13l40 16l40 14l44 16v-115l4 9l6 11l10 12l15 13l27 12l40 15l40 13l44 15v-100l3 8l7 12l9 12l16 13l27 14l39 15l40 15l44 16v-108l4 9l6 11l10 13l16 13l26 13l40 15l40 14l44 17v-105l4 8l6 11l10 12l16 12l26 12l40 15l40 13l44 15v-110l3 9l7 11l9 13l16 13l27 13l40 16l39 14l45 17M332 2114l3 17l5 24l7 27l11 30l15 29l21 29v-238l3 13l5 18l7 21l11 23l15 22l21 21v-394l3 12l5 16l7 17l10 18l15 18l22 16v-105l3 10l6 14l10 17l16 18l27 18l39 18l40 17l44 19v-100l4 9l6 13l10 14l16 14l26 14l40 16l40 15l44 17v-118l4 9l6 11l10 13l15 13l27 12l40 15l40 14l44 16v-103l3 8l7 12l9 13l16 13l27 14l39 16l40 15l44 17v-110l4 8l6 12l10 12l16 13l26 14l40 16l40 15l44 16v-106l4 8l6 11l10 12l16 12l26 13l40 14l40 14l44 16v-113l3 9l7 12l9 12l16 14l27 13l40 16l39 16l45 17M332 2110l3 19l5 24l7 28l11 31l15 31l21 32v-247l3 14l5 19l7 22l11 24l15 24l21 25v-403l3 12l5 16l7 19l10 20l15 19l22 20v-115l3 11l6 14l10 18l16 18l27 20l39 20l40 19l44 21v-109l4 9l6 13l10 15l16 15l26 15l40 18l40 17l44 19v-127l4 9l6 12l10 13l15 13l27 14l40 17l40 16l44 18v-113l3 9l7 12l9 14l16 13l27 15l39 18l40 18l44 19v-120l4 9l6 12l10 13l16 14l26 15l40 17l40 17l44 19v-116l4 9l6 11l10 12l16 13l26 14l40 17l40 16l44 18v-122l3 9l7 12l9 13l16 14l27 15l40 18l39 17l45 20M332 2109l3 18l5 24l7 28l11 31l15 31l21 32v-246l3 13l5 19l7 22l11 24l15 24l21 24v-402l3 12l5 17l7 18l10 20l15 19l22 19v-114l3 11l6 15l10 17l16 18l27 19l39 21l40 18l44 21v-108l4 9l6 13l10 15l16 15l26 15l40 18l40 17l44 18v-126l4 9l6 12l10 13l15 13l27 14l40 17l40 16l44 17v-111l3 8l7 12l9 14l16 13l27 15l39 18l40 17l44 19v-118l4 8l6 12l10 13l16 14l26 14l40 18l40 17l44 18v-114l4 8l6 11l10 13l16 12l26 14l40 17l40 16l44 17v-121l3 9l7 12l9 13l16 14l27 15l40 18l39 17l45 19M332 2104l3 18l5 24l7 27l11 31l15 30l21 30v-242l3 14l5 18l7 21l11 24l15 23l21 23v-398l3 12l5 16l7 18l10 20l15 18l22 18v-110l3 10l6 15l10 17l16 18l27 19l39 19l40 18l44 19v-104l4 10l6 13l10 14l16 15l26 14l40 17l40 16l44 18v-122l4 9l6 11l10 13l15 13l27 13l40 16l40 15l44 17v-108l3 9l7 12l9 13l16 13l27 15l39 16l40 17l44 17v-114l4 9l6 12l10 12l16 14l26 14l40 16l40 16l44 18v-111l4 8l6 12l10 12l16 12l26 13l40 16l40 15l44 17v-117l3 8l7 12l9 13l16 14l27 14l40 17l39 16l45 18M332 2102l3 18l5 24l7 27l11 30l15 30l21 29v-239l3 13l5 18l7 21l11 23l15 23l21 22v-395l3 12l5 16l7 18l10 19l15 18l22 17v-108l3 10l6 15l10 17l16 18l27 18l39 20l40 17l44 19v-102l4 9l6 13l10 14l16 15l26 14l40 16l40 16l44 17v-120l4 9l6 11l10 13l15 13l27 13l40 15l40 15l44 16v-105l3 8l7 12l9 13l16 13l27 14l39 17l40 16l44 17v-112l4 8l6 12l10 13l16 13l26 13l40 17l40 15l44 18v-109l4 8l6 11l10 12l16 12l26 13l40 15l40 15l44 16v-115l3 9l7 12l9 13l16 13l27 14l40 16l39 16l45 18M332 2101l3 18l5 23l7 27l11 30l15 29l21 29v-238l3 14l5 18l7 21l11 22l15 22l21 22v-392l3 12l5 15l7 18l10 18l15 18l22 16v-105l3 10l6 15l10 16l16 18l27 18l39 19l40 17l44 18v-100l4 10l6 13l10 14l16 14l26 14l40 16l40 15l44 17v-118l4 8l6 12l10 13l15 12l27 13l40 15l40 14l44 16v-104l3 9l7 12l9 12l16 14l27 13l39 16l40 16l44 17v-111l4 9l6 11l10 13l16 13l26 13l40 16l40 15l44 17v-107l4 8l6 11l10 12l16 13l26 12l40 15l40 14l44 16v-113l3 8l7 12l9 13l16 13l27 14l40 16l39 15l45 17M332 2100l3 18l5 24l7 27l11 31l15 30l21 31v-243l3 14l5 18l7 22l11 23l15 24l21 24v-399l3 13l5 16l7 18l10 20l15 19l22 18v-111l3 10l6 15l10 17l16 18l27 19l39 20l40 18l44 20v-106l4 10l6 13l10 14l16 15l26 15l40 17l40 16l44 19v-124l4 9l6 11l10 13l15 13l27 14l40 16l40 15l44 18v-110l3 9l7 12l9 13l16 14l27 14l39 17l40 17l44 18v-116l4 9l6 12l10 13l16 13l26 14l40 17l40 17l44 18v-113l4 8l6 12l10 12l16 13l26 13l40 16l40 15l44 17v-118l3 8l7 12l9 14l16 13l27 15l40 17l39 17l45 18M332 2103l3 18l5 25l7 29l11 32l15 33l21 34v-253l3 14l5 20l7 22l11 25l15 26l21 27v-407l3 13l5 17l7 19l10 21l15 21l22 22v-121l3 11l6 15l10 17l16 20l27 20l39 22l40 20l44 22v-115l4 9l6 14l10 15l16 15l26 16l40 20l40 18l44 20v-133l4 9l6 12l10 13l15 14l27 15l40 19l40 17l44 19v-118l3 9l7 12l9 13l16 15l27 16l39 19l40 19l44 20v-125l4 8l6 12l10 14l16 14l26 16l40 19l40 18l44 21v-122l4 8l6 11l10 13l16 14l26 15l40 18l40 17l44 19v-128l3 9l7 12l9 14l16 14l27 16l40 20l39 18l45 21M332 2113l3 18l5 23l7 27l11 29l15 29l21 28v-235l3 13l5 18l7 21l11 22l15 21l21 22v-390l3 12l5 15l7 18l10 18l15 17l22 16v-104l3 10l6 15l10 17l16 17l27 18l39 18l40 17l44 18v-98l4 9l6 13l10 14l16 14l26 14l40 15l40 15l44 16v-116l4 9l6 11l10 13l15 12l27 13l40 14l40 14l44 15v-101l3 8l7 12l9 13l16 13l27 13l39 16l40 14l44 17v-108l4 8l6 12l10 12l16 13l26 13l40 15l40 15l44 16v-104l4 8l6 11l10 12l16 12l26 12l40 14l40 14l44 15v-111l3 9l7 11l9 13l16 13l27 14l40 15l39 15l45 17M332 2106l3 18l5 25l7 29l11 33l15 33l21 35v-255l3 15l5 19l7 23l11 26l15 26l21 28v-410l3 13l5 18l7 19l10 22l15 21l22 23v-123l3 10l6 16l10 17l16 20l27 20l39 23l40 20l44 23v-117l4 9l6 14l10 15l16 15l26 17l40 20l40 19l44 21v-136l4 9l6 12l10 13l15 15l27 15l40 19l40 18l44 20v-122l3 9l7 13l9 13l16 15l27 16l39 20l40 19l44 21v-128l4 9l6 12l10 14l16 14l26 16l40 20l40 19l44 21v-125l4 9l6 11l10 13l16 14l26 15l40 19l40 18l44 19v-130l3 9l7 12l9 14l16 15l27 16l40 20l39 19l45 21M332 2102l3 19l5 24l7 29l11 31l15 32l21 34v-250l3 14l5 19l7 22l11 25l15 25l21 26v-403l3 12l5 17l7 19l10 21l15 20l22 21v-118l3 11l6 15l10 17l16 19l27 20l39 21l40 20l44 21v-112l4 9l6 14l10 15l16 15l26 16l40 18l40 18l44 20v-130l4 8l6 12l10 13l15 14l27 15l40 17l40 17l44 19v-116l3 9l7 12l9 13l16 14l27 16l39 19l40 18l44 19v-122l4 8l6 12l10 14l16 14l26 15l40 18l40 18l44 20v-119l4 8l6 11l10 13l16 13l26 15l40 17l40 17l44 19v-126l3 9l7 12l9 14l16 14l27 15l40 19l39 18l45 20M332 2105l3 18l5 23l7 28l11 30l15 29l21 30v-240l3 14l5 18l7 21l11 23l15 23l21 22v-392l3 12l5 16l7 18l10 19l15 17l22 18v-108l3 11l6 14l10 17l16 18l27 19l39 19l40 17l44 19v-102l4 9l6 13l10 15l16 14l26 14l40 17l40 16l44 17v-120l4 8l6 12l10 12l15 13l27 13l40 16l40 14l44 17v-106l3 9l7 11l9 13l16 14l27 14l39 16l40 16l44 18v-113l4 8l6 12l10 13l16 13l26 14l40 16l40 16l44 17v-109l4 8l6 11l10 12l16 13l26 13l40 15l40 14l44 17v-116l3 9l7 12l9 13l16 13l27 14l40 17l39 16l45 17M332 2097l3 19l5 24l7 28l11 32l15 32l21 33v-249l3 14l5 19l7 22l11 25l15 25l21 25v-401l3 12l5 17l7 19l10 20l15 21l22 21v-118l3 11l6 15l10 17l16 19l27 20l39 21l40 19l44 22v-112l4 10l6 13l10 15l16 15l26 16l40 18l40 18l44 19v-129l4 8l6 12l10 14l15 13l27 15l40 17l40 17l44 18v-115l3 9l7 12l9 13l16 15l27 15l39 18l40 18l44 20v-122l4 9l6 12l10 13l16 14l26 15l40 18l40 18l44 19v-118l4 8l6 12l10 12l16 14l26 14l40 17l40 17l44 18v-124l3 8l7 13l9 13l16 14l27 15l40 19l39 18l45 20M332 2103l3 17l5 23l7 26l11 29l15 28l21 27v-232l3 14l5 17l7 20l11 22l15 21l21 20v-385l3 12l5 16l7 17l10 17l15 16l22 15v-100l3 11l6 14l10 16l16 18l27 17l39 18l40 15l44 18v-95l4 10l6 12l10 14l16 14l26 13l40 15l40 14l44 15v-112l4 8l6 12l10 12l15 12l27 12l40 14l40 13l44 14v-98l3 9l7 11l9 13l16 12l27 13l39 15l40 14l44 16v-105l4 8l6 12l10 12l16 13l26 12l40 15l40 14l44 15v-101l4 8l6 11l10 12l16 11l26 12l40 14l40 13l44 14v-107l3 8l7 12l9 12l16 13l27 13l40 15l39 14l45 16M332 2105l3 17l5 23l7 26l11 28l15 27l21 27v-229l3 13l5 17l7 20l11 21l15 20l21 20v-382l3 12l5 15l7 17l10 17l15 15l22 15v-98l3 10l6 14l10 17l16 17l27 17l39 17l40 15l44 17v-92l4 9l6 13l10 13l16 14l26 13l40 14l40 14l44 15v-110l4 8l6 11l10 12l15 12l27 12l40 13l40 13l44 14v-96l3 8l7 12l9 12l16 13l27 12l39 15l40 13l44 15v-102l4 8l6 11l10 13l16 12l26 12l40 14l40 14l44 15v-99l4 8l6 10l10 12l16 12l26 11l40 13l40 13l44 13v-105l3 9l7 11l9 13l16 12l27 13l40 14l39 14l45 15M332 2092l3 18l5 23l7 26l11 29l15 28l21 27v-232l3 14l5 17l7 20l11 22l15 21l21 20v-384l3 12l5 15l7 17l10 18l15 16l22 16v-101l3 10l6 14l10 17l16 18l27 17l39 18l40 16l44 17v-95l4 9l6 13l10 14l16 13l26 14l40 15l40 14l44 16v-114l4 9l6 11l10 12l15 13l27 12l40 14l40 13l44 15v-99l3 8l7 12l9 12l16 13l27 13l39 15l40 15l44 16v-106l4 8l6 11l10 13l16 12l26 13l40 15l40 14l44 16v-102l4 8l6 10l10 12l16 12l26 12l40 14l40 13l44 15v-109l3 9l7 11l9 13l16 13l27 13l40 15l39 14l45 16M332 2096l3 18l5 24l7 27l11 30l15 29l21 30v-239l3 14l5 18l7 21l11 23l15 23l21 22v-391l3 12l5 16l7 18l10 19l15 18l22 17v-107l3 10l6 15l10 17l16 18l27 18l39 19l40 18l44 19v-102l4 9l6 13l10 14l16 15l26 14l40 16l40 16l44 17v-120l4 9l6 11l10 13l15 13l27 13l40 15l40 15l44 16v-105l3 8l7 12l9 13l16 13l27 14l39 17l40 16l44 17v-112l4 8l6 12l10 13l16 13l26 13l40 17l40 15l44 18v-109l4 8l6 11l10 12l16 12l26 13l40 15l40 15l44 16v-115l3 9l7 12l9 13l16 13l27 14l40 16l39 16l45 18M332 2096l3 18l5 24l7 27l11 30l15 30l21 30v-239l3 13l5 18l7 21l11 24l15 22l21 23v-391l3 12l5 16l7 18l10 19l15 18l22 18v-108l3 11l6 14l10 17l16 18l27 19l39 19l40 18l44 19v-103l4 10l6 13l10 14l16 14l26 15l40 16l40 16l44 17v-120l4 8l6 12l10 13l15 13l27 13l40 15l40 15l44 16v-106l3 9l7 12l9 13l16 13l27 14l39 17l40 16l44 17v-113l4 9l6 11l10 13l16 13l26 14l40 17l40 15l44 18v-110l4 8l6 11l10 13l16 12l26 13l40 15l40 15l44 16v-115l3 8l7 12l9 13l16 14l27 14l40 16l39 16l45 18M332 2091l3 18l5 24l7 27l11 30l15 29l21 29v-237l3 13l5 18l7 21l11 23l15 22l21 22v-388l3 12l5 16l7 18l10 18l15 18l22 17v-106l3 10l6 15l10 17l16 18l27 18l39 19l40 17l44 19v-101l4 10l6 13l10 14l16 14l26 14l40 16l40 16l44 17v-119l4 8l6 12l10 12l15 13l27 13l40 15l40 15l44 16v-105l3 9l7 11l9 13l16 14l27 13l39 17l40 15l44 17v-111l4 9l6 11l10 13l16 13l26 14l40 16l40 15l44 17v-108l4 8l6 11l10 12l16 13l26 12l40 15l40 15l44 16v-114l3 8l7 12l9 13l16 13l27 14l40 16l39 16l45 17M332 2091l3 18l5 23l7 28l11 31l15 30l21 31v-242l3 14l5 18l7 21l11 24l15 23l21 24v-393l3 12l5 17l7 18l10 20l15 18l22 19v-111l3 11l6 14l10 18l16 18l27 19l39 20l40 18l44 20v-105l4 9l6 13l10 14l16 15l26 15l40 17l40 17l44 18v-124l4 9l6 11l10 13l15 13l27 14l40 16l40 16l44 17v-110l3 9l7 12l9 13l16 14l27 14l39 17l40 17l44 18v-116l4 9l6 12l10 13l16 13l26 14l40 17l40 17l44 18v-113l4 8l6 12l10 12l16 13l26 13l40 16l40 16l44 17v-119l3 9l7 12l9 13l16 13l27 15l40 17l39 17l45 18M332 2094l3 17l5 23l7 25l11 28l15 26l21 25v-225l3 13l5 17l7 20l11 20l15 20l21 17v-376l3 12l5 15l7 16l10 17l15 15l22 13v-94l3 10l6 14l10 16l16 17l27 17l39 16l40 15l44 16v-89l4 9l6 13l10 13l16 13l26 13l40 13l40 13l44 14v-106l4 8l6 11l10 12l15 12l27 11l40 12l40 12l44 13v-92l3 8l7 12l9 12l16 12l27 12l39 14l40 13l44 14v-99l4 8l6 11l10 12l16 12l26 12l40 14l40 12l44 14v-95l4 8l6 10l10 12l16 11l26 11l40 12l40 12l44 13v-102l3 9l7 11l9 13l16 12l27 12l40 13l39 13l45 15M332 2107l3 18l5 24l7 28l11 31l15 31l21 32v-245l3 14l5 19l7 22l11 24l15 24l21 25v-396l3 13l5 16l7 19l10 20l15 20l22 20v-114l3 10l6 15l10 17l16 19l27 19l39 21l40 19l44 20v-108l4 9l6 14l10 14l16 15l26 15l40 18l40 17l44 19v-126l4 8l6 12l10 13l15 13l27 14l40 17l40 16l44 18v-112l3 9l7 12l9 13l16 14l27 15l39 17l40 18l44 19v-119l4 8l6 12l10 13l16 14l26 15l40 17l40 17l44 19v-115l4 8l6 11l10 13l16 13l26 14l40 16l40 16l44 18v-122l3 9l7 12l9 13l16 14l27 15l40 18l39 17l45 19M332 2097l3 17l5 23l7 26l11 29l15 27l21 27v-230l3 13l5 18l7 20l11 21l15 21l21 20v-381l3 12l5 16l7 17l10 17l15 16l22 15v-99l3 10l6 15l10 16l16 18l27 17l39 17l40 16l44 17v-94l4 10l6 12l10 14l16 14l26 13l40 15l40 13l44 16v-112l4 8l6 12l10 12l15 12l27 12l40 14l40 12l44 15v-98l3 9l7 11l9 13l16 12l27 13l39 15l40 14l44 15v-104l4 9l6 11l10 12l16 13l26 12l40 15l40 14l44 15v-101l4 8l6 11l10 12l16 11l26 12l40 14l40 12l44 15v-107l3 8l7 12l9 12l16 13l27 13l40 15l39 14l45 15M332 2094l3 17l5 24l7 27l11 29l15 29l21 28v-235l3 14l5 18l7 21l11 22l15 22l21 21v-385l3 13l5 15l7 18l10 19l15 17l22 17v-104l3 10l6 14l10 17l16 18l27 18l39 19l40 17l44 18v-99l4 9l6 13l10 14l16 14l26 14l40 16l40 15l44 17v-118l4 9l6 11l10 13l15 12l27 13l40 15l40 14l44 16v-103l3 8l7 12l9 13l16 13l27 13l39 16l40 16l44 16v-109l4 8l6 12l10 12l16 13l26 14l40 15l40 15l44 17v-106l4 8l6 11l10 12l16 12l26 12l40 15l40 14l44 15v-112l3 9l7 11l9 13l16 13l27 14l40 16l39 15l45 17M332 2093l3 17l5 24l7 27l11 30l15 29l21 28v-236l3 14l5 18l7 21l11 23l15 22l21 22v-385l3 12l5 16l7 18l10 19l15 18l22 17v-105l3 10l6 15l10 16l16 19l27 18l39 19l40 17l44 19v-101l4 10l6 12l10 15l16 14l26 14l40 16l40 15l44 17v-118l4 8l6 12l10 12l15 13l27 13l40 15l40 14l44 16v-104l3 9l7 11l9 13l16 14l27 13l39 16l40 16l44 17v-111l4 8l6 12l10 13l16 13l26 13l40 16l40 16l44 17v-108l4 8l6 11l10 12l16 12l26 13l40 15l40 14l44 16v-113l3 8l7 12l9 13l16 13l27 14l40 16l39 16l45 17M332 2083l3 18l5 23l7 26l11 29l15 27l21 27v-230l3 14l5 17l7 20l11 22l15 21l21 20v-377l3 11l5 16l7 17l10 18l15 16l22 16v-99l3 10l6 14l10 17l16 17l27 18l39 17l40 16l44 18v-95l4 9l6 13l10 14l16 14l26 13l40 15l40 14l44 15v-112l4 8l6 11l10 13l15 12l27 12l40 14l40 13l44 14v-98l3 8l7 12l9 13l16 12l27 13l39 15l40 14l44 16v-105l4 8l6 12l10 12l16 13l26 12l40 15l40 14l44 15v-101l4 8l6 11l10 11l16 12l26 12l40 14l40 13l44 14v-107l3 8l7 12l9 12l16 13l27 13l40 15l39 14l45 16M332 2077l3 18l5 22l7 27l11 28l15 27l21 26v-228l3 14l5 17l7 20l11 21l15 21l21 19v-375l3 12l5 15l7 17l10 18l15 16l22 15v-98l3 10l6 15l10 16l16 17l27 18l39 17l40 16l44 17v-93l4 9l6 13l10 13l16 14l26 13l40 14l40 14l44 15v-111l4 9l6 11l10 12l15 12l27 12l40 13l40 13l44 14v-96l3 8l7 12l9 12l16 13l27 12l39 15l40 14l44 15v-103l4 8l6 11l10 13l16 12l26 12l40 15l40 13l44 15v-99l4 7l6 11l10 12l16 12l26 11l40 13l40 13l44 14v-106l3 9l7 11l9 13l16 12l27 13l40 14l39 14l45 16M332 2084l3 17l5 23l7 26l11 29l15 28l21 27v-230l3 13l5 18l7 20l11 22l15 21l21 20v-376l3 11l5 16l7 17l10 18l15 17l22 16v-100l3 10l6 14l10 17l16 18l27 17l39 18l40 16l44 18v-95l4 9l6 13l10 13l16 14l26 14l40 15l40 14l44 15v-113l4 9l6 11l10 12l15 12l27 13l40 14l40 13l44 14v-99l3 9l7 12l9 12l16 13l27 13l39 15l40 14l44 16v-106l4 9l6 11l10 13l16 12l26 13l40 15l40 14l44 16v-103l4 8l6 11l10 12l16 12l26 12l40 14l40 13l44 14v-108l3 8l7 12l9 13l16 12l27 13l40 16l39 14l45 16M332 2086l3 18l5 24l7 27l11 30l15 29l21 30v-238l3 14l5 18l7 21l11 24l15 22l21 23v-384l3 13l5 16l7 18l10 19l15 19l22 18v-107l3 10l6 15l10 17l16 18l27 19l39 19l40 18l44 20v-103l4 9l6 13l10 14l16 15l26 14l40 17l40 16l44 17v-121l4 9l6 11l10 13l15 13l27 13l40 16l40 15l44 16v-106l3 8l7 12l9 13l16 13l27 14l39 17l40 16l44 18v-114l4 9l6 12l10 13l16 13l26 14l40 16l40 16l44 17v-110l4 9l6 11l10 12l16 12l26 13l40 16l40 15l44 16v-116l3 9l7 11l9 14l16 13l27 14l40 17l39 16l45 18" stroke="#a9d6e3" stroke-opacity="0.7" stroke-width="2.2" fill="none"/>
<polyline points="83,561.3 83.2,562.7 83.6,564.8 84,567.4 84.5,570.4 85.2,573.8 86.1,577.8 87.2,582.2 88.5,586.7 90.1,591.3 92.3,596.8 94.9,602.4 98.5,609 98.5,538.2 98.7,539.3 99,540.9 99.5,542.9 100,545.3 100.7,547.8 101.6,550.9 102.7,554.3 104,557.8 105.5,561.3 107.8,565.6 110.4,569.9 113.9,575 113.9,454.6 114.2,455.6 114.5,457 114.9,458.7 115.5,460.6 116.2,462.8 117,465.3 118.2,467.9 119.5,470.6 121,473.3 123.2,476.3 125.9,479.4 129.4,482.9 129.4,448.7 129.6,449.4 130,450.4 130.4,451.7 131,453.1 131.6,454.7 132.5,456.5 133.6,458.6 135,460.6 136.5,462.6 138.7,465 141.4,467.2 144.9,469.7 149.3,472.4 154.8,475.5 160.4,478.4 167,481.9 175.8,486.5 175.8,455 176.1,455.7 176.4,456.6 176.8,457.8 177.4,459.1 178.1,460.5 178.9,462.2 180,463.9 181.4,465.7 182.9,467.4 185.1,469.4 187.8,471.3 191.3,473.5 195.7,476.1 201.3,479.1 206.8,482 213.4,485.5 222.3,490.2 222.3,453.7 222.5,454.3 222.8,455.1 223.3,456.2 223.8,457.4 224.5,458.6 225.4,460.1 226.5,461.7 227.8,463.3 229.3,464.8 231.6,466.6 234.2,468.4 237.7,470.5 242.2,472.9 247.7,475.8 253.2,478.6 259.9,482 268.7,486.5 268.7,453.5 268.9,454.1 269.3,455 269.7,456 270.2,457.2 270.9,458.5 271.8,460.1 272.9,461.7 274.2,463.3 275.8,464.9 278,466.8 280.6,468.6 284.2,470.8 288.6,473.4 294.1,476.4 299.6,479.4 306.3,482.9 315.1,487.7 315.1,453 315.3,453.6 315.7,454.4 316.1,455.5 316.7,456.7 317.3,458 318.2,459.5 319.3,461.1 320.7,462.7 322.2,464.3 324.4,466.1 327.1,468 330.6,470.1 335,472.6 340.5,475.6 346.1,478.6 352.7,482.1 361.5,486.8 361.5,453 361.8,453.6 362.1,454.4 362.5,455.4 363.1,456.5 363.8,457.7 364.6,459.2 365.7,460.7 367.1,462.2 368.6,463.7 370.8,465.5 373.5,467.3 377,469.3 381.4,471.7 387,474.5 392.5,477.4 399.1,480.7 408,485.2 408,449.9 408.2,450.5 408.5,451.3 409,452.4 409.5,453.6 410.2,454.9 411.1,456.4 412.2,458.1 413.5,459.7 415,461.3 417.3,463.2 419.9,465.1 423.4,467.2 427.9,469.8 433.4,472.8 438.9,475.8 445.6,479.4 454.4,484.1" stroke="#111" stroke-width="1.3" fill="none" stroke-linejoin="round"/>
</g>
<path d="M62.2 687.5H64.4M62.2 683.9H64.4M62.2 680.6H64.4M62.2 677.7H64.4M62.2 658.6H64.4M62.2 647.4H64.4M62.2 639.4H64.4M62.2 633.3H64.4M62.2 628.2H64.4M62.2 624H64.4M62.2 620.3H64.4M62.2 617.1H64.4M62.2 614.1H64.4M62.2 595H64.4M62.2 583.8H64.4M62.2 575.9H64.4M62.2 569.7H64.4M62.2 564.7H64.4M62.2 560.4H64.4M62.2 556.8H64.4M62.2 553.5H64.4M62.2 550.6H64.4M62.2 531.5H64.4M62.2 520.3H64.4M62.2 512.3H64.4M62.2 506.2H64.4M62.2 501.1H64.4M62.2 496.9H64.4M62.2 493.2H64.4M62.2 490H64.4M62.2 487.1H64.4M62.2 467.9H64.4M62.2 456.7H64.4M62.2 448.8H64.4M62.2 442.6H64.4M62.2 437.6H64.4M62.2 433.3H64.4M62.2 429.7H64.4M62.2 426.4H64.4M62.2 423.5H64.4M83 690.4v2.2M98.5 690.4v2.2M113.9 690.4v2.2M129.4 690.4v2.2M144.9 690.4v2.2M160.4 690.4v2.2M175.8 690.4v2.2M191.3 690.4v2.2M206.8 690.4v2.2M222.3 690.4v2.2M237.7 690.4v2.2M253.2 690.4v2.2M268.7 690.4v2.2M284.2 690.4v2.2M299.6 690.4v2.2M315.1 690.4v2.2M330.6 690.4v2.2M346.1 690.4v2.2M361.5 690.4v2.2M377 690.4v2.2M392.5 690.4v2.2M408 690.4v2.2M423.4 690.4v2.2M438.9 690.4v2.2M454.4 690.4v2.2" stroke="#555" stroke-width="0.9" fill="none"/>
<rect x="64.4" y="410.8" width="408.5" height="279.6" fill="none" stroke="#7a7a7a" stroke-width="1.1"/>
<text x="60.9" y="427.3" text-anchor="end" class="tk">100</text>
<text x="60.9" y="490.9" text-anchor="end" class="tk">10</text>
<text x="60.9" y="554.4" text-anchor="end" class="tk">1</text>
<text x="60.9" y="617.9" text-anchor="end" class="tk">0.1</text>
<text x="60.9" y="681.5" text-anchor="end" class="tk">0.01</text>
<text x="83" y="702.2" text-anchor="middle" class="tk">0</text>
<text x="129.4" y="702.2" text-anchor="middle" class="tk">21</text>
<text x="175.8" y="702.2" text-anchor="middle" class="tk">42</text>
<text x="222.3" y="702.2" text-anchor="middle" class="tk">63</text>
<text x="268.7" y="702.2" text-anchor="middle" class="tk">84</text>
<text x="315.1" y="702.2" text-anchor="middle" class="tk">105</text>
<text x="361.5" y="702.2" text-anchor="middle" class="tk">126</text>
<text x="408" y="702.2" text-anchor="middle" class="tk">147</text>
<text x="454.4" y="702.2" text-anchor="middle" class="tk">168</text>
<text class="ax" x="268.9" y="729.0" text-anchor="middle" textLength="64.4" lengthAdjust="spacingAndGlyphs">Time (Day)</text>
<text class="ax" style="font-size:13px" transform="translate(36.6 548.4) rotate(-90)" x="0" y="0" text-anchor="middle" textLength="110.6" lengthAdjust="spacingAndGlyphs">Mosun CD20 RO%</text>
<text class="cap" x="15.6" y="755.4" textLength="466.5" lengthAdjust="spacingAndGlyphs">Within panel <tspan font-weight='bold'>A</tspan> are simulated pt popPK model–predicted profiles (n=439) for the 1/2/60/30</text>
<text class="cap" x="15.6" y="770.2" textLength="476.7" lengthAdjust="spacingAndGlyphs">mg dose regimen (doses labeled in bold); simulations are based on individual pt PK parameter</text>
<text class="cap" x="15.6" y="785.1" textLength="476.7" lengthAdjust="spacingAndGlyphs">estimates and use nominal dose times and dose amounts. The black line (median) and shaded</text>
<text class="cap" x="15.6" y="799.9" textLength="445.5" lengthAdjust="spacingAndGlyphs">grey region (95th prediction interval) represent the Mosun concentration–time profiles</text>
<text class="cap" x="15.6" y="814.8" textLength="447.5" lengthAdjust="spacingAndGlyphs">(µg/mL). The solid and dashed green lines are the individual predictions for pt residual R</text>
<text class="cap" x="15.6" y="829.6" textLength="469.6" lengthAdjust="spacingAndGlyphs">(n=195) or G (n=35) concentration–time profiles (µg/mL), respectively, from prior treatment</text>
<text class="cap" x="15.6" y="844.5" textLength="464" lengthAdjust="spacingAndGlyphs">therapies. The red line (median) and shaded red region (95th prediction interval) represent</text>
<text class="cap" x="15.6" y="859.4" textLength="465.3" lengthAdjust="spacingAndGlyphs">the pt clearance (CL)–time courses (L/day). Within panel <tspan font-weight='bold'>B</tspan> are the corresponding individual</text>
<text class="cap" x="15.6" y="874.2" textLength="473.9" lengthAdjust="spacingAndGlyphs">Mosun CD20 RO%–time profiles for each pt in panel A. The black line (median) and blue lines</text>
<text class="cap" x="15.6" y="889" textLength="237" lengthAdjust="spacingAndGlyphs">represent the Mosun CD20RO% for these pts.</text>
<text class="cap" x="15.6" y="903.9" textLength="446" lengthAdjust="spacingAndGlyphs">CL, clearance; G, obinutuzumab; Mosun, mosunetuzumab; PK, pharmacokinetic; popPK,</text>
<text class="cap" x="15.6" y="918.8" textLength="467.8" lengthAdjust="spacingAndGlyphs">population pharmacokinetic; pt, patient; R, rituximab; RO%, receptor occupancy percentage</text>
</svg></body></html>
